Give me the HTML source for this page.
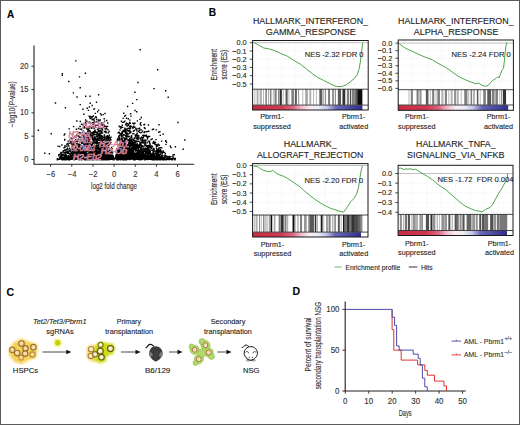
<!DOCTYPE html><html><head><meta charset="utf-8"><style>html,body{margin:0;padding:0;background:#fff;overflow:hidden}svg{display:block}text{font-family:"Liberation Sans",sans-serif}text.t{stroke:#2a2a2a;stroke-width:0.12px}</style></head><body>
<svg width="520" height="425" viewBox="0 0 520 425">
<rect width="520" height="425" fill="#fff"/>
<path fill="#000" d="M86.0 159.6 L90.0 157.0 L96.0 154.5 L103.0 152.5 L109.0 152.5 L112.8 155.5 L114.4 158.2 L115.6 155.5 L118.5 151.0 L125.0 150.5 L135.0 152.5 L145.0 155.0 L154.0 157.5 L160.0 159.6Z"/>
<path fill="#000" d="M95.2 156.7h1.4v1.4h-1.4zM91.6 151.3h1.4v1.4h-1.4zM65.9 158.4h1.4v1.4h-1.4zM88.6 153.5h1.4v1.4h-1.4zM99.8 130.1h1.4v1.4h-1.4zM153.3 153.3h1.4v1.4h-1.4zM126.7 132.6h1.4v1.4h-1.4zM91.2 137.3h1.4v1.4h-1.4zM109.0 151.8h1.4v1.4h-1.4zM159.0 157.9h1.4v1.4h-1.4zM92.2 145.0h1.4v1.4h-1.4zM130.4 149.4h1.4v1.4h-1.4zM80.8 159.0h1.4v1.4h-1.4zM106.4 144.9h1.4v1.4h-1.4zM104.1 137.8h1.4v1.4h-1.4zM107.5 132.0h1.4v1.4h-1.4zM141.6 148.5h1.4v1.4h-1.4zM102.4 159.1h1.4v1.4h-1.4zM84.9 152.7h1.4v1.4h-1.4zM117.3 156.9h1.4v1.4h-1.4zM133.1 142.4h1.4v1.4h-1.4zM91.0 143.9h1.4v1.4h-1.4zM80.2 136.2h1.4v1.4h-1.4zM135.4 145.8h1.4v1.4h-1.4zM122.2 144.7h1.4v1.4h-1.4zM134.9 143.9h1.4v1.4h-1.4zM122.3 156.2h1.4v1.4h-1.4zM159.9 147.0h1.4v1.4h-1.4zM87.3 139.9h1.4v1.4h-1.4zM136.5 132.6h1.4v1.4h-1.4zM78.1 155.4h1.4v1.4h-1.4zM68.9 157.3h1.4v1.4h-1.4zM89.7 152.1h1.4v1.4h-1.4zM125.6 147.6h1.4v1.4h-1.4zM71.5 156.3h1.4v1.4h-1.4zM124.6 152.7h1.4v1.4h-1.4zM124.7 152.6h1.4v1.4h-1.4zM98.2 131.0h1.4v1.4h-1.4zM141.0 154.9h1.4v1.4h-1.4zM84.9 145.8h1.4v1.4h-1.4zM89.2 142.5h1.4v1.4h-1.4zM166.3 158.3h1.4v1.4h-1.4zM118.9 155.8h1.4v1.4h-1.4zM86.4 145.4h1.4v1.4h-1.4zM80.6 157.1h1.4v1.4h-1.4zM101.3 144.3h1.4v1.4h-1.4zM72.6 154.8h1.4v1.4h-1.4zM82.9 134.2h1.4v1.4h-1.4zM97.0 151.8h1.4v1.4h-1.4zM86.3 136.6h1.4v1.4h-1.4zM162.5 150.3h1.4v1.4h-1.4zM149.7 157.8h1.4v1.4h-1.4zM92.4 126.2h1.4v1.4h-1.4zM79.8 156.3h1.4v1.4h-1.4zM66.0 155.7h1.4v1.4h-1.4zM122.1 137.4h1.4v1.4h-1.4zM93.7 142.4h1.4v1.4h-1.4zM138.6 155.6h1.4v1.4h-1.4zM104.0 150.1h1.4v1.4h-1.4zM117.8 158.7h1.4v1.4h-1.4zM129.3 138.4h1.4v1.4h-1.4zM96.9 139.0h1.4v1.4h-1.4zM110.6 154.6h1.4v1.4h-1.4zM108.9 156.0h1.4v1.4h-1.4zM166.4 155.7h1.4v1.4h-1.4zM80.8 158.4h1.4v1.4h-1.4zM90.3 144.0h1.4v1.4h-1.4zM72.8 157.1h1.4v1.4h-1.4zM91.0 141.4h1.4v1.4h-1.4zM147.7 124.3h1.4v1.4h-1.4zM104.5 156.8h1.4v1.4h-1.4zM128.1 156.4h1.4v1.4h-1.4zM148.1 130.6h1.4v1.4h-1.4zM125.7 148.4h1.4v1.4h-1.4zM94.6 138.6h1.4v1.4h-1.4zM82.4 142.4h1.4v1.4h-1.4zM91.9 148.8h1.4v1.4h-1.4zM149.7 145.9h1.4v1.4h-1.4zM120.7 132.6h1.4v1.4h-1.4zM82.6 155.7h1.4v1.4h-1.4zM68.4 158.3h1.4v1.4h-1.4zM123.6 157.2h1.4v1.4h-1.4zM130.6 154.6h1.4v1.4h-1.4zM118.7 156.4h1.4v1.4h-1.4zM148.7 146.1h1.4v1.4h-1.4zM82.8 151.1h1.4v1.4h-1.4zM85.4 150.8h1.4v1.4h-1.4zM153.2 157.2h1.4v1.4h-1.4zM123.3 155.4h1.4v1.4h-1.4zM148.8 158.1h1.4v1.4h-1.4zM69.1 140.6h1.4v1.4h-1.4zM89.9 155.8h1.4v1.4h-1.4zM121.5 158.9h1.4v1.4h-1.4zM77.2 143.2h1.4v1.4h-1.4zM103.6 151.4h1.4v1.4h-1.4zM96.4 139.6h1.4v1.4h-1.4zM105.7 143.3h1.4v1.4h-1.4zM120.1 158.5h1.4v1.4h-1.4zM130.1 158.2h1.4v1.4h-1.4zM82.1 140.0h1.4v1.4h-1.4zM121.7 130.8h1.4v1.4h-1.4zM128.9 149.8h1.4v1.4h-1.4zM84.4 157.1h1.4v1.4h-1.4zM118.4 158.4h1.4v1.4h-1.4zM126.1 134.1h1.4v1.4h-1.4zM144.5 142.7h1.4v1.4h-1.4zM86.0 147.4h1.4v1.4h-1.4zM141.6 157.7h1.4v1.4h-1.4zM101.7 127.3h1.4v1.4h-1.4zM63.1 149.9h1.4v1.4h-1.4zM129.1 153.4h1.4v1.4h-1.4zM141.4 154.0h1.4v1.4h-1.4zM67.5 157.7h1.4v1.4h-1.4zM165.4 159.0h1.4v1.4h-1.4zM135.9 156.4h1.4v1.4h-1.4zM99.4 138.3h1.4v1.4h-1.4zM88.0 158.5h1.4v1.4h-1.4zM133.0 123.1h1.4v1.4h-1.4zM75.5 157.4h1.4v1.4h-1.4zM163.7 157.0h1.4v1.4h-1.4zM81.8 150.8h1.4v1.4h-1.4zM65.0 151.2h1.4v1.4h-1.4zM157.4 157.5h1.4v1.4h-1.4zM127.7 148.2h1.4v1.4h-1.4zM128.3 146.9h1.4v1.4h-1.4zM156.5 149.5h1.4v1.4h-1.4zM100.6 155.6h1.4v1.4h-1.4zM87.7 136.9h1.4v1.4h-1.4zM145.4 148.3h1.4v1.4h-1.4zM71.8 157.1h1.4v1.4h-1.4zM132.0 158.1h1.4v1.4h-1.4zM97.6 158.6h1.4v1.4h-1.4zM87.9 138.1h1.4v1.4h-1.4zM96.1 157.6h1.4v1.4h-1.4zM91.3 152.0h1.4v1.4h-1.4zM65.8 155.6h1.4v1.4h-1.4zM143.7 127.0h1.4v1.4h-1.4zM89.5 151.6h1.4v1.4h-1.4zM148.0 157.9h1.4v1.4h-1.4zM102.4 158.0h1.4v1.4h-1.4zM144.8 155.2h1.4v1.4h-1.4zM87.5 133.1h1.4v1.4h-1.4zM138.6 155.9h1.4v1.4h-1.4zM134.7 134.2h1.4v1.4h-1.4zM155.0 150.4h1.4v1.4h-1.4zM89.8 142.8h1.4v1.4h-1.4zM96.9 156.0h1.4v1.4h-1.4zM158.5 157.8h1.4v1.4h-1.4zM127.1 157.4h1.4v1.4h-1.4zM122.5 143.4h1.4v1.4h-1.4zM64.5 149.5h1.4v1.4h-1.4zM94.0 156.0h1.4v1.4h-1.4zM86.6 150.3h1.4v1.4h-1.4zM87.7 131.1h1.4v1.4h-1.4zM95.3 158.9h1.4v1.4h-1.4zM84.6 144.2h1.4v1.4h-1.4zM90.8 155.6h1.4v1.4h-1.4zM89.7 136.5h1.4v1.4h-1.4zM97.6 130.7h1.4v1.4h-1.4zM89.4 152.2h1.4v1.4h-1.4zM105.4 131.5h1.4v1.4h-1.4zM105.4 156.1h1.4v1.4h-1.4zM137.7 155.1h1.4v1.4h-1.4zM140.4 137.0h1.4v1.4h-1.4zM171.6 159.1h1.4v1.4h-1.4zM89.9 117.9h1.4v1.4h-1.4zM121.3 137.5h1.4v1.4h-1.4zM117.2 138.2h1.4v1.4h-1.4zM93.6 156.2h1.4v1.4h-1.4zM158.7 144.6h1.4v1.4h-1.4zM89.7 156.0h1.4v1.4h-1.4zM129.0 146.8h1.4v1.4h-1.4zM92.6 138.9h1.4v1.4h-1.4zM90.0 133.9h1.4v1.4h-1.4zM71.7 156.8h1.4v1.4h-1.4zM120.6 155.1h1.4v1.4h-1.4zM143.3 134.4h1.4v1.4h-1.4zM140.2 157.3h1.4v1.4h-1.4zM156.4 154.0h1.4v1.4h-1.4zM153.0 157.5h1.4v1.4h-1.4zM139.7 146.5h1.4v1.4h-1.4zM118.0 157.8h1.4v1.4h-1.4zM120.7 146.3h1.4v1.4h-1.4zM127.1 140.4h1.4v1.4h-1.4zM134.6 156.0h1.4v1.4h-1.4zM104.9 140.4h1.4v1.4h-1.4zM158.5 149.6h1.4v1.4h-1.4zM69.4 150.5h1.4v1.4h-1.4zM84.3 158.7h1.4v1.4h-1.4zM162.0 159.0h1.4v1.4h-1.4zM83.8 158.1h1.4v1.4h-1.4zM103.0 149.1h1.4v1.4h-1.4zM86.4 143.7h1.4v1.4h-1.4zM85.5 142.2h1.4v1.4h-1.4zM156.0 151.2h1.4v1.4h-1.4zM164.5 156.3h1.4v1.4h-1.4zM151.9 155.4h1.4v1.4h-1.4zM125.1 139.1h1.4v1.4h-1.4zM132.9 151.2h1.4v1.4h-1.4zM132.6 153.1h1.4v1.4h-1.4zM88.4 159.1h1.4v1.4h-1.4zM81.9 138.4h1.4v1.4h-1.4zM79.3 125.9h1.4v1.4h-1.4zM141.7 150.3h1.4v1.4h-1.4zM82.7 148.7h1.4v1.4h-1.4zM82.3 146.6h1.4v1.4h-1.4zM116.5 155.9h1.4v1.4h-1.4zM139.0 143.8h1.4v1.4h-1.4zM138.7 131.5h1.4v1.4h-1.4zM82.9 156.4h1.4v1.4h-1.4zM84.2 154.7h1.4v1.4h-1.4zM94.3 155.8h1.4v1.4h-1.4zM160.9 155.0h1.4v1.4h-1.4zM101.5 158.5h1.4v1.4h-1.4zM97.9 151.2h1.4v1.4h-1.4zM91.6 153.8h1.4v1.4h-1.4zM135.0 148.7h1.4v1.4h-1.4zM145.5 135.6h1.4v1.4h-1.4zM165.1 140.0h1.4v1.4h-1.4zM84.2 140.9h1.4v1.4h-1.4zM100.7 154.5h1.4v1.4h-1.4zM96.4 132.8h1.4v1.4h-1.4zM101.1 151.1h1.4v1.4h-1.4zM130.2 115.4h1.4v1.4h-1.4zM101.2 159.0h1.4v1.4h-1.4zM119.2 142.4h1.4v1.4h-1.4zM111.5 147.9h1.4v1.4h-1.4zM98.6 147.6h1.4v1.4h-1.4zM68.0 155.2h1.4v1.4h-1.4zM107.4 158.4h1.4v1.4h-1.4zM99.5 119.3h1.4v1.4h-1.4zM69.9 155.8h1.4v1.4h-1.4zM84.1 144.1h1.4v1.4h-1.4zM59.1 156.8h1.4v1.4h-1.4zM96.3 156.9h1.4v1.4h-1.4zM105.7 127.4h1.4v1.4h-1.4zM93.9 158.9h1.4v1.4h-1.4zM160.2 157.0h1.4v1.4h-1.4zM125.2 138.9h1.4v1.4h-1.4zM131.5 147.0h1.4v1.4h-1.4zM130.3 157.6h1.4v1.4h-1.4zM112.6 157.6h1.4v1.4h-1.4zM123.5 153.4h1.4v1.4h-1.4zM122.2 145.5h1.4v1.4h-1.4zM124.2 153.4h1.4v1.4h-1.4zM145.0 157.7h1.4v1.4h-1.4zM83.6 157.0h1.4v1.4h-1.4zM153.7 159.0h1.4v1.4h-1.4zM77.3 149.0h1.4v1.4h-1.4zM85.5 158.0h1.4v1.4h-1.4zM143.4 131.9h1.4v1.4h-1.4zM153.5 150.3h1.4v1.4h-1.4zM156.2 148.5h1.4v1.4h-1.4zM94.2 131.5h1.4v1.4h-1.4zM140.5 152.4h1.4v1.4h-1.4zM85.4 155.1h1.4v1.4h-1.4zM92.4 153.1h1.4v1.4h-1.4zM76.7 158.5h1.4v1.4h-1.4zM96.7 159.1h1.4v1.4h-1.4zM88.3 139.9h1.4v1.4h-1.4zM85.4 155.6h1.4v1.4h-1.4zM87.6 144.5h1.4v1.4h-1.4zM92.5 132.5h1.4v1.4h-1.4zM101.6 122.8h1.4v1.4h-1.4zM97.9 156.1h1.4v1.4h-1.4zM95.1 141.7h1.4v1.4h-1.4zM99.4 154.4h1.4v1.4h-1.4zM168.8 157.5h1.4v1.4h-1.4zM127.7 156.0h1.4v1.4h-1.4zM85.0 140.1h1.4v1.4h-1.4zM134.8 156.1h1.4v1.4h-1.4zM60.9 158.9h1.4v1.4h-1.4zM87.6 143.5h1.4v1.4h-1.4zM105.2 130.7h1.4v1.4h-1.4zM147.8 148.3h1.4v1.4h-1.4zM88.8 148.2h1.4v1.4h-1.4zM94.7 156.4h1.4v1.4h-1.4zM126.2 156.1h1.4v1.4h-1.4zM124.7 142.7h1.4v1.4h-1.4zM79.3 154.4h1.4v1.4h-1.4zM97.3 155.4h1.4v1.4h-1.4zM120.6 145.2h1.4v1.4h-1.4zM144.6 150.8h1.4v1.4h-1.4zM101.6 156.4h1.4v1.4h-1.4zM72.2 153.1h1.4v1.4h-1.4zM142.0 154.3h1.4v1.4h-1.4zM75.7 128.6h1.4v1.4h-1.4zM152.9 154.4h1.4v1.4h-1.4zM82.6 153.4h1.4v1.4h-1.4zM130.9 152.9h1.4v1.4h-1.4zM133.3 155.1h1.4v1.4h-1.4zM147.8 157.1h1.4v1.4h-1.4zM136.9 146.4h1.4v1.4h-1.4zM88.9 149.0h1.4v1.4h-1.4zM125.2 143.5h1.4v1.4h-1.4zM135.0 150.4h1.4v1.4h-1.4zM99.2 138.4h1.4v1.4h-1.4zM154.8 155.5h1.4v1.4h-1.4zM139.4 142.3h1.4v1.4h-1.4zM83.3 153.4h1.4v1.4h-1.4zM122.7 150.4h1.4v1.4h-1.4zM62.5 150.6h1.4v1.4h-1.4zM102.8 156.9h1.4v1.4h-1.4zM92.9 146.5h1.4v1.4h-1.4zM85.7 122.8h1.4v1.4h-1.4zM142.8 145.4h1.4v1.4h-1.4zM129.6 139.1h1.4v1.4h-1.4zM128.2 143.8h1.4v1.4h-1.4zM140.4 147.9h1.4v1.4h-1.4zM154.2 158.2h1.4v1.4h-1.4zM134.1 139.7h1.4v1.4h-1.4zM79.1 151.1h1.4v1.4h-1.4zM130.7 148.8h1.4v1.4h-1.4zM127.4 158.2h1.4v1.4h-1.4zM134.5 146.8h1.4v1.4h-1.4zM158.3 147.6h1.4v1.4h-1.4zM163.1 157.4h1.4v1.4h-1.4zM132.6 149.4h1.4v1.4h-1.4zM61.3 158.3h1.4v1.4h-1.4zM86.7 139.0h1.4v1.4h-1.4zM83.8 135.9h1.4v1.4h-1.4zM147.2 145.1h1.4v1.4h-1.4zM144.7 151.4h1.4v1.4h-1.4zM102.6 146.2h1.4v1.4h-1.4zM94.7 136.4h1.4v1.4h-1.4zM74.3 140.2h1.4v1.4h-1.4zM98.2 127.6h1.4v1.4h-1.4zM139.1 145.4h1.4v1.4h-1.4zM106.4 148.5h1.4v1.4h-1.4zM135.3 154.1h1.4v1.4h-1.4zM85.9 142.7h1.4v1.4h-1.4zM90.4 134.6h1.4v1.4h-1.4zM124.3 157.9h1.4v1.4h-1.4zM108.6 143.6h1.4v1.4h-1.4zM65.8 156.5h1.4v1.4h-1.4zM97.9 134.8h1.4v1.4h-1.4zM94.9 147.2h1.4v1.4h-1.4zM79.7 149.3h1.4v1.4h-1.4zM93.4 150.5h1.4v1.4h-1.4zM83.7 158.5h1.4v1.4h-1.4zM146.6 156.4h1.4v1.4h-1.4zM89.2 156.3h1.4v1.4h-1.4zM104.1 158.2h1.4v1.4h-1.4zM68.9 159.0h1.4v1.4h-1.4zM154.4 151.4h1.4v1.4h-1.4zM72.6 151.5h1.4v1.4h-1.4zM133.9 126.6h1.4v1.4h-1.4zM130.6 150.3h1.4v1.4h-1.4zM161.4 158.2h1.4v1.4h-1.4zM99.1 158.5h1.4v1.4h-1.4zM84.0 150.9h1.4v1.4h-1.4zM115.6 151.4h1.4v1.4h-1.4zM90.6 137.1h1.4v1.4h-1.4zM128.7 157.0h1.4v1.4h-1.4zM168.6 158.9h1.4v1.4h-1.4zM112.0 158.1h1.4v1.4h-1.4zM64.0 156.0h1.4v1.4h-1.4zM73.2 143.5h1.4v1.4h-1.4zM99.1 153.1h1.4v1.4h-1.4zM129.8 152.8h1.4v1.4h-1.4zM121.2 141.2h1.4v1.4h-1.4zM79.3 155.3h1.4v1.4h-1.4zM106.1 157.3h1.4v1.4h-1.4zM123.8 149.5h1.4v1.4h-1.4zM141.7 158.9h1.4v1.4h-1.4zM78.7 148.5h1.4v1.4h-1.4zM62.5 151.9h1.4v1.4h-1.4zM113.0 159.0h1.4v1.4h-1.4zM82.3 124.3h1.4v1.4h-1.4zM88.9 152.3h1.4v1.4h-1.4zM67.9 157.5h1.4v1.4h-1.4zM70.2 149.9h1.4v1.4h-1.4zM98.9 154.9h1.4v1.4h-1.4zM128.9 121.8h1.4v1.4h-1.4zM158.1 152.1h1.4v1.4h-1.4zM110.0 151.9h1.4v1.4h-1.4zM98.7 134.0h1.4v1.4h-1.4zM72.9 142.2h1.4v1.4h-1.4zM129.6 152.7h1.4v1.4h-1.4zM144.1 131.1h1.4v1.4h-1.4zM58.5 158.7h1.4v1.4h-1.4zM87.1 144.2h1.4v1.4h-1.4zM100.7 150.2h1.4v1.4h-1.4zM128.4 155.0h1.4v1.4h-1.4zM96.5 157.6h1.4v1.4h-1.4zM140.1 154.9h1.4v1.4h-1.4zM105.5 141.5h1.4v1.4h-1.4zM75.3 155.7h1.4v1.4h-1.4zM87.7 129.5h1.4v1.4h-1.4zM110.3 136.5h1.4v1.4h-1.4zM94.4 155.9h1.4v1.4h-1.4zM66.3 158.5h1.4v1.4h-1.4zM107.2 155.6h1.4v1.4h-1.4zM126.9 128.2h1.4v1.4h-1.4zM130.3 143.9h1.4v1.4h-1.4zM107.6 146.3h1.4v1.4h-1.4zM135.3 145.4h1.4v1.4h-1.4zM129.1 154.4h1.4v1.4h-1.4zM110.7 158.0h1.4v1.4h-1.4zM93.7 123.4h1.4v1.4h-1.4zM84.5 155.4h1.4v1.4h-1.4zM139.6 138.2h1.4v1.4h-1.4zM141.8 154.3h1.4v1.4h-1.4zM76.3 151.3h1.4v1.4h-1.4zM127.6 154.6h1.4v1.4h-1.4zM122.1 135.4h1.4v1.4h-1.4zM149.3 151.6h1.4v1.4h-1.4zM90.4 152.6h1.4v1.4h-1.4zM75.2 139.7h1.4v1.4h-1.4zM65.6 158.7h1.4v1.4h-1.4zM157.5 155.5h1.4v1.4h-1.4zM80.0 154.6h1.4v1.4h-1.4zM80.5 147.7h1.4v1.4h-1.4zM158.4 159.0h1.4v1.4h-1.4zM94.6 157.3h1.4v1.4h-1.4zM73.7 154.8h1.4v1.4h-1.4zM101.8 153.2h1.4v1.4h-1.4zM143.8 157.3h1.4v1.4h-1.4zM78.0 148.1h1.4v1.4h-1.4zM110.6 156.2h1.4v1.4h-1.4zM166.0 158.9h1.4v1.4h-1.4zM140.6 157.2h1.4v1.4h-1.4zM133.4 141.3h1.4v1.4h-1.4zM157.8 148.4h1.4v1.4h-1.4zM104.4 150.2h1.4v1.4h-1.4zM95.6 139.7h1.4v1.4h-1.4zM150.8 154.2h1.4v1.4h-1.4zM103.7 156.6h1.4v1.4h-1.4zM71.2 146.7h1.4v1.4h-1.4zM133.3 142.3h1.4v1.4h-1.4zM135.7 145.0h1.4v1.4h-1.4zM94.1 134.2h1.4v1.4h-1.4zM68.3 159.1h1.4v1.4h-1.4zM143.6 150.5h1.4v1.4h-1.4zM76.1 120.3h1.4v1.4h-1.4zM103.5 155.4h1.4v1.4h-1.4zM105.9 156.2h1.4v1.4h-1.4zM85.1 158.8h1.4v1.4h-1.4zM84.9 119.3h1.4v1.4h-1.4zM128.8 145.4h1.4v1.4h-1.4zM96.3 147.1h1.4v1.4h-1.4zM148.9 135.7h1.4v1.4h-1.4zM98.8 133.7h1.4v1.4h-1.4zM91.6 136.8h1.4v1.4h-1.4zM149.6 158.1h1.4v1.4h-1.4zM133.6 146.2h1.4v1.4h-1.4zM70.6 155.8h1.4v1.4h-1.4zM158.7 157.4h1.4v1.4h-1.4zM96.2 152.4h1.4v1.4h-1.4zM108.4 136.2h1.4v1.4h-1.4zM122.1 158.0h1.4v1.4h-1.4zM88.0 128.6h1.4v1.4h-1.4zM96.5 151.4h1.4v1.4h-1.4zM152.3 142.3h1.4v1.4h-1.4zM154.6 158.9h1.4v1.4h-1.4zM98.5 137.0h1.4v1.4h-1.4zM133.1 139.5h1.4v1.4h-1.4zM132.9 155.8h1.4v1.4h-1.4zM156.7 156.8h1.4v1.4h-1.4zM122.8 157.7h1.4v1.4h-1.4zM84.0 142.2h1.4v1.4h-1.4zM98.6 157.1h1.4v1.4h-1.4zM148.6 151.1h1.4v1.4h-1.4zM83.6 133.2h1.4v1.4h-1.4zM75.3 156.2h1.4v1.4h-1.4zM155.6 156.3h1.4v1.4h-1.4zM56.7 159.1h1.4v1.4h-1.4zM96.4 141.6h1.4v1.4h-1.4zM117.0 157.6h1.4v1.4h-1.4zM162.5 133.6h1.4v1.4h-1.4zM59.0 157.2h1.4v1.4h-1.4zM83.0 135.6h1.4v1.4h-1.4zM134.7 140.5h1.4v1.4h-1.4zM90.1 151.1h1.4v1.4h-1.4zM151.4 154.7h1.4v1.4h-1.4zM95.9 141.6h1.4v1.4h-1.4zM126.9 124.7h1.4v1.4h-1.4zM131.7 126.7h1.4v1.4h-1.4zM132.8 149.3h1.4v1.4h-1.4zM93.6 151.5h1.4v1.4h-1.4zM85.4 155.0h1.4v1.4h-1.4zM85.7 133.6h1.4v1.4h-1.4zM120.1 139.1h1.4v1.4h-1.4zM84.7 140.6h1.4v1.4h-1.4zM92.7 152.4h1.4v1.4h-1.4zM128.5 150.4h1.4v1.4h-1.4zM101.7 158.5h1.4v1.4h-1.4zM130.6 150.6h1.4v1.4h-1.4zM141.0 141.6h1.4v1.4h-1.4zM87.5 146.6h1.4v1.4h-1.4zM132.0 157.1h1.4v1.4h-1.4zM92.1 137.6h1.4v1.4h-1.4zM67.6 151.2h1.4v1.4h-1.4zM119.1 155.6h1.4v1.4h-1.4zM161.0 158.4h1.4v1.4h-1.4zM91.2 151.9h1.4v1.4h-1.4zM160.8 156.8h1.4v1.4h-1.4zM133.6 144.1h1.4v1.4h-1.4zM141.0 157.8h1.4v1.4h-1.4zM163.7 158.0h1.4v1.4h-1.4zM150.2 154.5h1.4v1.4h-1.4zM119.7 148.6h1.4v1.4h-1.4zM144.8 158.3h1.4v1.4h-1.4zM167.8 158.3h1.4v1.4h-1.4zM88.9 121.3h1.4v1.4h-1.4zM127.0 156.9h1.4v1.4h-1.4zM89.3 145.9h1.4v1.4h-1.4zM130.4 140.7h1.4v1.4h-1.4zM123.2 136.9h1.4v1.4h-1.4zM134.4 109.8h1.4v1.4h-1.4zM131.3 153.2h1.4v1.4h-1.4zM73.5 152.2h1.4v1.4h-1.4zM144.4 153.2h1.4v1.4h-1.4zM127.8 127.7h1.4v1.4h-1.4zM69.4 157.1h1.4v1.4h-1.4zM84.7 153.5h1.4v1.4h-1.4zM128.0 144.8h1.4v1.4h-1.4zM101.3 158.5h1.4v1.4h-1.4zM88.2 133.2h1.4v1.4h-1.4zM128.9 158.0h1.4v1.4h-1.4zM118.2 147.7h1.4v1.4h-1.4zM87.6 157.2h1.4v1.4h-1.4zM122.8 155.3h1.4v1.4h-1.4zM101.8 156.4h1.4v1.4h-1.4zM84.8 157.1h1.4v1.4h-1.4zM71.8 152.7h1.4v1.4h-1.4zM156.6 150.9h1.4v1.4h-1.4zM83.1 152.0h1.4v1.4h-1.4zM104.5 155.1h1.4v1.4h-1.4zM101.4 140.9h1.4v1.4h-1.4zM102.8 147.1h1.4v1.4h-1.4zM94.0 136.9h1.4v1.4h-1.4zM96.2 158.5h1.4v1.4h-1.4zM80.8 128.9h1.4v1.4h-1.4zM138.3 158.6h1.4v1.4h-1.4zM169.1 158.7h1.4v1.4h-1.4zM128.7 149.1h1.4v1.4h-1.4zM120.8 149.0h1.4v1.4h-1.4zM76.1 141.8h1.4v1.4h-1.4zM97.5 133.5h1.4v1.4h-1.4zM119.1 146.6h1.4v1.4h-1.4zM128.5 157.4h1.4v1.4h-1.4zM130.2 141.2h1.4v1.4h-1.4zM91.1 156.6h1.4v1.4h-1.4zM139.1 157.3h1.4v1.4h-1.4zM96.1 149.2h1.4v1.4h-1.4zM78.3 158.9h1.4v1.4h-1.4zM135.7 157.8h1.4v1.4h-1.4zM137.3 150.0h1.4v1.4h-1.4zM92.2 148.0h1.4v1.4h-1.4zM141.4 152.8h1.4v1.4h-1.4zM63.3 147.1h1.4v1.4h-1.4zM155.1 153.1h1.4v1.4h-1.4zM135.5 128.7h1.4v1.4h-1.4zM74.6 152.0h1.4v1.4h-1.4zM90.6 144.9h1.4v1.4h-1.4zM101.2 146.8h1.4v1.4h-1.4zM82.7 158.2h1.4v1.4h-1.4zM123.1 159.1h1.4v1.4h-1.4zM116.7 147.7h1.4v1.4h-1.4zM118.9 150.8h1.4v1.4h-1.4zM128.2 133.2h1.4v1.4h-1.4zM84.0 145.3h1.4v1.4h-1.4zM79.4 153.1h1.4v1.4h-1.4zM81.4 157.2h1.4v1.4h-1.4zM65.7 148.7h1.4v1.4h-1.4zM128.6 155.1h1.4v1.4h-1.4zM120.8 158.6h1.4v1.4h-1.4zM133.6 142.0h1.4v1.4h-1.4zM77.7 145.1h1.4v1.4h-1.4zM76.7 154.6h1.4v1.4h-1.4zM136.4 153.3h1.4v1.4h-1.4zM71.9 148.4h1.4v1.4h-1.4zM109.0 152.7h1.4v1.4h-1.4zM83.3 152.1h1.4v1.4h-1.4zM106.7 140.2h1.4v1.4h-1.4zM93.7 145.2h1.4v1.4h-1.4zM149.0 150.7h1.4v1.4h-1.4zM117.1 151.2h1.4v1.4h-1.4zM151.2 149.4h1.4v1.4h-1.4zM142.0 139.5h1.4v1.4h-1.4zM104.5 139.2h1.4v1.4h-1.4zM172.3 154.2h1.4v1.4h-1.4zM129.6 150.6h1.4v1.4h-1.4zM142.1 152.1h1.4v1.4h-1.4zM67.6 144.3h1.4v1.4h-1.4zM73.8 148.0h1.4v1.4h-1.4zM67.1 152.7h1.4v1.4h-1.4zM97.6 158.6h1.4v1.4h-1.4zM106.4 150.5h1.4v1.4h-1.4zM120.3 147.2h1.4v1.4h-1.4zM83.6 138.7h1.4v1.4h-1.4zM108.3 151.4h1.4v1.4h-1.4zM95.2 150.3h1.4v1.4h-1.4zM72.7 157.0h1.4v1.4h-1.4zM89.7 149.2h1.4v1.4h-1.4zM112.0 157.4h1.4v1.4h-1.4zM131.4 143.3h1.4v1.4h-1.4zM83.2 155.8h1.4v1.4h-1.4zM103.1 141.7h1.4v1.4h-1.4zM60.6 157.2h1.4v1.4h-1.4zM121.4 153.7h1.4v1.4h-1.4zM93.9 155.0h1.4v1.4h-1.4zM130.2 158.0h1.4v1.4h-1.4zM165.9 141.7h1.4v1.4h-1.4zM93.2 152.1h1.4v1.4h-1.4zM161.2 157.7h1.4v1.4h-1.4zM83.2 152.5h1.4v1.4h-1.4zM86.4 128.3h1.4v1.4h-1.4zM88.3 147.2h1.4v1.4h-1.4zM69.0 156.8h1.4v1.4h-1.4zM105.2 148.4h1.4v1.4h-1.4zM119.1 142.9h1.4v1.4h-1.4zM89.8 142.9h1.4v1.4h-1.4zM104.2 148.3h1.4v1.4h-1.4zM76.9 147.9h1.4v1.4h-1.4zM133.6 137.6h1.4v1.4h-1.4zM85.8 147.7h1.4v1.4h-1.4zM89.4 148.4h1.4v1.4h-1.4zM93.4 142.4h1.4v1.4h-1.4zM61.0 156.6h1.4v1.4h-1.4zM66.9 158.1h1.4v1.4h-1.4zM93.1 152.2h1.4v1.4h-1.4zM152.5 156.2h1.4v1.4h-1.4zM66.8 157.1h1.4v1.4h-1.4zM123.5 145.6h1.4v1.4h-1.4zM110.6 156.0h1.4v1.4h-1.4zM96.1 145.1h1.4v1.4h-1.4zM130.5 152.9h1.4v1.4h-1.4zM141.0 141.5h1.4v1.4h-1.4zM124.8 138.7h1.4v1.4h-1.4zM64.7 158.8h1.4v1.4h-1.4zM133.5 153.8h1.4v1.4h-1.4zM119.3 155.9h1.4v1.4h-1.4zM119.6 141.4h1.4v1.4h-1.4zM128.8 140.9h1.4v1.4h-1.4zM135.7 147.9h1.4v1.4h-1.4zM136.4 137.7h1.4v1.4h-1.4zM151.7 154.2h1.4v1.4h-1.4zM84.6 147.7h1.4v1.4h-1.4zM88.2 151.5h1.4v1.4h-1.4zM100.6 114.3h1.4v1.4h-1.4zM158.6 157.3h1.4v1.4h-1.4zM146.3 158.3h1.4v1.4h-1.4zM99.4 128.2h1.4v1.4h-1.4zM145.0 155.2h1.4v1.4h-1.4zM104.9 149.0h1.4v1.4h-1.4zM143.5 141.8h1.4v1.4h-1.4zM106.9 158.4h1.4v1.4h-1.4zM71.5 144.2h1.4v1.4h-1.4zM144.3 148.2h1.4v1.4h-1.4zM124.3 138.6h1.4v1.4h-1.4zM91.1 145.6h1.4v1.4h-1.4zM155.7 158.6h1.4v1.4h-1.4zM107.2 158.5h1.4v1.4h-1.4zM117.5 132.1h1.4v1.4h-1.4zM110.2 157.8h1.4v1.4h-1.4zM145.0 155.2h1.4v1.4h-1.4zM129.2 132.1h1.4v1.4h-1.4zM77.9 157.9h1.4v1.4h-1.4zM144.6 150.1h1.4v1.4h-1.4zM90.3 135.2h1.4v1.4h-1.4zM138.5 155.2h1.4v1.4h-1.4zM87.8 153.1h1.4v1.4h-1.4zM103.2 157.2h1.4v1.4h-1.4zM143.0 148.2h1.4v1.4h-1.4zM104.2 156.5h1.4v1.4h-1.4zM112.2 158.8h1.4v1.4h-1.4zM107.7 155.4h1.4v1.4h-1.4zM109.5 151.6h1.4v1.4h-1.4zM98.7 153.3h1.4v1.4h-1.4zM99.1 148.4h1.4v1.4h-1.4zM118.9 135.0h1.4v1.4h-1.4zM168.2 158.6h1.4v1.4h-1.4zM132.2 151.1h1.4v1.4h-1.4zM81.6 147.2h1.4v1.4h-1.4zM94.1 129.7h1.4v1.4h-1.4zM106.8 156.4h1.4v1.4h-1.4zM83.7 149.1h1.4v1.4h-1.4zM129.6 154.8h1.4v1.4h-1.4zM101.4 151.4h1.4v1.4h-1.4zM111.6 157.7h1.4v1.4h-1.4zM123.9 154.4h1.4v1.4h-1.4zM120.9 135.7h1.4v1.4h-1.4zM82.0 157.1h1.4v1.4h-1.4zM129.7 154.7h1.4v1.4h-1.4zM122.5 153.3h1.4v1.4h-1.4zM116.9 157.5h1.4v1.4h-1.4zM80.9 155.0h1.4v1.4h-1.4zM103.2 151.8h1.4v1.4h-1.4zM74.8 149.4h1.4v1.4h-1.4zM163.7 158.8h1.4v1.4h-1.4zM140.8 155.8h1.4v1.4h-1.4zM140.0 147.2h1.4v1.4h-1.4zM76.1 155.1h1.4v1.4h-1.4zM108.6 152.1h1.4v1.4h-1.4zM89.2 156.1h1.4v1.4h-1.4zM157.1 156.8h1.4v1.4h-1.4zM101.2 155.0h1.4v1.4h-1.4zM61.9 155.0h1.4v1.4h-1.4zM128.5 154.8h1.4v1.4h-1.4zM127.2 135.4h1.4v1.4h-1.4zM152.6 150.7h1.4v1.4h-1.4zM83.5 144.5h1.4v1.4h-1.4zM140.7 157.0h1.4v1.4h-1.4zM78.7 144.7h1.4v1.4h-1.4zM85.5 158.8h1.4v1.4h-1.4zM89.3 155.3h1.4v1.4h-1.4zM136.0 156.9h1.4v1.4h-1.4zM126.8 130.1h1.4v1.4h-1.4zM140.3 154.4h1.4v1.4h-1.4zM155.8 158.4h1.4v1.4h-1.4zM88.5 115.6h1.4v1.4h-1.4zM124.8 148.2h1.4v1.4h-1.4zM104.5 157.0h1.4v1.4h-1.4zM122.5 157.1h1.4v1.4h-1.4zM135.4 152.8h1.4v1.4h-1.4zM110.4 157.4h1.4v1.4h-1.4zM148.0 144.7h1.4v1.4h-1.4zM90.2 134.0h1.4v1.4h-1.4zM174.7 146.1h1.4v1.4h-1.4zM159.0 157.1h1.4v1.4h-1.4zM124.0 157.7h1.4v1.4h-1.4zM123.9 140.1h1.4v1.4h-1.4zM80.0 149.8h1.4v1.4h-1.4zM122.9 144.0h1.4v1.4h-1.4zM83.9 157.9h1.4v1.4h-1.4zM84.8 157.3h1.4v1.4h-1.4zM69.8 142.1h1.4v1.4h-1.4zM98.0 144.5h1.4v1.4h-1.4zM70.6 143.2h1.4v1.4h-1.4zM135.6 137.7h1.4v1.4h-1.4zM93.6 150.4h1.4v1.4h-1.4zM120.4 132.9h1.4v1.4h-1.4zM119.2 142.5h1.4v1.4h-1.4zM131.3 151.8h1.4v1.4h-1.4zM66.2 158.6h1.4v1.4h-1.4zM79.6 155.7h1.4v1.4h-1.4zM138.4 147.2h1.4v1.4h-1.4zM96.7 158.3h1.4v1.4h-1.4zM88.6 130.2h1.4v1.4h-1.4zM83.8 156.6h1.4v1.4h-1.4zM109.2 139.5h1.4v1.4h-1.4zM132.8 139.0h1.4v1.4h-1.4zM89.5 155.7h1.4v1.4h-1.4zM105.3 154.4h1.4v1.4h-1.4zM101.5 152.7h1.4v1.4h-1.4zM139.3 152.6h1.4v1.4h-1.4zM138.2 149.6h1.4v1.4h-1.4zM158.9 147.2h1.4v1.4h-1.4zM139.7 154.7h1.4v1.4h-1.4zM159.6 134.7h1.4v1.4h-1.4zM95.2 153.8h1.4v1.4h-1.4zM159.0 150.4h1.4v1.4h-1.4zM149.7 150.2h1.4v1.4h-1.4zM149.8 152.7h1.4v1.4h-1.4zM104.9 149.0h1.4v1.4h-1.4zM92.3 157.4h1.4v1.4h-1.4zM153.6 154.8h1.4v1.4h-1.4zM105.9 157.9h1.4v1.4h-1.4zM100.2 147.7h1.4v1.4h-1.4zM134.7 155.5h1.4v1.4h-1.4zM129.4 152.7h1.4v1.4h-1.4zM96.6 154.2h1.4v1.4h-1.4zM135.7 146.4h1.4v1.4h-1.4zM130.8 146.7h1.4v1.4h-1.4zM168.6 155.8h1.4v1.4h-1.4zM111.3 148.4h1.4v1.4h-1.4zM70.6 152.7h1.4v1.4h-1.4zM128.4 147.3h1.4v1.4h-1.4zM138.5 137.2h1.4v1.4h-1.4zM108.4 159.0h1.4v1.4h-1.4zM146.3 155.1h1.4v1.4h-1.4zM107.7 138.6h1.4v1.4h-1.4zM135.0 148.3h1.4v1.4h-1.4zM140.1 155.6h1.4v1.4h-1.4zM83.8 152.8h1.4v1.4h-1.4zM102.8 158.1h1.4v1.4h-1.4zM102.6 147.5h1.4v1.4h-1.4zM103.9 156.4h1.4v1.4h-1.4zM93.1 154.5h1.4v1.4h-1.4zM88.3 153.0h1.4v1.4h-1.4zM147.0 146.0h1.4v1.4h-1.4zM79.8 132.4h1.4v1.4h-1.4zM154.0 142.1h1.4v1.4h-1.4zM103.3 156.3h1.4v1.4h-1.4zM68.6 142.7h1.4v1.4h-1.4zM71.5 140.4h1.4v1.4h-1.4zM100.6 146.4h1.4v1.4h-1.4zM75.4 147.8h1.4v1.4h-1.4zM99.9 156.3h1.4v1.4h-1.4zM152.8 155.5h1.4v1.4h-1.4zM155.5 152.7h1.4v1.4h-1.4zM91.5 155.5h1.4v1.4h-1.4zM104.9 152.4h1.4v1.4h-1.4zM136.3 158.7h1.4v1.4h-1.4zM117.8 158.4h1.4v1.4h-1.4zM95.7 116.8h1.4v1.4h-1.4zM132.4 146.2h1.4v1.4h-1.4zM73.7 155.6h1.4v1.4h-1.4zM66.1 151.8h1.4v1.4h-1.4zM116.2 148.3h1.4v1.4h-1.4zM126.4 151.3h1.4v1.4h-1.4zM120.6 134.9h1.4v1.4h-1.4zM96.0 118.8h1.4v1.4h-1.4zM84.1 155.1h1.4v1.4h-1.4zM122.7 129.8h1.4v1.4h-1.4zM123.7 142.4h1.4v1.4h-1.4zM161.3 153.4h1.4v1.4h-1.4zM68.5 128.2h1.4v1.4h-1.4zM95.3 147.1h1.4v1.4h-1.4zM97.7 127.9h1.4v1.4h-1.4zM86.7 154.4h1.4v1.4h-1.4zM98.3 158.5h1.4v1.4h-1.4zM137.1 156.9h1.4v1.4h-1.4zM141.0 149.2h1.4v1.4h-1.4zM165.0 140.6h1.4v1.4h-1.4zM83.0 146.3h1.4v1.4h-1.4zM139.6 158.5h1.4v1.4h-1.4zM108.4 154.5h1.4v1.4h-1.4zM80.4 145.1h1.4v1.4h-1.4zM96.3 140.1h1.4v1.4h-1.4zM101.1 154.6h1.4v1.4h-1.4zM130.5 158.0h1.4v1.4h-1.4zM86.1 120.6h1.4v1.4h-1.4zM125.4 137.2h1.4v1.4h-1.4zM101.2 158.3h1.4v1.4h-1.4zM83.2 113.6h1.4v1.4h-1.4zM86.0 157.3h1.4v1.4h-1.4zM125.9 130.3h1.4v1.4h-1.4zM96.6 136.0h1.4v1.4h-1.4zM120.0 154.5h1.4v1.4h-1.4zM105.1 159.0h1.4v1.4h-1.4zM108.5 130.8h1.4v1.4h-1.4zM97.3 138.4h1.4v1.4h-1.4zM70.3 137.5h1.4v1.4h-1.4zM112.5 155.8h1.4v1.4h-1.4zM104.4 154.0h1.4v1.4h-1.4zM123.2 141.5h1.4v1.4h-1.4zM65.9 151.3h1.4v1.4h-1.4zM108.6 134.5h1.4v1.4h-1.4zM110.8 158.6h1.4v1.4h-1.4zM101.1 124.0h1.4v1.4h-1.4zM72.0 150.7h1.4v1.4h-1.4zM122.3 149.6h1.4v1.4h-1.4zM158.5 155.0h1.4v1.4h-1.4zM99.8 152.6h1.4v1.4h-1.4zM127.5 151.7h1.4v1.4h-1.4zM125.4 124.2h1.4v1.4h-1.4zM96.4 155.6h1.4v1.4h-1.4zM117.1 152.3h1.4v1.4h-1.4zM157.5 157.4h1.4v1.4h-1.4zM147.9 155.9h1.4v1.4h-1.4zM133.2 141.9h1.4v1.4h-1.4zM94.0 137.4h1.4v1.4h-1.4zM147.2 158.2h1.4v1.4h-1.4zM134.6 155.2h1.4v1.4h-1.4zM124.7 149.1h1.4v1.4h-1.4zM65.5 158.1h1.4v1.4h-1.4zM110.8 157.6h1.4v1.4h-1.4zM104.1 151.6h1.4v1.4h-1.4zM156.1 152.7h1.4v1.4h-1.4zM120.1 150.0h1.4v1.4h-1.4zM147.4 153.0h1.4v1.4h-1.4zM93.4 121.9h1.4v1.4h-1.4zM99.3 157.3h1.4v1.4h-1.4zM63.5 154.5h1.4v1.4h-1.4zM68.6 158.9h1.4v1.4h-1.4zM124.3 154.2h1.4v1.4h-1.4zM136.1 150.1h1.4v1.4h-1.4zM120.5 152.7h1.4v1.4h-1.4zM120.0 146.0h1.4v1.4h-1.4zM69.5 154.1h1.4v1.4h-1.4zM123.1 121.5h1.4v1.4h-1.4zM61.8 157.0h1.4v1.4h-1.4zM79.1 157.1h1.4v1.4h-1.4zM110.5 151.3h1.4v1.4h-1.4zM81.4 151.9h1.4v1.4h-1.4zM140.7 146.6h1.4v1.4h-1.4zM130.3 157.8h1.4v1.4h-1.4zM146.3 136.4h1.4v1.4h-1.4zM169.6 145.4h1.4v1.4h-1.4zM82.8 150.2h1.4v1.4h-1.4zM103.4 142.1h1.4v1.4h-1.4zM78.1 154.7h1.4v1.4h-1.4zM152.9 157.3h1.4v1.4h-1.4zM75.0 158.5h1.4v1.4h-1.4zM112.9 158.8h1.4v1.4h-1.4zM103.5 136.6h1.4v1.4h-1.4zM96.9 147.5h1.4v1.4h-1.4zM87.8 153.6h1.4v1.4h-1.4zM97.2 150.6h1.4v1.4h-1.4zM100.0 132.6h1.4v1.4h-1.4zM110.9 156.4h1.4v1.4h-1.4zM62.0 154.2h1.4v1.4h-1.4zM71.5 157.6h1.4v1.4h-1.4zM158.0 151.2h1.4v1.4h-1.4zM80.6 148.6h1.4v1.4h-1.4zM108.7 137.1h1.4v1.4h-1.4zM133.0 149.3h1.4v1.4h-1.4zM152.2 152.3h1.4v1.4h-1.4zM125.9 148.0h1.4v1.4h-1.4zM83.8 156.9h1.4v1.4h-1.4zM129.6 153.2h1.4v1.4h-1.4zM82.9 137.8h1.4v1.4h-1.4zM74.9 154.5h1.4v1.4h-1.4zM80.9 158.4h1.4v1.4h-1.4zM150.5 155.6h1.4v1.4h-1.4zM139.9 148.7h1.4v1.4h-1.4zM84.1 154.6h1.4v1.4h-1.4zM98.0 154.5h1.4v1.4h-1.4zM157.1 154.9h1.4v1.4h-1.4zM95.6 121.1h1.4v1.4h-1.4zM148.0 157.5h1.4v1.4h-1.4zM101.8 135.4h1.4v1.4h-1.4zM156.1 158.8h1.4v1.4h-1.4zM115.5 156.9h1.4v1.4h-1.4zM134.3 148.8h1.4v1.4h-1.4zM72.5 152.0h1.4v1.4h-1.4zM97.1 148.2h1.4v1.4h-1.4zM123.3 148.8h1.4v1.4h-1.4zM111.9 158.1h1.4v1.4h-1.4zM62.7 157.5h1.4v1.4h-1.4zM99.4 156.7h1.4v1.4h-1.4zM74.8 150.1h1.4v1.4h-1.4zM90.5 126.8h1.4v1.4h-1.4zM153.7 155.0h1.4v1.4h-1.4zM146.3 152.2h1.4v1.4h-1.4zM160.8 156.9h1.4v1.4h-1.4zM140.0 156.3h1.4v1.4h-1.4zM88.2 158.5h1.4v1.4h-1.4zM75.1 151.3h1.4v1.4h-1.4zM121.3 158.1h1.4v1.4h-1.4zM139.0 129.7h1.4v1.4h-1.4zM99.5 148.6h1.4v1.4h-1.4zM118.1 137.3h1.4v1.4h-1.4zM161.6 151.7h1.4v1.4h-1.4zM72.8 149.0h1.4v1.4h-1.4zM94.9 142.4h1.4v1.4h-1.4zM91.5 149.0h1.4v1.4h-1.4zM139.6 154.8h1.4v1.4h-1.4zM91.9 148.8h1.4v1.4h-1.4zM91.7 153.2h1.4v1.4h-1.4zM87.2 137.6h1.4v1.4h-1.4zM104.5 144.9h1.4v1.4h-1.4zM102.7 138.5h1.4v1.4h-1.4zM83.4 134.3h1.4v1.4h-1.4zM120.8 152.6h1.4v1.4h-1.4zM73.5 155.2h1.4v1.4h-1.4zM160.1 159.0h1.4v1.4h-1.4zM68.0 151.8h1.4v1.4h-1.4zM109.2 155.6h1.4v1.4h-1.4zM144.9 140.5h1.4v1.4h-1.4zM72.5 152.7h1.4v1.4h-1.4zM159.0 158.8h1.4v1.4h-1.4zM85.0 141.6h1.4v1.4h-1.4zM104.3 158.3h1.4v1.4h-1.4zM136.1 153.5h1.4v1.4h-1.4zM97.9 119.2h1.4v1.4h-1.4zM154.1 143.4h1.4v1.4h-1.4zM118.4 125.4h1.4v1.4h-1.4zM101.8 137.9h1.4v1.4h-1.4zM118.3 139.4h1.4v1.4h-1.4zM115.3 157.4h1.4v1.4h-1.4zM101.8 128.3h1.4v1.4h-1.4zM131.1 138.7h1.4v1.4h-1.4zM155.9 155.5h1.4v1.4h-1.4zM135.7 152.6h1.4v1.4h-1.4zM124.8 158.8h1.4v1.4h-1.4zM142.6 157.8h1.4v1.4h-1.4zM132.8 153.7h1.4v1.4h-1.4zM88.8 156.1h1.4v1.4h-1.4zM89.6 155.6h1.4v1.4h-1.4zM125.8 159.0h1.4v1.4h-1.4zM84.6 141.1h1.4v1.4h-1.4zM103.4 150.7h1.4v1.4h-1.4zM127.6 157.3h1.4v1.4h-1.4zM72.3 158.4h1.4v1.4h-1.4zM131.6 155.3h1.4v1.4h-1.4zM123.4 134.3h1.4v1.4h-1.4zM80.6 138.3h1.4v1.4h-1.4zM62.9 158.7h1.4v1.4h-1.4zM144.7 151.8h1.4v1.4h-1.4zM83.7 143.4h1.4v1.4h-1.4zM95.0 141.3h1.4v1.4h-1.4zM73.3 143.4h1.4v1.4h-1.4zM158.8 150.8h1.4v1.4h-1.4zM78.5 146.5h1.4v1.4h-1.4zM119.2 154.6h1.4v1.4h-1.4zM88.2 122.0h1.4v1.4h-1.4zM125.4 141.6h1.4v1.4h-1.4zM137.5 151.5h1.4v1.4h-1.4zM118.1 147.5h1.4v1.4h-1.4zM152.7 148.5h1.4v1.4h-1.4zM74.0 136.5h1.4v1.4h-1.4zM101.9 148.3h1.4v1.4h-1.4zM119.6 158.3h1.4v1.4h-1.4zM74.7 152.5h1.4v1.4h-1.4zM84.3 152.6h1.4v1.4h-1.4zM144.8 154.3h1.4v1.4h-1.4zM81.1 157.2h1.4v1.4h-1.4zM124.0 139.7h1.4v1.4h-1.4zM163.3 157.2h1.4v1.4h-1.4zM65.5 154.1h1.4v1.4h-1.4zM91.2 141.9h1.4v1.4h-1.4zM143.4 145.4h1.4v1.4h-1.4zM143.8 156.0h1.4v1.4h-1.4zM118.7 155.8h1.4v1.4h-1.4zM127.6 155.0h1.4v1.4h-1.4zM138.0 134.9h1.4v1.4h-1.4zM92.5 134.3h1.4v1.4h-1.4zM101.8 144.5h1.4v1.4h-1.4zM91.5 155.1h1.4v1.4h-1.4zM92.6 157.3h1.4v1.4h-1.4zM157.2 156.4h1.4v1.4h-1.4zM100.7 155.4h1.4v1.4h-1.4zM103.8 154.8h1.4v1.4h-1.4zM119.6 159.1h1.4v1.4h-1.4zM72.5 157.7h1.4v1.4h-1.4zM104.6 143.2h1.4v1.4h-1.4zM130.0 143.6h1.4v1.4h-1.4zM101.6 155.6h1.4v1.4h-1.4zM67.9 158.9h1.4v1.4h-1.4zM92.8 137.7h1.4v1.4h-1.4zM92.7 156.1h1.4v1.4h-1.4zM100.9 142.6h1.4v1.4h-1.4zM160.0 157.6h1.4v1.4h-1.4zM97.3 157.5h1.4v1.4h-1.4zM159.7 153.5h1.4v1.4h-1.4zM121.7 151.2h1.4v1.4h-1.4zM135.3 149.7h1.4v1.4h-1.4zM79.6 154.2h1.4v1.4h-1.4zM98.2 155.0h1.4v1.4h-1.4zM100.9 135.8h1.4v1.4h-1.4zM120.2 153.9h1.4v1.4h-1.4zM144.2 156.1h1.4v1.4h-1.4zM124.7 146.9h1.4v1.4h-1.4zM93.3 156.8h1.4v1.4h-1.4zM84.7 152.6h1.4v1.4h-1.4zM109.0 147.9h1.4v1.4h-1.4zM174.6 157.8h1.4v1.4h-1.4zM100.3 147.5h1.4v1.4h-1.4zM143.3 124.0h1.4v1.4h-1.4zM76.0 151.2h1.4v1.4h-1.4zM99.8 155.2h1.4v1.4h-1.4zM122.2 146.1h1.4v1.4h-1.4zM89.8 154.9h1.4v1.4h-1.4zM141.1 139.4h1.4v1.4h-1.4zM142.1 155.3h1.4v1.4h-1.4zM107.2 141.4h1.4v1.4h-1.4zM64.1 154.5h1.4v1.4h-1.4zM145.9 157.1h1.4v1.4h-1.4zM127.7 158.3h1.4v1.4h-1.4zM158.6 154.0h1.4v1.4h-1.4zM64.6 155.6h1.4v1.4h-1.4zM91.6 150.1h1.4v1.4h-1.4zM146.3 157.4h1.4v1.4h-1.4zM104.2 128.2h1.4v1.4h-1.4zM138.0 136.6h1.4v1.4h-1.4zM128.9 138.1h1.4v1.4h-1.4zM80.5 154.7h1.4v1.4h-1.4zM106.7 145.6h1.4v1.4h-1.4zM121.5 149.3h1.4v1.4h-1.4zM100.8 153.0h1.4v1.4h-1.4zM132.7 130.6h1.4v1.4h-1.4zM144.3 149.5h1.4v1.4h-1.4zM99.0 158.4h1.4v1.4h-1.4zM122.7 158.5h1.4v1.4h-1.4zM124.1 153.1h1.4v1.4h-1.4zM70.4 148.4h1.4v1.4h-1.4zM105.9 136.2h1.4v1.4h-1.4zM89.6 150.8h1.4v1.4h-1.4zM80.7 154.6h1.4v1.4h-1.4zM115.4 153.9h1.4v1.4h-1.4zM154.2 155.8h1.4v1.4h-1.4zM87.3 157.8h1.4v1.4h-1.4zM124.7 154.8h1.4v1.4h-1.4zM98.9 146.6h1.4v1.4h-1.4zM143.9 155.4h1.4v1.4h-1.4zM105.7 147.7h1.4v1.4h-1.4zM93.6 158.7h1.4v1.4h-1.4zM128.7 154.8h1.4v1.4h-1.4zM89.3 153.1h1.4v1.4h-1.4zM103.5 118.0h1.4v1.4h-1.4zM60.4 155.0h1.4v1.4h-1.4zM134.9 158.3h1.4v1.4h-1.4zM82.2 158.4h1.4v1.4h-1.4zM130.2 151.9h1.4v1.4h-1.4zM95.6 141.7h1.4v1.4h-1.4zM140.5 149.8h1.4v1.4h-1.4zM93.6 136.3h1.4v1.4h-1.4zM101.8 139.8h1.4v1.4h-1.4zM141.2 155.5h1.4v1.4h-1.4zM121.3 131.7h1.4v1.4h-1.4zM97.1 152.8h1.4v1.4h-1.4zM85.1 127.2h1.4v1.4h-1.4zM122.0 139.8h1.4v1.4h-1.4zM88.6 151.5h1.4v1.4h-1.4zM59.7 153.0h1.4v1.4h-1.4zM135.1 147.3h1.4v1.4h-1.4zM152.9 140.9h1.4v1.4h-1.4zM105.2 158.8h1.4v1.4h-1.4zM144.0 157.0h1.4v1.4h-1.4zM107.5 155.1h1.4v1.4h-1.4zM142.6 151.9h1.4v1.4h-1.4zM88.2 121.8h1.4v1.4h-1.4zM145.9 149.3h1.4v1.4h-1.4zM87.8 146.8h1.4v1.4h-1.4zM84.7 158.5h1.4v1.4h-1.4zM81.8 152.1h1.4v1.4h-1.4zM79.3 157.3h1.4v1.4h-1.4zM102.7 152.7h1.4v1.4h-1.4zM152.7 155.4h1.4v1.4h-1.4zM64.7 157.7h1.4v1.4h-1.4zM84.4 133.1h1.4v1.4h-1.4zM78.5 149.2h1.4v1.4h-1.4zM91.9 156.6h1.4v1.4h-1.4zM120.0 147.4h1.4v1.4h-1.4zM128.8 144.8h1.4v1.4h-1.4zM91.6 158.2h1.4v1.4h-1.4zM144.9 157.4h1.4v1.4h-1.4zM162.2 155.0h1.4v1.4h-1.4zM97.1 152.5h1.4v1.4h-1.4zM72.8 152.4h1.4v1.4h-1.4zM78.2 146.7h1.4v1.4h-1.4zM129.0 153.1h1.4v1.4h-1.4zM120.7 120.6h1.4v1.4h-1.4zM126.2 135.2h1.4v1.4h-1.4zM134.5 146.9h1.4v1.4h-1.4zM148.4 147.1h1.4v1.4h-1.4zM97.7 134.4h1.4v1.4h-1.4zM159.8 149.1h1.4v1.4h-1.4zM88.8 150.1h1.4v1.4h-1.4zM151.6 146.2h1.4v1.4h-1.4zM110.4 147.7h1.4v1.4h-1.4zM75.9 153.2h1.4v1.4h-1.4zM76.3 152.7h1.4v1.4h-1.4zM99.2 150.9h1.4v1.4h-1.4zM147.9 157.9h1.4v1.4h-1.4zM105.8 153.0h1.4v1.4h-1.4zM168.0 158.8h1.4v1.4h-1.4zM87.6 157.1h1.4v1.4h-1.4zM105.8 156.8h1.4v1.4h-1.4zM137.6 138.3h1.4v1.4h-1.4zM60.9 157.2h1.4v1.4h-1.4zM91.9 156.4h1.4v1.4h-1.4zM158.9 158.0h1.4v1.4h-1.4zM89.1 130.1h1.4v1.4h-1.4zM101.0 127.8h1.4v1.4h-1.4zM123.1 144.8h1.4v1.4h-1.4zM121.2 153.0h1.4v1.4h-1.4zM121.1 146.9h1.4v1.4h-1.4zM99.3 132.8h1.4v1.4h-1.4zM134.0 154.6h1.4v1.4h-1.4zM128.9 156.6h1.4v1.4h-1.4zM96.0 147.2h1.4v1.4h-1.4zM173.8 157.7h1.4v1.4h-1.4zM107.8 136.2h1.4v1.4h-1.4zM149.1 142.6h1.4v1.4h-1.4zM92.3 156.4h1.4v1.4h-1.4zM69.7 155.9h1.4v1.4h-1.4zM79.2 136.5h1.4v1.4h-1.4zM92.4 154.6h1.4v1.4h-1.4zM132.0 154.7h1.4v1.4h-1.4zM156.1 153.9h1.4v1.4h-1.4zM142.3 150.5h1.4v1.4h-1.4zM145.6 134.5h1.4v1.4h-1.4zM125.7 143.4h1.4v1.4h-1.4zM97.7 147.4h1.4v1.4h-1.4zM121.7 157.8h1.4v1.4h-1.4zM60.2 152.0h1.4v1.4h-1.4zM120.7 132.9h1.4v1.4h-1.4zM68.3 158.3h1.4v1.4h-1.4zM126.6 146.9h1.4v1.4h-1.4zM99.2 158.4h1.4v1.4h-1.4zM111.4 154.6h1.4v1.4h-1.4zM100.0 136.7h1.4v1.4h-1.4zM134.2 158.5h1.4v1.4h-1.4zM121.7 145.3h1.4v1.4h-1.4zM111.0 151.3h1.4v1.4h-1.4zM75.7 158.7h1.4v1.4h-1.4zM101.5 155.4h1.4v1.4h-1.4zM80.2 157.6h1.4v1.4h-1.4zM120.3 133.5h1.4v1.4h-1.4zM137.3 128.1h1.4v1.4h-1.4zM71.8 153.1h1.4v1.4h-1.4zM158.5 158.8h1.4v1.4h-1.4zM99.2 151.4h1.4v1.4h-1.4zM91.0 152.3h1.4v1.4h-1.4zM77.4 151.6h1.4v1.4h-1.4zM84.1 155.4h1.4v1.4h-1.4zM125.4 135.8h1.4v1.4h-1.4zM103.7 147.9h1.4v1.4h-1.4zM67.6 159.1h1.4v1.4h-1.4zM133.3 148.2h1.4v1.4h-1.4zM63.2 158.4h1.4v1.4h-1.4zM61.1 154.9h1.4v1.4h-1.4zM138.8 153.2h1.4v1.4h-1.4zM77.0 150.5h1.4v1.4h-1.4zM76.9 133.1h1.4v1.4h-1.4zM97.2 158.3h1.4v1.4h-1.4zM147.8 144.9h1.4v1.4h-1.4zM80.3 155.9h1.4v1.4h-1.4zM92.8 154.8h1.4v1.4h-1.4zM116.3 156.9h1.4v1.4h-1.4zM131.6 140.5h1.4v1.4h-1.4zM136.2 155.6h1.4v1.4h-1.4zM105.5 156.9h1.4v1.4h-1.4zM150.4 158.6h1.4v1.4h-1.4zM119.4 126.3h1.4v1.4h-1.4zM76.7 152.8h1.4v1.4h-1.4zM160.4 156.4h1.4v1.4h-1.4zM80.9 155.6h1.4v1.4h-1.4zM83.7 157.9h1.4v1.4h-1.4zM136.6 153.5h1.4v1.4h-1.4zM61.4 158.3h1.4v1.4h-1.4zM160.0 158.1h1.4v1.4h-1.4zM106.0 127.7h1.4v1.4h-1.4zM158.1 147.7h1.4v1.4h-1.4zM144.0 153.7h1.4v1.4h-1.4zM74.9 157.8h1.4v1.4h-1.4zM105.8 151.5h1.4v1.4h-1.4zM101.8 158.7h1.4v1.4h-1.4zM75.6 156.0h1.4v1.4h-1.4zM121.3 134.1h1.4v1.4h-1.4zM138.1 153.1h1.4v1.4h-1.4zM68.1 155.6h1.4v1.4h-1.4zM85.3 155.4h1.4v1.4h-1.4zM122.7 144.1h1.4v1.4h-1.4zM88.1 154.0h1.4v1.4h-1.4zM174.4 158.0h1.4v1.4h-1.4zM71.2 158.6h1.4v1.4h-1.4zM103.7 124.4h1.4v1.4h-1.4zM94.3 158.0h1.4v1.4h-1.4zM85.0 121.4h1.4v1.4h-1.4zM139.1 145.0h1.4v1.4h-1.4zM75.6 150.8h1.4v1.4h-1.4zM74.9 138.9h1.4v1.4h-1.4zM78.4 151.7h1.4v1.4h-1.4zM84.0 156.0h1.4v1.4h-1.4zM60.0 155.8h1.4v1.4h-1.4zM127.7 157.6h1.4v1.4h-1.4zM69.8 157.3h1.4v1.4h-1.4zM157.2 145.3h1.4v1.4h-1.4zM102.6 149.9h1.4v1.4h-1.4zM96.2 139.0h1.4v1.4h-1.4zM108.8 154.7h1.4v1.4h-1.4zM105.3 159.1h1.4v1.4h-1.4zM96.4 156.9h1.4v1.4h-1.4zM130.1 131.0h1.4v1.4h-1.4zM80.3 140.0h1.4v1.4h-1.4zM88.6 134.6h1.4v1.4h-1.4zM107.7 154.2h1.4v1.4h-1.4zM77.5 152.0h1.4v1.4h-1.4zM133.5 147.2h1.4v1.4h-1.4zM101.1 151.3h1.4v1.4h-1.4zM72.1 150.6h1.4v1.4h-1.4zM139.7 149.5h1.4v1.4h-1.4zM102.3 153.4h1.4v1.4h-1.4zM97.3 151.6h1.4v1.4h-1.4zM117.2 139.2h1.4v1.4h-1.4zM150.6 158.9h1.4v1.4h-1.4zM86.3 152.6h1.4v1.4h-1.4zM83.5 157.1h1.4v1.4h-1.4zM85.1 155.5h1.4v1.4h-1.4zM137.2 147.4h1.4v1.4h-1.4zM155.7 145.7h1.4v1.4h-1.4zM120.0 154.0h1.4v1.4h-1.4zM123.8 131.0h1.4v1.4h-1.4zM151.2 156.0h1.4v1.4h-1.4zM82.8 158.7h1.4v1.4h-1.4zM64.1 133.3h1.4v1.4h-1.4zM104.3 112.8h1.4v1.4h-1.4zM84.5 144.4h1.4v1.4h-1.4zM134.2 122.6h1.4v1.4h-1.4zM124.2 127.5h1.4v1.4h-1.4zM118.3 154.4h1.4v1.4h-1.4zM151.2 158.4h1.4v1.4h-1.4zM108.2 158.1h1.4v1.4h-1.4zM134.3 143.0h1.4v1.4h-1.4zM80.2 157.3h1.4v1.4h-1.4zM95.3 158.2h1.4v1.4h-1.4zM129.0 158.7h1.4v1.4h-1.4zM101.3 140.0h1.4v1.4h-1.4zM61.9 154.0h1.4v1.4h-1.4zM101.7 151.0h1.4v1.4h-1.4zM109.3 158.6h1.4v1.4h-1.4zM79.6 120.8h1.4v1.4h-1.4zM127.9 142.3h1.4v1.4h-1.4zM123.1 149.7h1.4v1.4h-1.4zM78.3 155.0h1.4v1.4h-1.4zM105.9 151.1h1.4v1.4h-1.4zM67.1 157.7h1.4v1.4h-1.4zM124.9 114.7h1.4v1.4h-1.4zM71.5 140.7h1.4v1.4h-1.4zM139.4 151.6h1.4v1.4h-1.4zM136.0 140.7h1.4v1.4h-1.4zM67.7 151.9h1.4v1.4h-1.4zM70.0 141.0h1.4v1.4h-1.4zM98.5 139.5h1.4v1.4h-1.4zM130.1 145.1h1.4v1.4h-1.4zM95.6 133.8h1.4v1.4h-1.4zM77.5 157.7h1.4v1.4h-1.4zM98.7 149.0h1.4v1.4h-1.4zM91.9 142.5h1.4v1.4h-1.4zM91.2 117.2h1.4v1.4h-1.4zM61.9 159.0h1.4v1.4h-1.4zM125.1 124.0h1.4v1.4h-1.4zM118.0 155.7h1.4v1.4h-1.4zM125.2 131.3h1.4v1.4h-1.4zM156.8 150.3h1.4v1.4h-1.4zM126.3 153.7h1.4v1.4h-1.4zM74.6 151.5h1.4v1.4h-1.4zM88.7 156.3h1.4v1.4h-1.4zM128.2 135.6h1.4v1.4h-1.4zM69.7 153.8h1.4v1.4h-1.4zM90.5 147.9h1.4v1.4h-1.4zM106.5 152.8h1.4v1.4h-1.4zM78.1 144.5h1.4v1.4h-1.4zM77.5 154.6h1.4v1.4h-1.4zM87.0 131.0h1.4v1.4h-1.4zM105.6 157.9h1.4v1.4h-1.4zM139.9 158.8h1.4v1.4h-1.4zM68.7 156.8h1.4v1.4h-1.4zM118.0 151.3h1.4v1.4h-1.4zM79.9 150.6h1.4v1.4h-1.4zM161.8 158.7h1.4v1.4h-1.4zM73.4 153.0h1.4v1.4h-1.4zM86.2 140.0h1.4v1.4h-1.4zM72.1 154.2h1.4v1.4h-1.4zM111.6 156.8h1.4v1.4h-1.4zM149.4 144.9h1.4v1.4h-1.4zM94.9 138.0h1.4v1.4h-1.4zM159.2 155.9h1.4v1.4h-1.4zM119.6 149.2h1.4v1.4h-1.4zM87.1 138.4h1.4v1.4h-1.4zM64.3 156.9h1.4v1.4h-1.4zM144.3 143.3h1.4v1.4h-1.4zM76.3 149.6h1.4v1.4h-1.4zM92.3 147.9h1.4v1.4h-1.4zM101.2 131.1h1.4v1.4h-1.4zM119.5 157.8h1.4v1.4h-1.4zM78.0 153.4h1.4v1.4h-1.4zM125.6 157.7h1.4v1.4h-1.4zM63.4 134.4h1.4v1.4h-1.4zM64.3 145.1h1.4v1.4h-1.4zM95.4 152.3h1.4v1.4h-1.4zM132.0 142.6h1.4v1.4h-1.4zM108.1 144.6h1.4v1.4h-1.4zM137.4 144.9h1.4v1.4h-1.4zM90.6 155.2h1.4v1.4h-1.4zM144.9 153.1h1.4v1.4h-1.4zM135.5 155.7h1.4v1.4h-1.4zM164.6 152.9h1.4v1.4h-1.4zM85.0 153.8h1.4v1.4h-1.4zM133.9 156.6h1.4v1.4h-1.4zM124.5 144.8h1.4v1.4h-1.4zM91.7 155.8h1.4v1.4h-1.4zM128.1 152.6h1.4v1.4h-1.4zM130.8 143.0h1.4v1.4h-1.4zM153.7 155.3h1.4v1.4h-1.4zM93.0 119.2h1.4v1.4h-1.4zM123.0 154.1h1.4v1.4h-1.4zM131.6 143.5h1.4v1.4h-1.4zM126.3 152.8h1.4v1.4h-1.4zM101.9 153.7h1.4v1.4h-1.4zM102.6 157.0h1.4v1.4h-1.4zM143.0 153.8h1.4v1.4h-1.4zM130.2 154.4h1.4v1.4h-1.4zM97.7 120.5h1.4v1.4h-1.4zM94.7 149.6h1.4v1.4h-1.4zM91.7 150.0h1.4v1.4h-1.4zM101.5 143.1h1.4v1.4h-1.4zM72.1 146.1h1.4v1.4h-1.4zM107.8 150.9h1.4v1.4h-1.4zM72.8 154.0h1.4v1.4h-1.4zM70.1 154.9h1.4v1.4h-1.4zM88.3 143.7h1.4v1.4h-1.4zM163.1 159.1h1.4v1.4h-1.4zM146.5 154.7h1.4v1.4h-1.4zM72.8 157.2h1.4v1.4h-1.4zM101.8 153.1h1.4v1.4h-1.4zM84.9 151.2h1.4v1.4h-1.4zM71.3 152.5h1.4v1.4h-1.4zM89.4 156.1h1.4v1.4h-1.4zM102.5 113.9h1.4v1.4h-1.4zM103.8 150.2h1.4v1.4h-1.4zM106.0 119.8h1.4v1.4h-1.4zM107.1 158.8h1.4v1.4h-1.4zM126.9 154.2h1.4v1.4h-1.4zM79.1 156.3h1.4v1.4h-1.4zM124.6 157.1h1.4v1.4h-1.4zM128.4 130.9h1.4v1.4h-1.4zM68.3 158.3h1.4v1.4h-1.4zM101.0 140.1h1.4v1.4h-1.4zM129.1 129.9h1.4v1.4h-1.4zM118.0 157.7h1.4v1.4h-1.4zM96.2 139.2h1.4v1.4h-1.4zM135.0 144.0h1.4v1.4h-1.4zM128.9 151.0h1.4v1.4h-1.4zM139.1 141.3h1.4v1.4h-1.4zM60.5 156.5h1.4v1.4h-1.4zM67.5 157.4h1.4v1.4h-1.4zM87.1 143.8h1.4v1.4h-1.4zM83.2 139.1h1.4v1.4h-1.4zM124.0 139.3h1.4v1.4h-1.4zM120.0 141.6h1.4v1.4h-1.4zM85.9 145.5h1.4v1.4h-1.4zM170.3 146.8h1.4v1.4h-1.4zM157.0 152.2h1.4v1.4h-1.4zM97.9 109.4h1.4v1.4h-1.4zM159.4 157.1h1.4v1.4h-1.4zM101.4 149.9h1.4v1.4h-1.4zM103.2 152.1h1.4v1.4h-1.4zM109.4 151.2h1.4v1.4h-1.4zM148.8 140.5h1.4v1.4h-1.4zM119.5 150.2h1.4v1.4h-1.4zM119.1 155.5h1.4v1.4h-1.4zM103.2 154.6h1.4v1.4h-1.4zM87.8 157.9h1.4v1.4h-1.4zM100.1 134.5h1.4v1.4h-1.4zM110.6 151.1h1.4v1.4h-1.4zM108.3 156.2h1.4v1.4h-1.4zM104.6 156.9h1.4v1.4h-1.4zM109.3 153.4h1.4v1.4h-1.4zM146.7 157.0h1.4v1.4h-1.4zM132.2 150.1h1.4v1.4h-1.4zM125.5 150.9h1.4v1.4h-1.4zM153.1 156.1h1.4v1.4h-1.4zM84.8 158.4h1.4v1.4h-1.4zM106.0 159.1h1.4v1.4h-1.4zM85.9 158.7h1.4v1.4h-1.4zM138.3 158.8h1.4v1.4h-1.4zM75.9 157.4h1.4v1.4h-1.4zM108.8 140.1h1.4v1.4h-1.4zM127.4 158.2h1.4v1.4h-1.4zM88.9 157.8h1.4v1.4h-1.4zM99.6 149.2h1.4v1.4h-1.4zM88.7 141.6h1.4v1.4h-1.4zM123.1 155.6h1.4v1.4h-1.4zM105.2 154.1h1.4v1.4h-1.4zM80.4 153.3h1.4v1.4h-1.4zM66.2 158.6h1.4v1.4h-1.4zM89.0 158.8h1.4v1.4h-1.4zM116.4 157.0h1.4v1.4h-1.4zM130.0 132.2h1.4v1.4h-1.4zM152.7 142.5h1.4v1.4h-1.4zM85.8 147.9h1.4v1.4h-1.4zM102.9 156.6h1.4v1.4h-1.4zM94.4 156.9h1.4v1.4h-1.4zM142.0 134.7h1.4v1.4h-1.4zM108.9 140.0h1.4v1.4h-1.4zM136.9 152.1h1.4v1.4h-1.4zM142.0 150.8h1.4v1.4h-1.4zM72.9 153.6h1.4v1.4h-1.4zM144.2 159.0h1.4v1.4h-1.4zM101.9 129.4h1.4v1.4h-1.4zM131.8 147.6h1.4v1.4h-1.4zM81.5 158.9h1.4v1.4h-1.4zM122.3 146.4h1.4v1.4h-1.4zM108.3 151.1h1.4v1.4h-1.4zM136.7 120.2h1.4v1.4h-1.4zM87.4 150.6h1.4v1.4h-1.4zM118.4 156.9h1.4v1.4h-1.4zM155.9 156.0h1.4v1.4h-1.4zM121.6 124.6h1.4v1.4h-1.4zM92.2 150.7h1.4v1.4h-1.4zM102.3 152.9h1.4v1.4h-1.4zM119.6 151.2h1.4v1.4h-1.4zM77.4 157.4h1.4v1.4h-1.4zM125.3 157.9h1.4v1.4h-1.4zM78.8 136.2h1.4v1.4h-1.4zM108.3 157.2h1.4v1.4h-1.4zM66.7 147.4h1.4v1.4h-1.4zM166.8 157.9h1.4v1.4h-1.4zM157.1 157.7h1.4v1.4h-1.4zM103.8 131.0h1.4v1.4h-1.4zM123.1 152.4h1.4v1.4h-1.4zM148.5 149.4h1.4v1.4h-1.4zM88.9 157.9h1.4v1.4h-1.4zM87.0 129.2h1.4v1.4h-1.4zM70.6 158.3h1.4v1.4h-1.4zM58.2 154.0h1.4v1.4h-1.4zM83.2 153.8h1.4v1.4h-1.4zM71.5 138.3h1.4v1.4h-1.4zM91.8 132.0h1.4v1.4h-1.4zM144.7 157.0h1.4v1.4h-1.4zM131.7 154.8h1.4v1.4h-1.4zM71.3 156.3h1.4v1.4h-1.4zM74.0 157.3h1.4v1.4h-1.4zM88.7 106.3h1.4v1.4h-1.4zM116.8 157.7h1.4v1.4h-1.4zM155.9 158.4h1.4v1.4h-1.4zM84.0 143.9h1.4v1.4h-1.4zM136.0 152.5h1.4v1.4h-1.4zM79.2 158.0h1.4v1.4h-1.4zM163.5 157.6h1.4v1.4h-1.4zM103.7 147.7h1.4v1.4h-1.4zM94.2 147.5h1.4v1.4h-1.4zM83.8 152.2h1.4v1.4h-1.4zM69.2 149.3h1.4v1.4h-1.4zM139.0 158.1h1.4v1.4h-1.4zM133.5 126.4h1.4v1.4h-1.4zM138.3 146.1h1.4v1.4h-1.4zM132.2 133.1h1.4v1.4h-1.4zM91.6 157.4h1.4v1.4h-1.4zM123.9 150.3h1.4v1.4h-1.4zM133.2 126.3h1.4v1.4h-1.4zM126.8 144.0h1.4v1.4h-1.4zM116.0 158.9h1.4v1.4h-1.4zM81.1 154.9h1.4v1.4h-1.4zM128.3 147.3h1.4v1.4h-1.4zM130.6 156.4h1.4v1.4h-1.4zM160.8 150.5h1.4v1.4h-1.4zM131.9 156.7h1.4v1.4h-1.4zM121.7 156.9h1.4v1.4h-1.4zM142.6 137.0h1.4v1.4h-1.4zM117.8 155.5h1.4v1.4h-1.4zM96.2 157.9h1.4v1.4h-1.4zM80.9 123.6h1.4v1.4h-1.4zM143.3 150.1h1.4v1.4h-1.4zM137.4 156.9h1.4v1.4h-1.4zM152.4 152.8h1.4v1.4h-1.4zM90.5 158.6h1.4v1.4h-1.4zM137.7 158.4h1.4v1.4h-1.4zM78.0 157.6h1.4v1.4h-1.4zM87.4 127.2h1.4v1.4h-1.4zM127.8 154.8h1.4v1.4h-1.4zM141.0 131.7h1.4v1.4h-1.4zM74.2 153.7h1.4v1.4h-1.4zM69.7 155.9h1.4v1.4h-1.4zM86.2 159.1h1.4v1.4h-1.4zM75.6 142.5h1.4v1.4h-1.4zM144.3 158.5h1.4v1.4h-1.4zM131.0 139.6h1.4v1.4h-1.4zM125.8 155.8h1.4v1.4h-1.4zM134.7 155.7h1.4v1.4h-1.4zM91.5 146.7h1.4v1.4h-1.4zM125.5 146.0h1.4v1.4h-1.4zM107.9 158.0h1.4v1.4h-1.4zM84.4 158.7h1.4v1.4h-1.4zM70.3 149.4h1.4v1.4h-1.4zM78.1 154.7h1.4v1.4h-1.4zM88.2 153.6h1.4v1.4h-1.4zM77.1 158.4h1.4v1.4h-1.4zM96.8 145.1h1.4v1.4h-1.4zM71.3 146.5h1.4v1.4h-1.4zM70.1 151.2h1.4v1.4h-1.4zM142.5 147.5h1.4v1.4h-1.4zM150.1 158.6h1.4v1.4h-1.4zM81.2 154.8h1.4v1.4h-1.4zM86.7 153.4h1.4v1.4h-1.4zM95.1 116.0h1.4v1.4h-1.4zM118.9 139.0h1.4v1.4h-1.4zM104.2 125.9h1.4v1.4h-1.4zM122.1 156.5h1.4v1.4h-1.4zM62.4 150.4h1.4v1.4h-1.4zM88.4 158.2h1.4v1.4h-1.4zM120.9 145.9h1.4v1.4h-1.4zM81.2 151.0h1.4v1.4h-1.4zM156.5 157.2h1.4v1.4h-1.4zM78.5 155.0h1.4v1.4h-1.4zM133.2 154.0h1.4v1.4h-1.4zM97.0 158.4h1.4v1.4h-1.4zM151.7 128.8h1.4v1.4h-1.4zM104.6 157.2h1.4v1.4h-1.4zM144.6 148.3h1.4v1.4h-1.4zM139.5 152.3h1.4v1.4h-1.4zM153.5 157.0h1.4v1.4h-1.4zM94.2 157.3h1.4v1.4h-1.4zM148.9 152.9h1.4v1.4h-1.4zM134.7 140.8h1.4v1.4h-1.4zM84.4 151.4h1.4v1.4h-1.4zM107.2 158.1h1.4v1.4h-1.4zM92.6 131.1h1.4v1.4h-1.4zM122.3 140.8h1.4v1.4h-1.4zM148.3 150.9h1.4v1.4h-1.4zM98.7 144.8h1.4v1.4h-1.4zM106.5 135.1h1.4v1.4h-1.4zM146.6 158.7h1.4v1.4h-1.4zM161.6 157.6h1.4v1.4h-1.4zM93.0 149.8h1.4v1.4h-1.4zM121.4 145.0h1.4v1.4h-1.4zM125.7 150.3h1.4v1.4h-1.4zM120.8 157.6h1.4v1.4h-1.4zM129.4 157.7h1.4v1.4h-1.4zM126.1 144.9h1.4v1.4h-1.4zM94.9 124.8h1.4v1.4h-1.4zM99.2 153.9h1.4v1.4h-1.4zM128.4 154.1h1.4v1.4h-1.4zM85.8 136.8h1.4v1.4h-1.4zM123.5 146.1h1.4v1.4h-1.4zM136.9 134.8h1.4v1.4h-1.4zM101.8 142.4h1.4v1.4h-1.4zM97.5 154.0h1.4v1.4h-1.4zM127.8 124.6h1.4v1.4h-1.4zM136.7 156.2h1.4v1.4h-1.4zM78.1 150.1h1.4v1.4h-1.4zM106.3 149.3h1.4v1.4h-1.4zM103.8 158.9h1.4v1.4h-1.4zM92.4 142.5h1.4v1.4h-1.4zM123.0 134.0h1.4v1.4h-1.4zM146.8 147.0h1.4v1.4h-1.4zM126.5 135.8h1.4v1.4h-1.4zM100.6 135.1h1.4v1.4h-1.4zM137.3 158.6h1.4v1.4h-1.4zM131.2 157.2h1.4v1.4h-1.4zM125.4 153.8h1.4v1.4h-1.4zM102.7 155.7h1.4v1.4h-1.4zM72.0 153.6h1.4v1.4h-1.4zM147.5 140.4h1.4v1.4h-1.4zM141.7 138.4h1.4v1.4h-1.4zM123.2 144.9h1.4v1.4h-1.4zM83.5 126.7h1.4v1.4h-1.4zM148.7 154.9h1.4v1.4h-1.4zM66.1 143.5h1.4v1.4h-1.4zM71.5 152.6h1.4v1.4h-1.4zM120.2 127.7h1.4v1.4h-1.4zM130.6 155.8h1.4v1.4h-1.4zM121.3 152.1h1.4v1.4h-1.4zM83.6 156.0h1.4v1.4h-1.4zM147.0 135.8h1.4v1.4h-1.4zM106.1 144.5h1.4v1.4h-1.4zM121.3 157.3h1.4v1.4h-1.4zM117.4 137.5h1.4v1.4h-1.4zM120.4 157.8h1.4v1.4h-1.4zM91.6 159.1h1.4v1.4h-1.4zM99.4 143.8h1.4v1.4h-1.4zM173.6 157.9h1.4v1.4h-1.4zM159.2 130.9h1.4v1.4h-1.4zM75.1 157.7h1.4v1.4h-1.4zM138.6 153.9h1.4v1.4h-1.4zM134.5 140.2h1.4v1.4h-1.4zM139.6 155.6h1.4v1.4h-1.4zM92.5 158.2h1.4v1.4h-1.4zM118.6 154.3h1.4v1.4h-1.4zM106.1 142.8h1.4v1.4h-1.4zM89.8 150.4h1.4v1.4h-1.4zM162.1 156.8h1.4v1.4h-1.4zM97.3 147.0h1.4v1.4h-1.4zM131.6 148.0h1.4v1.4h-1.4zM86.9 132.9h1.4v1.4h-1.4zM104.4 149.9h1.4v1.4h-1.4zM101.7 158.8h1.4v1.4h-1.4zM90.4 117.2h1.4v1.4h-1.4zM129.0 158.4h1.4v1.4h-1.4zM62.9 156.6h1.4v1.4h-1.4zM134.5 147.4h1.4v1.4h-1.4zM155.2 144.0h1.4v1.4h-1.4zM173.7 158.7h1.4v1.4h-1.4zM77.2 157.7h1.4v1.4h-1.4zM95.3 131.7h1.4v1.4h-1.4zM129.3 142.3h1.4v1.4h-1.4zM106.4 145.9h1.4v1.4h-1.4zM131.2 157.7h1.4v1.4h-1.4zM86.8 135.0h1.4v1.4h-1.4zM105.8 153.8h1.4v1.4h-1.4zM137.6 151.9h1.4v1.4h-1.4zM146.7 149.4h1.4v1.4h-1.4zM89.0 141.1h1.4v1.4h-1.4zM146.6 148.2h1.4v1.4h-1.4zM66.3 151.0h1.4v1.4h-1.4zM109.0 155.8h1.4v1.4h-1.4zM88.9 158.3h1.4v1.4h-1.4zM153.5 142.9h1.4v1.4h-1.4zM99.7 145.0h1.4v1.4h-1.4zM156.3 151.9h1.4v1.4h-1.4zM138.3 156.9h1.4v1.4h-1.4zM120.8 152.6h1.4v1.4h-1.4zM132.1 156.4h1.4v1.4h-1.4zM94.4 129.4h1.4v1.4h-1.4zM97.9 157.0h1.4v1.4h-1.4zM83.6 151.1h1.4v1.4h-1.4zM81.2 153.6h1.4v1.4h-1.4zM106.5 150.0h1.4v1.4h-1.4zM106.6 150.6h1.4v1.4h-1.4zM102.8 152.9h1.4v1.4h-1.4zM73.9 152.2h1.4v1.4h-1.4zM155.3 138.9h1.4v1.4h-1.4zM132.6 146.9h1.4v1.4h-1.4zM151.6 138.2h1.4v1.4h-1.4zM105.4 157.7h1.4v1.4h-1.4zM139.6 154.3h1.4v1.4h-1.4zM93.1 139.3h1.4v1.4h-1.4zM84.4 149.5h1.4v1.4h-1.4zM139.0 147.2h1.4v1.4h-1.4zM105.7 142.7h1.4v1.4h-1.4zM144.2 153.4h1.4v1.4h-1.4zM120.7 151.9h1.4v1.4h-1.4zM93.9 145.3h1.4v1.4h-1.4zM69.4 157.1h1.4v1.4h-1.4zM139.4 159.1h1.4v1.4h-1.4zM145.1 134.9h1.4v1.4h-1.4zM100.9 138.1h1.4v1.4h-1.4zM88.7 158.3h1.4v1.4h-1.4zM137.1 144.1h1.4v1.4h-1.4zM78.5 136.2h1.4v1.4h-1.4zM78.4 146.9h1.4v1.4h-1.4zM61.1 156.9h1.4v1.4h-1.4zM131.8 146.0h1.4v1.4h-1.4zM123.7 150.4h1.4v1.4h-1.4zM154.4 158.8h1.4v1.4h-1.4zM65.4 155.6h1.4v1.4h-1.4zM126.2 153.1h1.4v1.4h-1.4zM120.6 154.9h1.4v1.4h-1.4zM96.6 146.8h1.4v1.4h-1.4zM124.3 159.0h1.4v1.4h-1.4zM136.0 156.7h1.4v1.4h-1.4zM92.1 122.0h1.4v1.4h-1.4zM152.2 154.1h1.4v1.4h-1.4zM126.9 157.1h1.4v1.4h-1.4zM125.9 156.8h1.4v1.4h-1.4zM122.9 141.7h1.4v1.4h-1.4zM100.6 150.9h1.4v1.4h-1.4zM124.7 141.0h1.4v1.4h-1.4zM121.8 153.9h1.4v1.4h-1.4zM147.9 154.2h1.4v1.4h-1.4zM79.6 139.8h1.4v1.4h-1.4zM116.5 157.4h1.4v1.4h-1.4zM119.3 133.3h1.4v1.4h-1.4zM131.4 147.0h1.4v1.4h-1.4zM145.5 156.0h1.4v1.4h-1.4zM61.1 155.4h1.4v1.4h-1.4zM135.8 155.0h1.4v1.4h-1.4zM145.7 156.0h1.4v1.4h-1.4zM80.7 138.5h1.4v1.4h-1.4zM65.6 158.0h1.4v1.4h-1.4zM131.4 141.9h1.4v1.4h-1.4zM120.1 156.2h1.4v1.4h-1.4zM92.6 148.6h1.4v1.4h-1.4zM76.2 151.3h1.4v1.4h-1.4zM125.0 130.8h1.4v1.4h-1.4zM141.6 140.8h1.4v1.4h-1.4zM93.7 154.3h1.4v1.4h-1.4zM82.5 154.1h1.4v1.4h-1.4zM135.5 156.9h1.4v1.4h-1.4zM100.4 130.5h1.4v1.4h-1.4zM158.9 156.3h1.4v1.4h-1.4zM104.2 135.7h1.4v1.4h-1.4zM100.8 124.2h1.4v1.4h-1.4zM166.8 156.2h1.4v1.4h-1.4zM80.3 152.0h1.4v1.4h-1.4zM93.2 146.3h1.4v1.4h-1.4zM93.1 108.4h1.4v1.4h-1.4zM122.5 156.4h1.4v1.4h-1.4zM127.9 150.7h1.4v1.4h-1.4zM88.4 149.4h1.4v1.4h-1.4zM143.6 158.0h1.4v1.4h-1.4zM140.3 124.6h1.4v1.4h-1.4zM137.2 149.8h1.4v1.4h-1.4zM128.5 153.2h1.4v1.4h-1.4zM173.5 154.1h1.4v1.4h-1.4zM126.5 156.7h1.4v1.4h-1.4zM136.3 141.0h1.4v1.4h-1.4zM108.7 158.0h1.4v1.4h-1.4zM143.1 135.5h1.4v1.4h-1.4zM137.7 148.7h1.4v1.4h-1.4zM83.1 132.1h1.4v1.4h-1.4zM106.9 137.4h1.4v1.4h-1.4zM118.9 158.5h1.4v1.4h-1.4zM130.1 154.5h1.4v1.4h-1.4zM133.8 158.2h1.4v1.4h-1.4zM98.0 125.7h1.4v1.4h-1.4zM82.3 152.9h1.4v1.4h-1.4zM107.3 143.0h1.4v1.4h-1.4zM137.1 151.7h1.4v1.4h-1.4zM85.5 152.7h1.4v1.4h-1.4zM148.2 150.1h1.4v1.4h-1.4zM78.5 153.2h1.4v1.4h-1.4zM90.1 152.7h1.4v1.4h-1.4zM88.1 139.8h1.4v1.4h-1.4zM93.8 155.6h1.4v1.4h-1.4zM129.8 127.8h1.4v1.4h-1.4zM75.9 147.5h1.4v1.4h-1.4zM81.4 155.4h1.4v1.4h-1.4zM142.1 157.4h1.4v1.4h-1.4zM100.5 139.6h1.4v1.4h-1.4zM124.1 134.4h1.4v1.4h-1.4zM154.7 152.9h1.4v1.4h-1.4zM145.4 154.8h1.4v1.4h-1.4zM85.5 147.0h1.4v1.4h-1.4zM153.9 159.1h1.4v1.4h-1.4zM69.9 158.4h1.4v1.4h-1.4zM129.9 149.2h1.4v1.4h-1.4zM107.0 156.7h1.4v1.4h-1.4zM97.9 130.1h1.4v1.4h-1.4zM85.4 143.1h1.4v1.4h-1.4zM67.4 152.6h1.4v1.4h-1.4zM101.8 154.5h1.4v1.4h-1.4zM91.5 115.9h1.4v1.4h-1.4zM79.5 125.7h1.4v1.4h-1.4zM100.2 152.3h1.4v1.4h-1.4zM138.8 143.7h1.4v1.4h-1.4zM142.2 157.4h1.4v1.4h-1.4zM77.8 157.4h1.4v1.4h-1.4zM102.3 159.1h1.4v1.4h-1.4zM111.9 152.0h1.4v1.4h-1.4zM119.9 153.5h1.4v1.4h-1.4zM152.8 159.1h1.4v1.4h-1.4zM103.0 150.2h1.4v1.4h-1.4zM94.7 158.1h1.4v1.4h-1.4zM119.3 155.0h1.4v1.4h-1.4zM158.8 158.9h1.4v1.4h-1.4zM89.2 147.9h1.4v1.4h-1.4zM85.9 145.8h1.4v1.4h-1.4zM139.7 157.8h1.4v1.4h-1.4zM77.4 143.8h1.4v1.4h-1.4zM72.5 158.3h1.4v1.4h-1.4zM131.4 154.3h1.4v1.4h-1.4zM133.9 137.3h1.4v1.4h-1.4zM83.7 154.5h1.4v1.4h-1.4zM143.0 157.9h1.4v1.4h-1.4zM74.0 151.4h1.4v1.4h-1.4zM89.8 151.1h1.4v1.4h-1.4zM106.7 143.9h1.4v1.4h-1.4zM159.2 158.7h1.4v1.4h-1.4zM102.2 143.8h1.4v1.4h-1.4zM79.7 154.8h1.4v1.4h-1.4zM129.7 152.8h1.4v1.4h-1.4zM131.7 157.4h1.4v1.4h-1.4zM93.3 127.9h1.4v1.4h-1.4zM152.3 150.0h1.4v1.4h-1.4zM150.1 153.9h1.4v1.4h-1.4zM93.7 145.6h1.4v1.4h-1.4zM103.7 147.3h1.4v1.4h-1.4zM79.8 158.1h1.4v1.4h-1.4zM86.2 147.6h1.4v1.4h-1.4zM88.9 150.8h1.4v1.4h-1.4zM78.9 159.0h1.4v1.4h-1.4zM150.5 145.4h1.4v1.4h-1.4zM118.5 154.5h1.4v1.4h-1.4zM164.7 155.0h1.4v1.4h-1.4zM67.3 158.2h1.4v1.4h-1.4zM87.0 158.2h1.4v1.4h-1.4zM101.5 128.8h1.4v1.4h-1.4zM80.2 150.8h1.4v1.4h-1.4zM89.8 126.4h1.4v1.4h-1.4zM99.4 130.1h1.4v1.4h-1.4zM129.7 145.1h1.4v1.4h-1.4zM153.1 150.3h1.4v1.4h-1.4zM140.7 154.7h1.4v1.4h-1.4zM93.1 146.2h1.4v1.4h-1.4zM99.3 150.4h1.4v1.4h-1.4zM79.5 147.0h1.4v1.4h-1.4zM165.5 158.8h1.4v1.4h-1.4zM90.9 132.3h1.4v1.4h-1.4zM171.8 158.2h1.4v1.4h-1.4zM157.5 153.6h1.4v1.4h-1.4zM134.8 156.7h1.4v1.4h-1.4zM74.8 154.6h1.4v1.4h-1.4zM71.8 145.9h1.4v1.4h-1.4zM102.7 157.9h1.4v1.4h-1.4zM94.0 138.7h1.4v1.4h-1.4zM99.3 148.1h1.4v1.4h-1.4zM155.0 158.9h1.4v1.4h-1.4zM145.8 130.9h1.4v1.4h-1.4zM120.8 148.2h1.4v1.4h-1.4zM109.0 157.1h1.4v1.4h-1.4zM121.2 126.6h1.4v1.4h-1.4zM153.6 156.6h1.4v1.4h-1.4zM157.5 143.6h1.4v1.4h-1.4zM78.4 155.0h1.4v1.4h-1.4zM105.7 144.5h1.4v1.4h-1.4zM128.9 158.7h1.4v1.4h-1.4zM101.0 153.5h1.4v1.4h-1.4zM119.4 156.6h1.4v1.4h-1.4zM100.5 157.7h1.4v1.4h-1.4zM68.0 156.5h1.4v1.4h-1.4zM124.9 132.9h1.4v1.4h-1.4zM103.8 157.2h1.4v1.4h-1.4zM85.3 143.3h1.4v1.4h-1.4zM162.5 159.0h1.4v1.4h-1.4zM97.8 152.4h1.4v1.4h-1.4zM151.1 156.5h1.4v1.4h-1.4zM171.7 159.0h1.4v1.4h-1.4zM58.9 157.4h1.4v1.4h-1.4zM144.6 159.0h1.4v1.4h-1.4zM80.1 149.9h1.4v1.4h-1.4zM93.7 127.7h1.4v1.4h-1.4zM87.5 133.6h1.4v1.4h-1.4zM140.6 137.1h1.4v1.4h-1.4zM145.6 158.5h1.4v1.4h-1.4zM135.3 136.2h1.4v1.4h-1.4zM100.2 136.2h1.4v1.4h-1.4zM127.6 148.5h1.4v1.4h-1.4zM66.9 156.2h1.4v1.4h-1.4zM140.3 142.3h1.4v1.4h-1.4zM100.7 146.6h1.4v1.4h-1.4zM154.1 157.8h1.4v1.4h-1.4zM131.6 150.1h1.4v1.4h-1.4zM122.1 148.7h1.4v1.4h-1.4zM96.7 155.0h1.4v1.4h-1.4zM102.3 150.6h1.4v1.4h-1.4zM108.3 141.0h1.4v1.4h-1.4zM88.4 155.0h1.4v1.4h-1.4zM156.2 144.3h1.4v1.4h-1.4zM94.5 139.2h1.4v1.4h-1.4zM95.6 138.8h1.4v1.4h-1.4zM138.9 144.5h1.4v1.4h-1.4zM92.2 124.2h1.4v1.4h-1.4zM92.1 132.7h1.4v1.4h-1.4zM90.9 148.9h1.4v1.4h-1.4zM153.7 157.7h1.4v1.4h-1.4zM82.4 148.6h1.4v1.4h-1.4zM101.9 147.8h1.4v1.4h-1.4zM87.7 158.8h1.4v1.4h-1.4zM157.5 153.6h1.4v1.4h-1.4zM149.7 151.7h1.4v1.4h-1.4zM92.5 145.8h1.4v1.4h-1.4zM77.0 139.3h1.4v1.4h-1.4zM145.4 144.5h1.4v1.4h-1.4zM149.0 155.4h1.4v1.4h-1.4zM123.0 158.7h1.4v1.4h-1.4zM141.5 137.6h1.4v1.4h-1.4zM126.7 145.6h1.4v1.4h-1.4zM121.0 158.4h1.4v1.4h-1.4zM109.5 152.3h1.4v1.4h-1.4zM124.1 120.6h1.4v1.4h-1.4zM132.4 141.2h1.4v1.4h-1.4zM85.3 124.0h1.4v1.4h-1.4zM95.0 131.0h1.4v1.4h-1.4zM152.9 147.8h1.4v1.4h-1.4zM135.1 136.1h1.4v1.4h-1.4zM147.2 158.8h1.4v1.4h-1.4zM126.7 157.8h1.4v1.4h-1.4zM86.8 150.7h1.4v1.4h-1.4zM131.7 148.7h1.4v1.4h-1.4zM119.9 155.7h1.4v1.4h-1.4zM99.6 156.7h1.4v1.4h-1.4zM99.7 112.9h1.4v1.4h-1.4zM57.3 145.4h1.4v1.4h-1.4zM84.0 135.2h1.4v1.4h-1.4zM120.9 157.3h1.4v1.4h-1.4zM92.1 149.4h1.4v1.4h-1.4zM148.8 156.7h1.4v1.4h-1.4zM107.8 146.9h1.4v1.4h-1.4zM149.2 155.6h1.4v1.4h-1.4zM71.4 143.9h1.4v1.4h-1.4zM68.3 145.4h1.4v1.4h-1.4zM104.6 151.3h1.4v1.4h-1.4zM87.0 154.5h1.4v1.4h-1.4zM133.1 132.9h1.4v1.4h-1.4zM88.6 136.0h1.4v1.4h-1.4zM97.5 139.4h1.4v1.4h-1.4zM111.0 155.4h1.4v1.4h-1.4zM130.9 125.7h1.4v1.4h-1.4zM110.6 157.9h1.4v1.4h-1.4zM71.8 147.4h1.4v1.4h-1.4zM119.7 152.7h1.4v1.4h-1.4zM103.6 153.9h1.4v1.4h-1.4zM128.0 123.7h1.4v1.4h-1.4zM79.5 158.6h1.4v1.4h-1.4zM71.6 146.1h1.4v1.4h-1.4zM142.6 141.2h1.4v1.4h-1.4zM104.4 158.6h1.4v1.4h-1.4zM67.9 151.7h1.4v1.4h-1.4zM121.4 137.3h1.4v1.4h-1.4zM68.1 156.6h1.4v1.4h-1.4zM143.7 139.6h1.4v1.4h-1.4zM97.8 137.8h1.4v1.4h-1.4zM82.3 141.5h1.4v1.4h-1.4zM164.5 155.9h1.4v1.4h-1.4zM68.4 150.2h1.4v1.4h-1.4zM76.1 158.5h1.4v1.4h-1.4zM90.7 157.9h1.4v1.4h-1.4zM123.5 158.8h1.4v1.4h-1.4zM96.3 134.6h1.4v1.4h-1.4zM74.8 156.6h1.4v1.4h-1.4zM141.6 152.8h1.4v1.4h-1.4zM72.9 152.6h1.4v1.4h-1.4zM133.7 146.5h1.4v1.4h-1.4zM124.2 143.3h1.4v1.4h-1.4zM80.4 147.4h1.4v1.4h-1.4zM106.1 151.2h1.4v1.4h-1.4zM70.9 154.3h1.4v1.4h-1.4zM126.9 122.9h1.4v1.4h-1.4zM72.9 125.9h1.4v1.4h-1.4zM95.7 158.5h1.4v1.4h-1.4zM100.6 143.7h1.4v1.4h-1.4zM70.5 157.4h1.4v1.4h-1.4zM69.5 153.0h1.4v1.4h-1.4zM129.7 143.7h1.4v1.4h-1.4zM106.7 157.2h1.4v1.4h-1.4zM104.9 147.7h1.4v1.4h-1.4zM154.7 157.2h1.4v1.4h-1.4zM140.2 156.0h1.4v1.4h-1.4zM93.9 151.3h1.4v1.4h-1.4zM129.3 140.1h1.4v1.4h-1.4zM100.6 154.5h1.4v1.4h-1.4zM110.9 152.4h1.4v1.4h-1.4zM156.3 159.0h1.4v1.4h-1.4zM108.2 156.3h1.4v1.4h-1.4zM95.9 150.4h1.4v1.4h-1.4zM133.5 122.8h1.4v1.4h-1.4zM82.6 130.3h1.4v1.4h-1.4zM121.1 152.2h1.4v1.4h-1.4zM128.9 158.9h1.4v1.4h-1.4zM107.5 158.4h1.4v1.4h-1.4zM105.9 149.1h1.4v1.4h-1.4zM68.2 157.7h1.4v1.4h-1.4zM72.9 141.2h1.4v1.4h-1.4zM91.7 148.1h1.4v1.4h-1.4zM86.8 141.1h1.4v1.4h-1.4zM94.0 150.9h1.4v1.4h-1.4zM77.9 154.1h1.4v1.4h-1.4zM99.2 139.9h1.4v1.4h-1.4zM151.2 153.6h1.4v1.4h-1.4zM147.2 156.8h1.4v1.4h-1.4zM84.0 138.3h1.4v1.4h-1.4zM107.2 129.0h1.4v1.4h-1.4zM83.4 144.0h1.4v1.4h-1.4zM133.6 155.9h1.4v1.4h-1.4zM98.5 144.2h1.4v1.4h-1.4zM134.5 157.3h1.4v1.4h-1.4zM80.6 147.2h1.4v1.4h-1.4zM74.3 158.6h1.4v1.4h-1.4zM97.8 146.1h1.4v1.4h-1.4zM88.1 146.1h1.4v1.4h-1.4zM121.9 126.7h1.4v1.4h-1.4zM165.6 158.2h1.4v1.4h-1.4zM155.0 158.9h1.4v1.4h-1.4zM146.8 154.9h1.4v1.4h-1.4zM81.5 153.3h1.4v1.4h-1.4zM60.3 158.6h1.4v1.4h-1.4zM125.4 156.1h1.4v1.4h-1.4zM59.6 156.2h1.4v1.4h-1.4zM123.0 149.3h1.4v1.4h-1.4zM129.3 155.5h1.4v1.4h-1.4zM146.2 131.2h1.4v1.4h-1.4zM117.9 153.9h1.4v1.4h-1.4zM101.8 132.4h1.4v1.4h-1.4zM174.2 159.0h1.4v1.4h-1.4zM68.1 158.9h1.4v1.4h-1.4zM128.9 157.8h1.4v1.4h-1.4zM145.3 144.9h1.4v1.4h-1.4zM131.9 102.7h1.4v1.4h-1.4zM132.6 138.8h1.4v1.4h-1.4zM121.7 151.4h1.4v1.4h-1.4zM135.8 157.2h1.4v1.4h-1.4zM61.0 152.4h1.4v1.4h-1.4zM140.0 157.4h1.4v1.4h-1.4zM127.3 138.9h1.4v1.4h-1.4zM109.8 156.6h1.4v1.4h-1.4zM137.3 157.4h1.4v1.4h-1.4zM99.0 133.2h1.4v1.4h-1.4zM131.3 154.7h1.4v1.4h-1.4zM73.8 156.2h1.4v1.4h-1.4zM109.2 155.1h1.4v1.4h-1.4zM61.1 158.1h1.4v1.4h-1.4zM138.4 150.2h1.4v1.4h-1.4zM142.0 130.4h1.4v1.4h-1.4zM73.1 158.7h1.4v1.4h-1.4zM102.3 147.6h1.4v1.4h-1.4zM136.1 155.0h1.4v1.4h-1.4zM79.3 146.5h1.4v1.4h-1.4zM135.6 146.6h1.4v1.4h-1.4zM68.4 158.3h1.4v1.4h-1.4zM142.4 153.6h1.4v1.4h-1.4zM129.5 126.5h1.4v1.4h-1.4zM61.7 156.9h1.4v1.4h-1.4zM122.0 159.1h1.4v1.4h-1.4zM118.9 137.1h1.4v1.4h-1.4zM123.7 154.5h1.4v1.4h-1.4zM94.7 147.3h1.4v1.4h-1.4zM73.6 159.1h1.4v1.4h-1.4zM129.7 125.2h1.4v1.4h-1.4zM134.4 159.0h1.4v1.4h-1.4zM68.4 158.5h1.4v1.4h-1.4zM65.5 158.9h1.4v1.4h-1.4zM161.6 158.7h1.4v1.4h-1.4zM128.0 151.8h1.4v1.4h-1.4zM76.4 152.5h1.4v1.4h-1.4zM131.5 148.2h1.4v1.4h-1.4zM136.8 153.3h1.4v1.4h-1.4zM134.6 135.1h1.4v1.4h-1.4zM121.4 158.3h1.4v1.4h-1.4zM90.1 153.7h1.4v1.4h-1.4zM126.9 105.8h1.4v1.4h-1.4zM158.1 131.5h1.4v1.4h-1.4zM78.9 150.9h1.4v1.4h-1.4zM129.8 157.1h1.4v1.4h-1.4zM73.3 153.2h1.4v1.4h-1.4zM106.1 158.2h1.4v1.4h-1.4zM66.2 145.6h1.4v1.4h-1.4zM77.6 154.2h1.4v1.4h-1.4zM80.5 149.3h1.4v1.4h-1.4zM86.1 158.9h1.4v1.4h-1.4zM70.0 156.3h1.4v1.4h-1.4zM78.3 145.8h1.4v1.4h-1.4zM144.4 154.7h1.4v1.4h-1.4zM90.8 149.9h1.4v1.4h-1.4zM129.4 155.7h1.4v1.4h-1.4zM136.6 155.2h1.4v1.4h-1.4zM112.1 154.7h1.4v1.4h-1.4zM73.1 149.1h1.4v1.4h-1.4zM88.6 144.8h1.4v1.4h-1.4zM64.5 158.4h1.4v1.4h-1.4zM90.7 156.9h1.4v1.4h-1.4zM105.6 148.7h1.4v1.4h-1.4zM104.6 142.2h1.4v1.4h-1.4zM152.8 128.6h1.4v1.4h-1.4zM102.0 155.8h1.4v1.4h-1.4zM77.5 155.2h1.4v1.4h-1.4zM135.5 152.3h1.4v1.4h-1.4zM106.9 143.8h1.4v1.4h-1.4zM147.7 157.1h1.4v1.4h-1.4zM108.6 154.2h1.4v1.4h-1.4zM145.2 139.3h1.4v1.4h-1.4zM106.1 147.9h1.4v1.4h-1.4zM134.5 148.8h1.4v1.4h-1.4zM120.1 150.7h1.4v1.4h-1.4zM125.0 152.8h1.4v1.4h-1.4zM82.3 108.5h1.4v1.4h-1.4zM136.1 130.1h1.4v1.4h-1.4zM123.7 152.8h1.4v1.4h-1.4zM150.9 157.5h1.4v1.4h-1.4zM94.9 147.9h1.4v1.4h-1.4zM116.8 149.7h1.4v1.4h-1.4zM155.8 147.2h1.4v1.4h-1.4zM83.9 153.1h1.4v1.4h-1.4zM76.4 155.1h1.4v1.4h-1.4zM117.1 156.9h1.4v1.4h-1.4zM86.5 156.7h1.4v1.4h-1.4zM84.0 156.4h1.4v1.4h-1.4zM143.7 150.2h1.4v1.4h-1.4zM129.0 154.4h1.4v1.4h-1.4zM139.1 129.6h1.4v1.4h-1.4zM140.1 139.4h1.4v1.4h-1.4zM159.8 157.7h1.4v1.4h-1.4zM108.8 149.3h1.4v1.4h-1.4zM163.9 151.7h1.4v1.4h-1.4zM143.9 148.8h1.4v1.4h-1.4zM124.8 141.5h1.4v1.4h-1.4zM74.7 155.9h1.4v1.4h-1.4zM100.3 144.7h1.4v1.4h-1.4zM68.2 155.1h1.4v1.4h-1.4zM117.7 151.8h1.4v1.4h-1.4zM160.9 140.4h1.4v1.4h-1.4zM131.7 145.1h1.4v1.4h-1.4zM129.4 158.7h1.4v1.4h-1.4zM97.4 120.5h1.4v1.4h-1.4zM87.4 156.6h1.4v1.4h-1.4zM79.4 153.2h1.4v1.4h-1.4zM85.2 157.7h1.4v1.4h-1.4zM98.4 152.0h1.4v1.4h-1.4zM118.9 155.9h1.4v1.4h-1.4zM103.5 154.7h1.4v1.4h-1.4zM155.3 157.9h1.4v1.4h-1.4zM163.3 159.0h1.4v1.4h-1.4zM155.2 143.9h1.4v1.4h-1.4zM94.1 151.4h1.4v1.4h-1.4zM130.9 135.6h1.4v1.4h-1.4zM117.3 158.1h1.4v1.4h-1.4zM159.2 155.8h1.4v1.4h-1.4zM110.9 146.8h1.4v1.4h-1.4zM96.8 128.7h1.4v1.4h-1.4zM140.8 149.3h1.4v1.4h-1.4zM140.3 143.7h1.4v1.4h-1.4zM132.5 145.2h1.4v1.4h-1.4zM151.4 154.8h1.4v1.4h-1.4zM96.5 138.1h1.4v1.4h-1.4zM88.9 127.7h1.4v1.4h-1.4zM95.5 150.2h1.4v1.4h-1.4zM94.0 131.1h1.4v1.4h-1.4zM96.5 155.3h1.4v1.4h-1.4zM119.9 126.1h1.4v1.4h-1.4zM110.2 139.1h1.4v1.4h-1.4zM104.1 150.0h1.4v1.4h-1.4zM122.0 131.1h1.4v1.4h-1.4zM97.0 158.7h1.4v1.4h-1.4zM127.9 144.2h1.4v1.4h-1.4zM99.7 154.5h1.4v1.4h-1.4zM121.0 156.9h1.4v1.4h-1.4zM119.4 139.8h1.4v1.4h-1.4zM81.0 142.5h1.4v1.4h-1.4zM84.0 158.4h1.4v1.4h-1.4zM97.6 158.2h1.4v1.4h-1.4zM102.1 136.5h1.4v1.4h-1.4zM82.9 146.8h1.4v1.4h-1.4zM143.0 142.2h1.4v1.4h-1.4zM75.9 143.1h1.4v1.4h-1.4zM131.9 147.5h1.4v1.4h-1.4zM107.1 142.0h1.4v1.4h-1.4zM148.3 157.7h1.4v1.4h-1.4zM66.4 150.7h1.4v1.4h-1.4zM145.7 147.9h1.4v1.4h-1.4zM140.7 129.2h1.4v1.4h-1.4zM102.7 138.9h1.4v1.4h-1.4zM70.3 157.8h1.4v1.4h-1.4zM82.9 134.0h1.4v1.4h-1.4zM100.7 122.3h1.4v1.4h-1.4zM140.4 154.7h1.4v1.4h-1.4zM122.4 117.7h1.4v1.4h-1.4zM127.0 154.8h1.4v1.4h-1.4zM101.2 143.4h1.4v1.4h-1.4zM128.1 155.7h1.4v1.4h-1.4zM68.5 153.0h1.4v1.4h-1.4zM64.1 138.8h1.4v1.4h-1.4zM136.7 157.6h1.4v1.4h-1.4zM110.5 156.9h1.4v1.4h-1.4zM148.0 149.3h1.4v1.4h-1.4zM67.8 151.3h1.4v1.4h-1.4zM103.3 146.1h1.4v1.4h-1.4zM105.1 151.1h1.4v1.4h-1.4zM82.3 154.8h1.4v1.4h-1.4zM123.9 115.6h1.4v1.4h-1.4zM134.9 154.1h1.4v1.4h-1.4zM137.8 130.5h1.4v1.4h-1.4zM86.5 107.5h1.4v1.4h-1.4zM150.4 157.6h1.4v1.4h-1.4zM145.0 154.3h1.4v1.4h-1.4zM157.5 155.1h1.4v1.4h-1.4zM95.7 136.1h1.4v1.4h-1.4zM118.7 155.6h1.4v1.4h-1.4zM133.0 145.5h1.4v1.4h-1.4zM67.4 157.6h1.4v1.4h-1.4zM136.2 158.3h1.4v1.4h-1.4zM92.4 155.2h1.4v1.4h-1.4zM137.8 156.6h1.4v1.4h-1.4zM119.0 135.1h1.4v1.4h-1.4zM94.3 145.6h1.4v1.4h-1.4zM128.3 155.6h1.4v1.4h-1.4zM129.6 155.6h1.4v1.4h-1.4zM97.8 133.3h1.4v1.4h-1.4zM162.2 157.5h1.4v1.4h-1.4zM103.5 151.5h1.4v1.4h-1.4zM113.3 159.0h1.4v1.4h-1.4zM159.1 155.0h1.4v1.4h-1.4zM123.7 129.2h1.4v1.4h-1.4zM94.2 141.6h1.4v1.4h-1.4zM146.8 156.3h1.4v1.4h-1.4zM102.0 148.9h1.4v1.4h-1.4zM79.9 144.2h1.4v1.4h-1.4zM99.5 134.7h1.4v1.4h-1.4zM104.7 148.9h1.4v1.4h-1.4zM164.6 156.5h1.4v1.4h-1.4zM137.7 145.0h1.4v1.4h-1.4zM132.3 127.5h1.4v1.4h-1.4zM103.1 156.6h1.4v1.4h-1.4zM118.0 155.8h1.4v1.4h-1.4zM132.6 157.9h1.4v1.4h-1.4zM100.3 150.6h1.4v1.4h-1.4zM82.3 145.9h1.4v1.4h-1.4zM140.4 151.5h1.4v1.4h-1.4zM109.5 150.1h1.4v1.4h-1.4zM87.8 138.6h1.4v1.4h-1.4zM98.2 135.9h1.4v1.4h-1.4zM100.1 156.6h1.4v1.4h-1.4zM98.1 158.4h1.4v1.4h-1.4zM78.3 131.8h1.4v1.4h-1.4zM88.4 144.1h1.4v1.4h-1.4zM156.6 159.0h1.4v1.4h-1.4zM85.5 141.5h1.4v1.4h-1.4zM106.0 151.3h1.4v1.4h-1.4zM126.8 155.1h1.4v1.4h-1.4zM78.0 135.3h1.4v1.4h-1.4zM102.3 150.2h1.4v1.4h-1.4zM118.8 156.7h1.4v1.4h-1.4zM121.7 139.7h1.4v1.4h-1.4zM85.0 154.1h1.4v1.4h-1.4zM87.3 144.4h1.4v1.4h-1.4zM123.9 138.1h1.4v1.4h-1.4zM161.2 157.8h1.4v1.4h-1.4zM144.5 141.1h1.4v1.4h-1.4zM109.2 149.7h1.4v1.4h-1.4zM128.1 136.1h1.4v1.4h-1.4zM155.7 154.8h1.4v1.4h-1.4zM157.6 150.6h1.4v1.4h-1.4zM160.3 158.6h1.4v1.4h-1.4zM119.0 154.1h1.4v1.4h-1.4zM79.8 158.6h1.4v1.4h-1.4zM121.8 139.3h1.4v1.4h-1.4zM105.3 157.5h1.4v1.4h-1.4zM89.9 149.2h1.4v1.4h-1.4zM109.6 155.4h1.4v1.4h-1.4zM97.4 158.9h1.4v1.4h-1.4zM108.8 157.0h1.4v1.4h-1.4zM106.9 158.9h1.4v1.4h-1.4zM99.6 141.6h1.4v1.4h-1.4zM104.7 130.6h1.4v1.4h-1.4zM130.5 147.9h1.4v1.4h-1.4zM87.5 145.6h1.4v1.4h-1.4zM98.5 152.2h1.4v1.4h-1.4zM86.6 158.8h1.4v1.4h-1.4zM90.6 147.9h1.4v1.4h-1.4zM103.6 157.0h1.4v1.4h-1.4zM118.4 154.5h1.4v1.4h-1.4zM121.8 143.1h1.4v1.4h-1.4zM115.4 155.5h1.4v1.4h-1.4zM105.1 148.0h1.4v1.4h-1.4zM84.5 122.4h1.4v1.4h-1.4zM128.9 125.8h1.4v1.4h-1.4zM66.2 155.0h1.4v1.4h-1.4zM125.0 135.0h1.4v1.4h-1.4zM103.5 158.0h1.4v1.4h-1.4zM102.5 154.6h1.4v1.4h-1.4zM134.4 155.2h1.4v1.4h-1.4zM103.1 156.2h1.4v1.4h-1.4zM99.4 136.5h1.4v1.4h-1.4zM106.6 148.3h1.4v1.4h-1.4zM124.0 156.0h1.4v1.4h-1.4zM123.1 149.3h1.4v1.4h-1.4zM128.9 128.3h1.4v1.4h-1.4zM70.7 151.9h1.4v1.4h-1.4zM88.1 141.0h1.4v1.4h-1.4zM106.4 151.8h1.4v1.4h-1.4zM100.4 148.0h1.4v1.4h-1.4zM85.1 152.9h1.4v1.4h-1.4zM137.6 154.6h1.4v1.4h-1.4zM97.0 157.9h1.4v1.4h-1.4zM59.0 145.8h1.4v1.4h-1.4zM166.0 158.1h1.4v1.4h-1.4zM104.1 136.6h1.4v1.4h-1.4zM93.3 147.8h1.4v1.4h-1.4zM128.6 155.9h1.4v1.4h-1.4zM124.2 155.9h1.4v1.4h-1.4zM102.4 157.4h1.4v1.4h-1.4zM76.1 135.1h1.4v1.4h-1.4zM172.3 157.1h1.4v1.4h-1.4zM83.1 142.3h1.4v1.4h-1.4zM172.3 155.7h1.4v1.4h-1.4zM129.9 158.4h1.4v1.4h-1.4zM81.8 134.8h1.4v1.4h-1.4zM99.0 120.1h1.4v1.4h-1.4zM143.1 139.7h1.4v1.4h-1.4zM105.3 144.4h1.4v1.4h-1.4zM123.1 152.0h1.4v1.4h-1.4zM140.9 156.8h1.4v1.4h-1.4zM147.1 157.9h1.4v1.4h-1.4zM150.2 153.1h1.4v1.4h-1.4zM127.5 150.1h1.4v1.4h-1.4zM122.3 156.9h1.4v1.4h-1.4zM111.1 152.8h1.4v1.4h-1.4zM78.8 158.0h1.4v1.4h-1.4zM74.3 149.9h1.4v1.4h-1.4zM93.2 153.2h1.4v1.4h-1.4zM136.6 151.8h1.4v1.4h-1.4zM90.3 158.8h1.4v1.4h-1.4zM106.3 137.4h1.4v1.4h-1.4zM82.2 158.2h1.4v1.4h-1.4zM76.8 145.6h1.4v1.4h-1.4zM78.7 150.5h1.4v1.4h-1.4zM104.7 155.6h1.4v1.4h-1.4zM138.5 153.6h1.4v1.4h-1.4zM77.2 140.7h1.4v1.4h-1.4zM139.0 127.8h1.4v1.4h-1.4zM163.0 158.2h1.4v1.4h-1.4zM105.5 125.8h1.4v1.4h-1.4zM124.1 147.9h1.4v1.4h-1.4zM83.0 149.8h1.4v1.4h-1.4zM82.5 151.5h1.4v1.4h-1.4zM97.9 150.9h1.4v1.4h-1.4zM89.6 132.9h1.4v1.4h-1.4zM157.6 157.0h1.4v1.4h-1.4zM94.8 155.2h1.4v1.4h-1.4zM139.3 157.7h1.4v1.4h-1.4zM84.5 158.4h1.4v1.4h-1.4zM77.1 148.4h1.4v1.4h-1.4zM123.8 150.0h1.4v1.4h-1.4zM92.6 118.5h1.4v1.4h-1.4zM165.3 158.4h1.4v1.4h-1.4zM118.7 145.0h1.4v1.4h-1.4zM88.6 150.5h1.4v1.4h-1.4zM87.7 109.7h1.4v1.4h-1.4zM145.1 147.6h1.4v1.4h-1.4zM127.5 139.4h1.4v1.4h-1.4zM73.8 156.1h1.4v1.4h-1.4zM124.2 153.4h1.4v1.4h-1.4zM95.8 141.1h1.4v1.4h-1.4zM88.3 132.3h1.4v1.4h-1.4zM102.6 142.2h1.4v1.4h-1.4zM94.3 153.0h1.4v1.4h-1.4zM137.2 154.1h1.4v1.4h-1.4zM124.8 132.2h1.4v1.4h-1.4zM127.8 156.5h1.4v1.4h-1.4zM84.1 156.8h1.4v1.4h-1.4zM72.1 157.4h1.4v1.4h-1.4zM91.4 136.3h1.4v1.4h-1.4zM95.5 155.7h1.4v1.4h-1.4zM164.4 158.9h1.4v1.4h-1.4zM83.1 136.4h1.4v1.4h-1.4zM78.8 143.5h1.4v1.4h-1.4zM111.7 157.7h1.4v1.4h-1.4zM157.4 156.3h1.4v1.4h-1.4zM78.5 147.8h1.4v1.4h-1.4zM98.7 133.0h1.4v1.4h-1.4zM79.9 152.5h1.4v1.4h-1.4zM75.6 157.8h1.4v1.4h-1.4zM148.1 156.3h1.4v1.4h-1.4zM78.6 153.6h1.4v1.4h-1.4zM88.9 134.6h1.4v1.4h-1.4zM83.1 125.5h1.4v1.4h-1.4zM56.6 158.3h1.4v1.4h-1.4zM103.1 158.3h1.4v1.4h-1.4zM133.1 150.5h1.4v1.4h-1.4zM78.0 157.3h1.4v1.4h-1.4zM105.7 158.6h1.4v1.4h-1.4zM68.8 157.8h1.4v1.4h-1.4zM103.1 156.9h1.4v1.4h-1.4zM64.2 158.6h1.4v1.4h-1.4zM144.1 155.4h1.4v1.4h-1.4zM106.8 135.3h1.4v1.4h-1.4zM142.2 153.8h1.4v1.4h-1.4zM120.5 145.9h1.4v1.4h-1.4zM144.2 151.0h1.4v1.4h-1.4zM93.4 140.6h1.4v1.4h-1.4zM96.2 147.0h1.4v1.4h-1.4zM108.4 152.2h1.4v1.4h-1.4zM143.2 149.0h1.4v1.4h-1.4zM147.0 153.8h1.4v1.4h-1.4zM132.9 145.0h1.4v1.4h-1.4zM118.0 152.2h1.4v1.4h-1.4zM139.7 146.7h1.4v1.4h-1.4zM108.1 157.7h1.4v1.4h-1.4zM100.5 136.8h1.4v1.4h-1.4zM91.4 134.5h1.4v1.4h-1.4zM129.9 139.1h1.4v1.4h-1.4zM163.5 158.7h1.4v1.4h-1.4zM136.1 133.7h1.4v1.4h-1.4zM132.6 158.3h1.4v1.4h-1.4zM142.8 136.9h1.4v1.4h-1.4zM119.7 156.9h1.4v1.4h-1.4zM136.1 137.4h1.4v1.4h-1.4zM96.7 131.7h1.4v1.4h-1.4zM92.3 138.7h1.4v1.4h-1.4zM122.0 154.1h1.4v1.4h-1.4zM134.8 147.4h1.4v1.4h-1.4zM109.7 157.7h1.4v1.4h-1.4zM98.5 149.7h1.4v1.4h-1.4zM86.5 153.6h1.4v1.4h-1.4zM94.8 156.2h1.4v1.4h-1.4zM164.0 157.5h1.4v1.4h-1.4zM67.5 156.7h1.4v1.4h-1.4zM135.7 134.6h1.4v1.4h-1.4zM84.9 154.4h1.4v1.4h-1.4zM79.6 158.3h1.4v1.4h-1.4zM88.1 149.2h1.4v1.4h-1.4zM144.2 154.6h1.4v1.4h-1.4zM129.8 143.4h1.4v1.4h-1.4zM137.7 149.1h1.4v1.4h-1.4zM88.1 144.2h1.4v1.4h-1.4zM83.6 126.1h1.4v1.4h-1.4zM118.4 131.5h1.4v1.4h-1.4zM161.0 147.2h1.4v1.4h-1.4zM73.7 150.0h1.4v1.4h-1.4zM121.1 144.8h1.4v1.4h-1.4zM130.2 144.7h1.4v1.4h-1.4zM109.3 142.5h1.4v1.4h-1.4zM126.6 128.3h1.4v1.4h-1.4zM109.7 155.8h1.4v1.4h-1.4zM157.1 157.2h1.4v1.4h-1.4zM123.0 112.5h1.4v1.4h-1.4zM82.1 156.9h1.4v1.4h-1.4zM157.6 158.2h1.4v1.4h-1.4zM166.0 155.8h1.4v1.4h-1.4zM87.3 155.8h1.4v1.4h-1.4zM163.6 157.4h1.4v1.4h-1.4zM156.0 156.6h1.4v1.4h-1.4zM83.9 152.5h1.4v1.4h-1.4zM116.9 159.1h1.4v1.4h-1.4zM131.7 140.4h1.4v1.4h-1.4zM118.4 151.1h1.4v1.4h-1.4zM127.6 158.2h1.4v1.4h-1.4zM141.1 136.3h1.4v1.4h-1.4zM160.1 150.8h1.4v1.4h-1.4zM85.3 153.9h1.4v1.4h-1.4zM128.3 130.3h1.4v1.4h-1.4zM124.5 128.5h1.4v1.4h-1.4zM127.2 147.6h1.4v1.4h-1.4zM103.9 150.6h1.4v1.4h-1.4zM106.4 140.0h1.4v1.4h-1.4zM132.1 155.8h1.4v1.4h-1.4zM83.0 158.4h1.4v1.4h-1.4zM91.5 119.0h1.4v1.4h-1.4zM147.6 150.3h1.4v1.4h-1.4zM129.0 155.5h1.4v1.4h-1.4zM107.7 158.5h1.4v1.4h-1.4zM152.0 159.0h1.4v1.4h-1.4zM126.1 145.9h1.4v1.4h-1.4zM119.0 157.0h1.4v1.4h-1.4zM89.7 153.9h1.4v1.4h-1.4zM85.3 132.2h1.4v1.4h-1.4zM103.9 145.2h1.4v1.4h-1.4zM96.2 158.3h1.4v1.4h-1.4zM84.3 153.8h1.4v1.4h-1.4zM151.7 149.5h1.4v1.4h-1.4zM88.2 137.9h1.4v1.4h-1.4zM73.2 142.9h1.4v1.4h-1.4zM121.6 150.2h1.4v1.4h-1.4zM92.3 157.4h1.4v1.4h-1.4zM78.3 156.7h1.4v1.4h-1.4zM135.9 158.0h1.4v1.4h-1.4zM135.8 148.1h1.4v1.4h-1.4zM131.6 156.3h1.4v1.4h-1.4zM95.7 158.6h1.4v1.4h-1.4zM98.6 135.6h1.4v1.4h-1.4zM60.6 151.8h1.4v1.4h-1.4zM72.5 155.3h1.4v1.4h-1.4zM135.3 127.7h1.4v1.4h-1.4zM77.8 127.8h1.4v1.4h-1.4zM77.4 154.9h1.4v1.4h-1.4zM123.8 154.2h1.4v1.4h-1.4zM147.5 146.4h1.4v1.4h-1.4zM146.8 152.2h1.4v1.4h-1.4zM77.6 151.0h1.4v1.4h-1.4zM142.8 157.0h1.4v1.4h-1.4zM144.1 154.8h1.4v1.4h-1.4zM123.1 121.7h1.4v1.4h-1.4zM144.2 134.9h1.4v1.4h-1.4zM150.9 147.5h1.4v1.4h-1.4zM103.3 139.3h1.4v1.4h-1.4zM124.8 157.2h1.4v1.4h-1.4zM98.6 149.1h1.4v1.4h-1.4zM96.9 111.0h1.4v1.4h-1.4zM135.3 153.2h1.4v1.4h-1.4zM94.5 150.7h1.4v1.4h-1.4zM131.9 148.4h1.4v1.4h-1.4zM166.5 157.9h1.4v1.4h-1.4zM91.0 149.0h1.4v1.4h-1.4zM100.2 157.3h1.4v1.4h-1.4zM108.4 158.3h1.4v1.4h-1.4zM97.3 152.3h1.4v1.4h-1.4zM97.2 151.6h1.4v1.4h-1.4zM129.9 113.1h1.4v1.4h-1.4zM104.4 148.1h1.4v1.4h-1.4zM148.4 152.0h1.4v1.4h-1.4zM102.2 156.8h1.4v1.4h-1.4zM120.5 153.5h1.4v1.4h-1.4zM119.2 148.7h1.4v1.4h-1.4zM147.2 154.3h1.4v1.4h-1.4zM147.2 147.2h1.4v1.4h-1.4zM144.7 142.3h1.4v1.4h-1.4zM91.6 151.3h1.4v1.4h-1.4zM88.0 142.5h1.4v1.4h-1.4zM100.8 152.4h1.4v1.4h-1.4zM91.9 150.9h1.4v1.4h-1.4zM170.8 158.9h1.4v1.4h-1.4zM147.4 156.2h1.4v1.4h-1.4zM107.8 137.2h1.4v1.4h-1.4zM131.4 149.8h1.4v1.4h-1.4zM70.4 158.5h1.4v1.4h-1.4zM77.2 149.6h1.4v1.4h-1.4zM66.9 156.3h1.4v1.4h-1.4zM105.7 145.7h1.4v1.4h-1.4zM90.2 155.2h1.4v1.4h-1.4zM80.7 141.7h1.4v1.4h-1.4zM72.2 152.5h1.4v1.4h-1.4zM122.2 147.6h1.4v1.4h-1.4zM106.2 139.3h1.4v1.4h-1.4zM74.7 144.7h1.4v1.4h-1.4zM60.5 156.0h1.4v1.4h-1.4zM105.2 153.8h1.4v1.4h-1.4zM108.7 155.9h1.4v1.4h-1.4zM111.9 158.3h1.4v1.4h-1.4zM89.7 157.7h1.4v1.4h-1.4zM153.9 155.0h1.4v1.4h-1.4zM79.9 136.7h1.4v1.4h-1.4zM96.3 154.9h1.4v1.4h-1.4zM145.2 151.9h1.4v1.4h-1.4zM110.7 156.3h1.4v1.4h-1.4zM138.8 151.1h1.4v1.4h-1.4zM121.3 155.0h1.4v1.4h-1.4zM79.6 146.4h1.4v1.4h-1.4zM79.9 155.0h1.4v1.4h-1.4zM99.5 159.0h1.4v1.4h-1.4zM73.4 153.4h1.4v1.4h-1.4zM80.9 154.4h1.4v1.4h-1.4zM65.2 159.0h1.4v1.4h-1.4zM151.6 155.6h1.4v1.4h-1.4zM96.0 147.7h1.4v1.4h-1.4zM96.8 153.9h1.4v1.4h-1.4zM170.5 158.1h1.4v1.4h-1.4zM128.0 155.6h1.4v1.4h-1.4zM142.6 150.7h1.4v1.4h-1.4zM118.0 149.7h1.4v1.4h-1.4zM105.9 154.7h1.4v1.4h-1.4zM86.5 142.0h1.4v1.4h-1.4zM109.2 150.2h1.4v1.4h-1.4zM97.9 154.3h1.4v1.4h-1.4zM107.0 152.3h1.4v1.4h-1.4zM94.3 153.6h1.4v1.4h-1.4zM126.2 138.0h1.4v1.4h-1.4zM83.0 153.1h1.4v1.4h-1.4zM102.9 153.9h1.4v1.4h-1.4zM91.8 135.8h1.4v1.4h-1.4zM95.3 152.4h1.4v1.4h-1.4zM99.7 154.0h1.4v1.4h-1.4zM128.9 130.2h1.4v1.4h-1.4zM97.9 146.6h1.4v1.4h-1.4zM130.6 150.8h1.4v1.4h-1.4zM119.0 154.2h1.4v1.4h-1.4zM164.1 155.3h1.4v1.4h-1.4zM137.5 157.6h1.4v1.4h-1.4zM135.9 157.6h1.4v1.4h-1.4zM83.7 134.4h1.4v1.4h-1.4zM85.4 148.1h1.4v1.4h-1.4zM83.6 127.1h1.4v1.4h-1.4zM116.6 158.6h1.4v1.4h-1.4zM64.0 151.8h1.4v1.4h-1.4zM94.1 126.2h1.4v1.4h-1.4zM106.4 136.0h1.4v1.4h-1.4zM98.9 142.8h1.4v1.4h-1.4zM146.4 142.1h1.4v1.4h-1.4zM81.5 158.2h1.4v1.4h-1.4zM131.8 141.4h1.4v1.4h-1.4zM141.1 157.1h1.4v1.4h-1.4zM132.6 152.1h1.4v1.4h-1.4zM154.4 155.9h1.4v1.4h-1.4zM135.0 153.3h1.4v1.4h-1.4zM105.7 148.2h1.4v1.4h-1.4zM118.1 135.5h1.4v1.4h-1.4zM100.6 132.4h1.4v1.4h-1.4zM94.7 145.7h1.4v1.4h-1.4zM146.0 152.9h1.4v1.4h-1.4zM120.8 144.8h1.4v1.4h-1.4zM92.8 155.8h1.4v1.4h-1.4zM66.6 156.0h1.4v1.4h-1.4zM110.2 157.9h1.4v1.4h-1.4zM148.2 135.8h1.4v1.4h-1.4zM88.2 140.5h1.4v1.4h-1.4zM65.6 152.2h1.4v1.4h-1.4zM169.3 158.4h1.4v1.4h-1.4zM79.4 150.2h1.4v1.4h-1.4zM103.9 143.0h1.4v1.4h-1.4zM104.1 152.9h1.4v1.4h-1.4zM169.2 157.2h1.4v1.4h-1.4zM82.8 143.1h1.4v1.4h-1.4zM76.8 145.0h1.4v1.4h-1.4zM118.5 157.3h1.4v1.4h-1.4zM126.4 125.3h1.4v1.4h-1.4zM161.3 155.8h1.4v1.4h-1.4zM132.5 154.3h1.4v1.4h-1.4zM137.3 138.4h1.4v1.4h-1.4zM67.6 140.5h1.4v1.4h-1.4zM156.2 156.7h1.4v1.4h-1.4zM118.0 153.7h1.4v1.4h-1.4zM100.4 148.8h1.4v1.4h-1.4zM85.1 149.6h1.4v1.4h-1.4zM155.4 157.3h1.4v1.4h-1.4zM125.4 123.0h1.4v1.4h-1.4zM102.9 154.4h1.4v1.4h-1.4zM89.2 140.5h1.4v1.4h-1.4zM121.1 145.7h1.4v1.4h-1.4zM99.4 156.2h1.4v1.4h-1.4zM88.1 145.2h1.4v1.4h-1.4zM65.9 155.6h1.4v1.4h-1.4zM104.8 152.8h1.4v1.4h-1.4zM91.3 153.1h1.4v1.4h-1.4zM122.1 155.4h1.4v1.4h-1.4zM77.1 155.5h1.4v1.4h-1.4zM116.8 140.2h1.4v1.4h-1.4zM84.6 148.2h1.4v1.4h-1.4zM92.1 155.4h1.4v1.4h-1.4zM133.1 125.6h1.4v1.4h-1.4zM140.5 158.5h1.4v1.4h-1.4zM147.1 136.9h1.4v1.4h-1.4zM68.6 158.9h1.4v1.4h-1.4zM109.5 137.8h1.4v1.4h-1.4zM64.5 157.5h1.4v1.4h-1.4zM136.9 136.1h1.4v1.4h-1.4zM123.7 155.4h1.4v1.4h-1.4zM97.5 151.4h1.4v1.4h-1.4zM101.3 135.4h1.4v1.4h-1.4zM100.9 152.8h1.4v1.4h-1.4zM92.3 153.2h1.4v1.4h-1.4zM74.7 146.7h1.4v1.4h-1.4zM105.2 137.4h1.4v1.4h-1.4zM146.8 138.2h1.4v1.4h-1.4zM71.4 144.2h1.4v1.4h-1.4zM146.7 150.6h1.4v1.4h-1.4zM75.1 139.3h1.4v1.4h-1.4zM128.7 155.8h1.4v1.4h-1.4zM138.2 153.2h1.4v1.4h-1.4zM94.0 156.8h1.4v1.4h-1.4zM63.2 156.9h1.4v1.4h-1.4zM104.4 159.0h1.4v1.4h-1.4zM116.2 158.2h1.4v1.4h-1.4zM125.8 128.6h1.4v1.4h-1.4zM159.7 149.5h1.4v1.4h-1.4zM96.0 142.7h1.4v1.4h-1.4zM129.6 122.5h1.4v1.4h-1.4zM91.0 152.9h1.4v1.4h-1.4zM152.8 156.0h1.4v1.4h-1.4zM120.4 148.3h1.4v1.4h-1.4zM94.2 154.6h1.4v1.4h-1.4zM102.5 156.4h1.4v1.4h-1.4zM133.1 158.8h1.4v1.4h-1.4zM82.6 158.0h1.4v1.4h-1.4zM153.1 148.3h1.4v1.4h-1.4zM72.9 131.5h1.4v1.4h-1.4zM71.6 141.4h1.4v1.4h-1.4zM129.4 151.3h1.4v1.4h-1.4zM96.7 153.2h1.4v1.4h-1.4zM103.3 139.7h1.4v1.4h-1.4zM108.8 150.8h1.4v1.4h-1.4zM128.0 139.7h1.4v1.4h-1.4zM142.5 155.3h1.4v1.4h-1.4zM94.1 146.3h1.4v1.4h-1.4zM148.5 153.1h1.4v1.4h-1.4zM107.4 156.7h1.4v1.4h-1.4zM96.7 141.1h1.4v1.4h-1.4zM80.9 154.7h1.4v1.4h-1.4zM122.5 153.4h1.4v1.4h-1.4zM129.2 119.4h1.4v1.4h-1.4zM108.9 157.4h1.4v1.4h-1.4zM90.2 146.8h1.4v1.4h-1.4zM89.0 117.2h1.4v1.4h-1.4zM79.1 132.2h1.4v1.4h-1.4zM125.4 159.0h1.4v1.4h-1.4zM88.9 156.5h1.4v1.4h-1.4zM82.4 131.8h1.4v1.4h-1.4zM133.8 129.7h1.4v1.4h-1.4zM132.6 151.9h1.4v1.4h-1.4zM165.2 155.6h1.4v1.4h-1.4zM133.6 129.9h1.4v1.4h-1.4zM71.5 142.1h1.4v1.4h-1.4zM99.9 154.7h1.4v1.4h-1.4zM85.5 151.0h1.4v1.4h-1.4zM107.6 136.5h1.4v1.4h-1.4zM104.4 150.1h1.4v1.4h-1.4zM103.5 156.4h1.4v1.4h-1.4zM119.4 154.6h1.4v1.4h-1.4zM84.7 154.3h1.4v1.4h-1.4zM87.8 157.5h1.4v1.4h-1.4zM166.8 156.9h1.4v1.4h-1.4zM127.6 157.3h1.4v1.4h-1.4zM105.3 141.2h1.4v1.4h-1.4zM80.6 155.0h1.4v1.4h-1.4zM59.2 153.9h1.4v1.4h-1.4zM155.7 149.9h1.4v1.4h-1.4zM98.2 151.8h1.4v1.4h-1.4zM158.7 151.3h1.4v1.4h-1.4zM151.2 145.2h1.4v1.4h-1.4zM128.7 136.2h1.4v1.4h-1.4zM118.3 155.9h1.4v1.4h-1.4zM104.1 151.7h1.4v1.4h-1.4zM83.2 157.6h1.4v1.4h-1.4zM153.3 156.1h1.4v1.4h-1.4zM119.0 157.0h1.4v1.4h-1.4zM91.3 158.3h1.4v1.4h-1.4zM64.4 153.0h1.4v1.4h-1.4zM117.8 151.2h1.4v1.4h-1.4zM79.3 150.2h1.4v1.4h-1.4zM142.3 142.3h1.4v1.4h-1.4zM86.3 156.8h1.4v1.4h-1.4zM108.0 136.1h1.4v1.4h-1.4zM163.2 158.3h1.4v1.4h-1.4zM162.6 159.0h1.4v1.4h-1.4zM128.9 157.0h1.4v1.4h-1.4zM79.6 144.4h1.4v1.4h-1.4zM119.0 144.1h1.4v1.4h-1.4zM71.8 145.6h1.4v1.4h-1.4zM91.8 143.7h1.4v1.4h-1.4zM91.1 151.6h1.4v1.4h-1.4zM90.5 148.9h1.4v1.4h-1.4zM127.9 154.5h1.4v1.4h-1.4zM130.9 134.9h1.4v1.4h-1.4zM92.6 125.9h1.4v1.4h-1.4zM116.4 159.1h1.4v1.4h-1.4zM142.9 157.3h1.4v1.4h-1.4zM106.8 143.5h1.4v1.4h-1.4zM96.9 152.0h1.4v1.4h-1.4zM75.9 156.6h1.4v1.4h-1.4zM119.3 129.2h1.4v1.4h-1.4zM102.6 153.2h1.4v1.4h-1.4zM91.1 127.6h1.4v1.4h-1.4zM98.0 156.5h1.4v1.4h-1.4zM117.1 150.8h1.4v1.4h-1.4zM122.7 156.3h1.4v1.4h-1.4zM99.8 132.3h1.4v1.4h-1.4zM71.1 154.3h1.4v1.4h-1.4zM98.3 155.9h1.4v1.4h-1.4zM127.1 155.7h1.4v1.4h-1.4zM137.8 140.5h1.4v1.4h-1.4zM107.9 146.6h1.4v1.4h-1.4zM87.7 148.8h1.4v1.4h-1.4zM72.8 157.6h1.4v1.4h-1.4zM64.5 154.6h1.4v1.4h-1.4zM118.8 143.4h1.4v1.4h-1.4zM124.9 135.1h1.4v1.4h-1.4zM85.6 157.1h1.4v1.4h-1.4zM119.4 157.0h1.4v1.4h-1.4zM124.7 145.6h1.4v1.4h-1.4zM139.5 150.1h1.4v1.4h-1.4zM97.3 153.9h1.4v1.4h-1.4zM83.2 137.7h1.4v1.4h-1.4zM73.2 137.3h1.4v1.4h-1.4zM151.0 157.7h1.4v1.4h-1.4zM115.7 154.1h1.4v1.4h-1.4zM99.0 155.5h1.4v1.4h-1.4zM108.4 139.6h1.4v1.4h-1.4zM73.2 144.2h1.4v1.4h-1.4zM108.0 142.2h1.4v1.4h-1.4zM121.7 156.5h1.4v1.4h-1.4zM61.5 158.3h1.4v1.4h-1.4zM117.6 159.0h1.4v1.4h-1.4zM129.5 153.0h1.4v1.4h-1.4zM151.7 158.0h1.4v1.4h-1.4zM95.7 158.1h1.4v1.4h-1.4zM93.7 141.3h1.4v1.4h-1.4zM128.5 150.4h1.4v1.4h-1.4zM120.9 152.0h1.4v1.4h-1.4zM135.8 152.5h1.4v1.4h-1.4zM133.2 155.1h1.4v1.4h-1.4zM116.5 139.2h1.4v1.4h-1.4zM102.2 156.1h1.4v1.4h-1.4zM136.4 143.1h1.4v1.4h-1.4zM77.8 145.9h1.4v1.4h-1.4zM128.0 150.2h1.4v1.4h-1.4zM89.9 115.7h1.4v1.4h-1.4zM144.1 144.0h1.4v1.4h-1.4zM140.3 152.0h1.4v1.4h-1.4zM129.9 141.9h1.4v1.4h-1.4zM128.8 147.2h1.4v1.4h-1.4zM132.7 143.9h1.4v1.4h-1.4zM92.7 133.6h1.4v1.4h-1.4zM85.3 153.4h1.4v1.4h-1.4zM128.4 155.1h1.4v1.4h-1.4zM117.0 156.3h1.4v1.4h-1.4zM68.8 147.5h1.4v1.4h-1.4zM157.4 151.1h1.4v1.4h-1.4zM127.6 118.1h1.4v1.4h-1.4zM124.4 145.8h1.4v1.4h-1.4zM99.8 149.8h1.4v1.4h-1.4zM133.4 155.3h1.4v1.4h-1.4zM156.3 158.3h1.4v1.4h-1.4zM130.3 157.1h1.4v1.4h-1.4zM140.1 121.9h1.4v1.4h-1.4zM73.0 154.6h1.4v1.4h-1.4zM79.8 157.5h1.4v1.4h-1.4zM93.1 155.5h1.4v1.4h-1.4zM64.0 139.4h1.4v1.4h-1.4zM91.7 148.2h1.4v1.4h-1.4zM83.2 158.5h1.4v1.4h-1.4zM87.7 147.6h1.4v1.4h-1.4zM121.4 139.6h1.4v1.4h-1.4zM110.0 157.2h1.4v1.4h-1.4zM78.3 145.8h1.4v1.4h-1.4zM124.9 157.4h1.4v1.4h-1.4zM133.3 159.0h1.4v1.4h-1.4zM93.9 117.4h1.4v1.4h-1.4zM89.6 142.9h1.4v1.4h-1.4zM60.7 155.3h1.4v1.4h-1.4zM72.0 144.4h1.4v1.4h-1.4zM98.0 147.0h1.4v1.4h-1.4zM139.2 143.8h1.4v1.4h-1.4zM103.0 157.2h1.4v1.4h-1.4zM97.6 137.6h1.4v1.4h-1.4zM148.7 158.7h1.4v1.4h-1.4zM85.1 139.2h1.4v1.4h-1.4zM160.7 150.6h1.4v1.4h-1.4zM64.9 155.7h1.4v1.4h-1.4zM124.1 153.4h1.4v1.4h-1.4zM57.5 158.5h1.4v1.4h-1.4zM98.6 158.4h1.4v1.4h-1.4zM138.1 156.9h1.4v1.4h-1.4zM106.1 158.3h1.4v1.4h-1.4zM82.8 158.5h1.4v1.4h-1.4zM61.0 156.1h1.4v1.4h-1.4zM102.9 139.2h1.4v1.4h-1.4zM152.9 157.4h1.4v1.4h-1.4zM120.0 152.3h1.4v1.4h-1.4zM141.2 145.4h1.4v1.4h-1.4zM149.5 154.6h1.4v1.4h-1.4zM60.9 155.2h1.4v1.4h-1.4zM162.7 158.4h1.4v1.4h-1.4zM78.9 158.0h1.4v1.4h-1.4zM163.2 158.4h1.4v1.4h-1.4zM126.7 156.7h1.4v1.4h-1.4zM134.8 156.5h1.4v1.4h-1.4zM147.6 148.6h1.4v1.4h-1.4zM134.5 156.4h1.4v1.4h-1.4zM128.5 147.6h1.4v1.4h-1.4zM154.6 150.4h1.4v1.4h-1.4zM131.6 150.3h1.4v1.4h-1.4zM128.7 141.0h1.4v1.4h-1.4zM93.0 158.2h1.4v1.4h-1.4zM126.8 155.3h1.4v1.4h-1.4zM135.8 146.2h1.4v1.4h-1.4zM95.8 101.5h1.4v1.4h-1.4zM64.0 149.3h1.4v1.4h-1.4zM141.5 153.4h1.4v1.4h-1.4zM145.6 145.7h1.4v1.4h-1.4zM74.6 150.0h1.4v1.4h-1.4zM130.0 140.2h1.4v1.4h-1.4zM117.6 149.8h1.4v1.4h-1.4zM96.2 143.0h1.4v1.4h-1.4zM95.4 139.7h1.4v1.4h-1.4zM120.9 137.8h1.4v1.4h-1.4zM93.4 158.6h1.4v1.4h-1.4zM87.3 137.0h1.4v1.4h-1.4zM116.7 153.0h1.4v1.4h-1.4zM166.6 156.8h1.4v1.4h-1.4zM88.2 150.9h1.4v1.4h-1.4zM82.4 146.4h1.4v1.4h-1.4zM133.5 153.8h1.4v1.4h-1.4zM80.7 151.1h1.4v1.4h-1.4zM120.5 152.9h1.4v1.4h-1.4zM161.6 152.7h1.4v1.4h-1.4zM135.2 128.1h1.4v1.4h-1.4zM106.9 125.7h1.4v1.4h-1.4zM97.9 151.6h1.4v1.4h-1.4zM95.7 158.4h1.4v1.4h-1.4zM116.4 157.1h1.4v1.4h-1.4zM66.6 156.7h1.4v1.4h-1.4zM122.5 142.7h1.4v1.4h-1.4zM104.2 158.6h1.4v1.4h-1.4zM156.1 158.0h1.4v1.4h-1.4zM134.5 146.9h1.4v1.4h-1.4zM70.0 155.4h1.4v1.4h-1.4zM92.7 115.3h1.4v1.4h-1.4zM132.3 157.4h1.4v1.4h-1.4zM170.2 155.9h1.4v1.4h-1.4zM140.7 148.5h1.4v1.4h-1.4zM97.8 123.6h1.4v1.4h-1.4zM84.5 145.1h1.4v1.4h-1.4zM92.3 155.3h1.4v1.4h-1.4zM101.5 159.0h1.4v1.4h-1.4zM153.1 140.7h1.4v1.4h-1.4zM99.4 137.6h1.4v1.4h-1.4zM132.5 148.8h1.4v1.4h-1.4zM121.4 154.7h1.4v1.4h-1.4zM171.9 158.4h1.4v1.4h-1.4zM117.8 153.3h1.4v1.4h-1.4zM131.2 137.2h1.4v1.4h-1.4zM72.1 148.2h1.4v1.4h-1.4zM122.1 154.2h1.4v1.4h-1.4zM123.0 152.9h1.4v1.4h-1.4zM80.7 158.7h1.4v1.4h-1.4zM67.0 142.7h1.4v1.4h-1.4zM103.4 148.8h1.4v1.4h-1.4zM92.2 151.9h1.4v1.4h-1.4zM103.5 156.1h1.4v1.4h-1.4zM107.8 157.0h1.4v1.4h-1.4zM86.2 128.0h1.4v1.4h-1.4zM90.9 158.0h1.4v1.4h-1.4zM146.6 151.8h1.4v1.4h-1.4zM96.0 146.2h1.4v1.4h-1.4zM95.1 147.2h1.4v1.4h-1.4zM74.3 156.2h1.4v1.4h-1.4zM140.2 143.1h1.4v1.4h-1.4zM84.1 159.0h1.4v1.4h-1.4zM116.5 159.0h1.4v1.4h-1.4zM132.6 148.0h1.4v1.4h-1.4zM118.2 156.9h1.4v1.4h-1.4zM101.8 156.9h1.4v1.4h-1.4zM79.2 141.6h1.4v1.4h-1.4zM84.1 136.5h1.4v1.4h-1.4zM130.5 144.1h1.4v1.4h-1.4zM125.3 146.9h1.4v1.4h-1.4zM79.2 147.5h1.4v1.4h-1.4zM142.1 145.8h1.4v1.4h-1.4zM91.9 151.4h1.4v1.4h-1.4zM128.4 149.5h1.4v1.4h-1.4zM171.9 157.8h1.4v1.4h-1.4zM87.7 155.7h1.4v1.4h-1.4zM93.9 133.3h1.4v1.4h-1.4zM152.7 150.4h1.4v1.4h-1.4zM86.3 146.9h1.4v1.4h-1.4zM93.7 119.4h1.4v1.4h-1.4zM83.4 141.5h1.4v1.4h-1.4zM82.2 156.4h1.4v1.4h-1.4zM109.0 156.7h1.4v1.4h-1.4zM89.2 137.5h1.4v1.4h-1.4zM106.0 137.9h1.4v1.4h-1.4zM104.4 146.4h1.4v1.4h-1.4zM172.0 157.7h1.4v1.4h-1.4zM121.4 153.3h1.4v1.4h-1.4zM102.7 125.1h1.4v1.4h-1.4zM74.8 150.5h1.4v1.4h-1.4zM119.6 143.8h1.4v1.4h-1.4zM128.9 156.5h1.4v1.4h-1.4zM97.2 142.3h1.4v1.4h-1.4zM124.1 157.0h1.4v1.4h-1.4zM117.1 156.4h1.4v1.4h-1.4zM87.9 148.0h1.4v1.4h-1.4zM88.1 144.9h1.4v1.4h-1.4zM119.3 157.4h1.4v1.4h-1.4zM82.5 127.1h1.4v1.4h-1.4zM108.9 156.7h1.4v1.4h-1.4zM128.9 148.6h1.4v1.4h-1.4zM96.9 146.9h1.4v1.4h-1.4zM92.1 153.3h1.4v1.4h-1.4zM88.6 149.2h1.4v1.4h-1.4zM58.1 155.2h1.4v1.4h-1.4zM134.5 155.0h1.4v1.4h-1.4zM132.2 122.6h1.4v1.4h-1.4zM136.5 149.5h1.4v1.4h-1.4zM95.2 147.9h1.4v1.4h-1.4zM130.3 148.4h1.4v1.4h-1.4zM73.3 154.3h1.4v1.4h-1.4zM117.8 149.6h1.4v1.4h-1.4zM89.3 149.4h1.4v1.4h-1.4zM111.7 158.2h1.4v1.4h-1.4zM70.4 156.6h1.4v1.4h-1.4zM90.4 122.6h1.4v1.4h-1.4zM154.3 153.1h1.4v1.4h-1.4zM81.6 132.2h1.4v1.4h-1.4zM91.8 142.3h1.4v1.4h-1.4zM153.4 153.9h1.4v1.4h-1.4zM125.9 137.3h1.4v1.4h-1.4zM84.7 148.5h1.4v1.4h-1.4zM117.4 154.2h1.4v1.4h-1.4zM158.5 155.7h1.4v1.4h-1.4zM127.5 127.4h1.4v1.4h-1.4zM86.1 157.9h1.4v1.4h-1.4zM89.7 148.7h1.4v1.4h-1.4zM109.8 152.2h1.4v1.4h-1.4zM125.7 158.5h1.4v1.4h-1.4zM144.4 147.6h1.4v1.4h-1.4zM123.9 153.0h1.4v1.4h-1.4zM90.6 149.6h1.4v1.4h-1.4zM95.3 147.3h1.4v1.4h-1.4zM89.5 137.0h1.4v1.4h-1.4zM141.1 136.6h1.4v1.4h-1.4zM165.6 155.4h1.4v1.4h-1.4zM92.1 146.7h1.4v1.4h-1.4zM137.9 157.4h1.4v1.4h-1.4zM126.8 149.3h1.4v1.4h-1.4zM127.4 149.1h1.4v1.4h-1.4zM96.9 124.5h1.4v1.4h-1.4zM56.8 158.1h1.4v1.4h-1.4zM101.0 157.2h1.4v1.4h-1.4zM99.6 148.8h1.4v1.4h-1.4zM151.9 153.9h1.4v1.4h-1.4zM64.3 146.6h1.4v1.4h-1.4zM158.5 155.0h1.4v1.4h-1.4zM70.6 149.8h1.4v1.4h-1.4zM126.0 122.5h1.4v1.4h-1.4zM150.2 155.8h1.4v1.4h-1.4zM86.7 137.2h1.4v1.4h-1.4zM80.8 138.7h1.4v1.4h-1.4zM102.9 126.0h1.4v1.4h-1.4zM132.3 157.1h1.4v1.4h-1.4zM129.2 157.4h1.4v1.4h-1.4zM87.4 126.6h1.4v1.4h-1.4zM60.9 154.0h1.4v1.4h-1.4zM97.8 145.3h1.4v1.4h-1.4zM88.3 156.1h1.4v1.4h-1.4zM97.5 157.4h1.4v1.4h-1.4zM82.1 153.3h1.4v1.4h-1.4zM148.1 157.1h1.4v1.4h-1.4zM77.4 153.6h1.4v1.4h-1.4zM89.0 147.1h1.4v1.4h-1.4zM112.7 158.6h1.4v1.4h-1.4zM75.3 158.6h1.4v1.4h-1.4zM66.1 155.2h1.4v1.4h-1.4zM86.0 152.8h1.4v1.4h-1.4zM126.4 158.5h1.4v1.4h-1.4zM139.3 118.7h1.4v1.4h-1.4zM96.6 158.2h1.4v1.4h-1.4zM141.1 156.7h1.4v1.4h-1.4zM162.7 157.3h1.4v1.4h-1.4zM86.5 147.6h1.4v1.4h-1.4zM93.8 145.0h1.4v1.4h-1.4zM88.7 154.9h1.4v1.4h-1.4zM102.2 157.3h1.4v1.4h-1.4zM133.2 143.2h1.4v1.4h-1.4zM122.4 130.6h1.4v1.4h-1.4zM123.9 149.5h1.4v1.4h-1.4zM100.7 141.2h1.4v1.4h-1.4zM154.8 141.8h1.4v1.4h-1.4zM147.3 157.2h1.4v1.4h-1.4zM92.6 140.3h1.4v1.4h-1.4zM85.4 153.2h1.4v1.4h-1.4zM132.9 154.0h1.4v1.4h-1.4zM136.7 145.5h1.4v1.4h-1.4zM90.9 158.0h1.4v1.4h-1.4zM167.4 158.5h1.4v1.4h-1.4zM140.5 157.6h1.4v1.4h-1.4zM78.9 152.9h1.4v1.4h-1.4zM76.0 141.1h1.4v1.4h-1.4zM96.8 148.3h1.4v1.4h-1.4zM140.5 152.0h1.4v1.4h-1.4zM117.7 149.7h1.4v1.4h-1.4zM123.9 139.7h1.4v1.4h-1.4zM122.6 146.2h1.4v1.4h-1.4zM106.4 143.9h1.4v1.4h-1.4zM139.4 153.8h1.4v1.4h-1.4zM136.8 156.4h1.4v1.4h-1.4zM154.0 158.0h1.4v1.4h-1.4zM96.4 152.0h1.4v1.4h-1.4zM119.4 148.0h1.4v1.4h-1.4zM66.9 152.3h1.4v1.4h-1.4zM134.8 141.9h1.4v1.4h-1.4zM79.5 128.4h1.4v1.4h-1.4zM150.4 138.8h1.4v1.4h-1.4zM160.2 151.9h1.4v1.4h-1.4zM148.7 141.6h1.4v1.4h-1.4zM105.7 153.2h1.4v1.4h-1.4zM70.7 148.6h1.4v1.4h-1.4zM92.0 146.4h1.4v1.4h-1.4zM79.7 154.4h1.4v1.4h-1.4zM96.5 152.8h1.4v1.4h-1.4zM95.4 158.0h1.4v1.4h-1.4zM91.9 142.3h1.4v1.4h-1.4zM146.7 144.9h1.4v1.4h-1.4zM105.1 143.2h1.4v1.4h-1.4zM146.0 152.9h1.4v1.4h-1.4zM140.7 158.2h1.4v1.4h-1.4zM78.1 145.0h1.4v1.4h-1.4zM126.6 157.2h1.4v1.4h-1.4zM107.9 138.8h1.4v1.4h-1.4zM140.4 144.5h1.4v1.4h-1.4zM71.9 158.2h1.4v1.4h-1.4zM92.7 148.9h1.4v1.4h-1.4zM103.1 149.7h1.4v1.4h-1.4zM147.6 130.5h1.4v1.4h-1.4zM121.9 155.3h1.4v1.4h-1.4zM97.4 121.1h1.4v1.4h-1.4zM91.5 104.8h1.4v1.4h-1.4zM139.5 150.9h1.4v1.4h-1.4zM139.1 158.7h1.4v1.4h-1.4zM102.1 156.3h1.4v1.4h-1.4zM117.1 155.7h1.4v1.4h-1.4zM98.2 148.6h1.4v1.4h-1.4zM153.4 148.4h1.4v1.4h-1.4zM107.1 122.3h1.4v1.4h-1.4zM149.4 143.5h1.4v1.4h-1.4zM135.9 153.7h1.4v1.4h-1.4zM61.2 144.3h1.4v1.4h-1.4zM83.0 158.7h1.4v1.4h-1.4zM129.2 149.4h1.4v1.4h-1.4zM116.3 154.1h1.4v1.4h-1.4zM129.8 154.4h1.4v1.4h-1.4zM80.1 152.4h1.4v1.4h-1.4zM120.1 151.8h1.4v1.4h-1.4zM80.8 128.4h1.4v1.4h-1.4zM147.1 154.0h1.4v1.4h-1.4zM100.8 124.6h1.4v1.4h-1.4zM157.6 158.7h1.4v1.4h-1.4zM83.0 146.7h1.4v1.4h-1.4zM81.0 134.9h1.4v1.4h-1.4zM127.5 144.7h1.4v1.4h-1.4zM157.8 158.0h1.4v1.4h-1.4zM65.0 159.0h1.4v1.4h-1.4zM131.4 158.0h1.4v1.4h-1.4zM98.6 149.0h1.4v1.4h-1.4zM108.9 151.6h1.4v1.4h-1.4zM123.7 158.3h1.4v1.4h-1.4zM167.4 157.3h1.4v1.4h-1.4zM103.9 150.9h1.4v1.4h-1.4zM122.4 140.1h1.4v1.4h-1.4zM74.5 150.7h1.4v1.4h-1.4zM134.1 145.4h1.4v1.4h-1.4zM123.0 153.1h1.4v1.4h-1.4zM137.1 154.4h1.4v1.4h-1.4zM85.6 148.6h1.4v1.4h-1.4zM98.5 154.5h1.4v1.4h-1.4zM126.5 151.6h1.4v1.4h-1.4zM132.9 158.9h1.4v1.4h-1.4zM131.2 156.0h1.4v1.4h-1.4zM62.5 153.8h1.4v1.4h-1.4zM153.5 148.6h1.4v1.4h-1.4zM145.2 157.9h1.4v1.4h-1.4zM124.7 142.0h1.4v1.4h-1.4zM121.7 132.5h1.4v1.4h-1.4zM117.2 148.6h1.4v1.4h-1.4zM110.1 141.8h1.4v1.4h-1.4zM71.6 137.5h1.4v1.4h-1.4zM115.8 155.5h1.4v1.4h-1.4zM100.1 158.3h1.4v1.4h-1.4zM141.3 152.3h1.4v1.4h-1.4zM98.2 157.8h1.4v1.4h-1.4zM131.4 145.0h1.4v1.4h-1.4zM118.8 139.7h1.4v1.4h-1.4zM74.5 140.0h1.4v1.4h-1.4zM134.4 141.7h1.4v1.4h-1.4zM86.3 143.4h1.4v1.4h-1.4zM92.3 153.8h1.4v1.4h-1.4zM89.1 138.3h1.4v1.4h-1.4zM95.8 143.3h1.4v1.4h-1.4zM88.4 155.4h1.4v1.4h-1.4zM159.2 157.7h1.4v1.4h-1.4zM80.6 158.6h1.4v1.4h-1.4zM104.6 142.9h1.4v1.4h-1.4zM82.0 157.2h1.4v1.4h-1.4zM127.6 148.9h1.4v1.4h-1.4zM97.0 143.1h1.4v1.4h-1.4zM85.2 149.4h1.4v1.4h-1.4zM102.3 153.7h1.4v1.4h-1.4zM119.2 149.6h1.4v1.4h-1.4zM84.5 149.2h1.4v1.4h-1.4zM74.9 146.4h1.4v1.4h-1.4zM109.7 152.1h1.4v1.4h-1.4zM70.8 155.5h1.4v1.4h-1.4zM138.8 127.6h1.4v1.4h-1.4zM90.5 156.3h1.4v1.4h-1.4zM128.0 149.0h1.4v1.4h-1.4zM105.5 153.7h1.4v1.4h-1.4zM129.3 145.6h1.4v1.4h-1.4zM134.0 156.4h1.4v1.4h-1.4zM164.2 154.5h1.4v1.4h-1.4zM131.3 157.2h1.4v1.4h-1.4zM90.2 117.6h1.4v1.4h-1.4zM117.5 144.2h1.4v1.4h-1.4zM93.4 123.5h1.4v1.4h-1.4zM133.3 155.8h1.4v1.4h-1.4zM85.7 149.8h1.4v1.4h-1.4zM135.1 144.2h1.4v1.4h-1.4zM93.9 144.5h1.4v1.4h-1.4zM84.1 150.2h1.4v1.4h-1.4zM121.7 121.7h1.4v1.4h-1.4zM134.8 158.1h1.4v1.4h-1.4zM85.1 149.8h1.4v1.4h-1.4zM151.8 149.5h1.4v1.4h-1.4zM115.9 158.0h1.4v1.4h-1.4zM89.7 131.3h1.4v1.4h-1.4zM67.6 152.1h1.4v1.4h-1.4zM120.2 147.8h1.4v1.4h-1.4zM137.2 153.5h1.4v1.4h-1.4zM91.7 138.8h1.4v1.4h-1.4zM106.9 149.0h1.4v1.4h-1.4zM101.1 157.7h1.4v1.4h-1.4zM155.6 153.6h1.4v1.4h-1.4zM75.0 145.9h1.4v1.4h-1.4zM69.9 158.4h1.4v1.4h-1.4zM94.4 150.6h1.4v1.4h-1.4zM166.8 158.3h1.4v1.4h-1.4zM68.5 156.8h1.4v1.4h-1.4zM97.2 148.4h1.4v1.4h-1.4zM94.6 146.4h1.4v1.4h-1.4zM82.0 152.6h1.4v1.4h-1.4zM137.8 147.0h1.4v1.4h-1.4zM70.6 150.0h1.4v1.4h-1.4zM118.8 144.7h1.4v1.4h-1.4zM105.3 132.0h1.4v1.4h-1.4zM111.7 158.2h1.4v1.4h-1.4zM119.2 138.6h1.4v1.4h-1.4zM134.0 146.5h1.4v1.4h-1.4zM65.2 158.3h1.4v1.4h-1.4zM130.9 136.6h1.4v1.4h-1.4zM130.5 157.9h1.4v1.4h-1.4zM88.6 126.1h1.4v1.4h-1.4zM147.2 152.0h1.4v1.4h-1.4zM124.5 154.9h1.4v1.4h-1.4zM142.7 153.0h1.4v1.4h-1.4zM128.8 151.0h1.4v1.4h-1.4zM97.9 151.8h1.4v1.4h-1.4zM93.4 158.1h1.4v1.4h-1.4zM123.1 130.0h1.4v1.4h-1.4zM145.1 156.3h1.4v1.4h-1.4zM107.7 157.7h1.4v1.4h-1.4zM112.8 156.7h1.4v1.4h-1.4zM96.7 138.3h1.4v1.4h-1.4zM141.2 156.1h1.4v1.4h-1.4zM98.5 142.1h1.4v1.4h-1.4zM64.2 157.7h1.4v1.4h-1.4zM79.3 153.6h1.4v1.4h-1.4zM165.2 156.2h1.4v1.4h-1.4zM100.0 158.6h1.4v1.4h-1.4zM127.7 156.4h1.4v1.4h-1.4zM108.6 140.1h1.4v1.4h-1.4zM63.5 159.0h1.4v1.4h-1.4zM84.7 158.2h1.4v1.4h-1.4zM125.6 132.7h1.4v1.4h-1.4zM101.7 156.9h1.4v1.4h-1.4zM160.5 155.9h1.4v1.4h-1.4zM124.6 156.1h1.4v1.4h-1.4zM111.4 156.4h1.4v1.4h-1.4zM137.4 158.5h1.4v1.4h-1.4zM106.1 147.3h1.4v1.4h-1.4zM120.2 146.9h1.4v1.4h-1.4zM131.1 148.5h1.4v1.4h-1.4zM129.3 152.7h1.4v1.4h-1.4zM134.9 152.9h1.4v1.4h-1.4zM131.0 157.1h1.4v1.4h-1.4zM119.9 146.9h1.4v1.4h-1.4zM85.1 124.4h1.4v1.4h-1.4zM125.6 153.9h1.4v1.4h-1.4zM125.3 154.6h1.4v1.4h-1.4zM128.0 154.2h1.4v1.4h-1.4zM100.2 153.6h1.4v1.4h-1.4zM113.4 157.7h1.4v1.4h-1.4zM95.7 124.7h1.4v1.4h-1.4zM116.5 158.0h1.4v1.4h-1.4zM95.8 143.2h1.4v1.4h-1.4zM147.8 153.8h1.4v1.4h-1.4zM74.1 154.5h1.4v1.4h-1.4zM120.6 143.9h1.4v1.4h-1.4zM174.3 158.9h1.4v1.4h-1.4zM106.3 142.4h1.4v1.4h-1.4zM118.5 132.0h1.4v1.4h-1.4zM133.7 145.9h1.4v1.4h-1.4zM83.2 149.5h1.4v1.4h-1.4zM105.2 128.3h1.4v1.4h-1.4zM96.0 155.9h1.4v1.4h-1.4zM90.7 156.8h1.4v1.4h-1.4zM64.3 152.2h1.4v1.4h-1.4zM77.1 139.5h1.4v1.4h-1.4zM65.9 149.2h1.4v1.4h-1.4zM103.6 134.3h1.4v1.4h-1.4zM134.1 126.7h1.4v1.4h-1.4zM67.5 158.0h1.4v1.4h-1.4zM155.6 153.8h1.4v1.4h-1.4zM130.3 136.5h1.4v1.4h-1.4zM98.9 155.0h1.4v1.4h-1.4zM97.3 130.4h1.4v1.4h-1.4zM95.2 155.8h1.4v1.4h-1.4zM141.3 145.1h1.4v1.4h-1.4zM136.3 139.2h1.4v1.4h-1.4zM100.4 155.9h1.4v1.4h-1.4zM105.9 155.5h1.4v1.4h-1.4zM133.3 155.7h1.4v1.4h-1.4zM140.5 150.4h1.4v1.4h-1.4zM153.6 155.4h1.4v1.4h-1.4zM85.1 148.4h1.4v1.4h-1.4zM145.3 158.1h1.4v1.4h-1.4zM131.6 156.3h1.4v1.4h-1.4zM135.9 144.2h1.4v1.4h-1.4zM87.6 154.1h1.4v1.4h-1.4zM155.6 129.2h1.4v1.4h-1.4zM105.3 152.5h1.4v1.4h-1.4zM71.6 142.4h1.4v1.4h-1.4zM145.7 151.1h1.4v1.4h-1.4zM84.3 153.7h1.4v1.4h-1.4zM126.8 158.4h1.4v1.4h-1.4zM64.8 158.9h1.4v1.4h-1.4zM83.9 154.3h1.4v1.4h-1.4zM139.1 147.1h1.4v1.4h-1.4zM143.9 123.8h1.4v1.4h-1.4zM121.1 143.2h1.4v1.4h-1.4zM99.7 145.5h1.4v1.4h-1.4zM93.5 156.4h1.4v1.4h-1.4zM157.4 156.5h1.4v1.4h-1.4zM82.1 156.9h1.4v1.4h-1.4zM157.0 149.3h1.4v1.4h-1.4zM75.8 144.9h1.4v1.4h-1.4zM94.8 138.4h1.4v1.4h-1.4zM103.3 158.6h1.4v1.4h-1.4zM90.9 153.9h1.4v1.4h-1.4zM96.4 145.0h1.4v1.4h-1.4zM92.6 149.2h1.4v1.4h-1.4zM99.8 154.4h1.4v1.4h-1.4zM84.8 146.5h1.4v1.4h-1.4zM174.1 158.5h1.4v1.4h-1.4zM98.3 151.8h1.4v1.4h-1.4zM78.1 138.4h1.4v1.4h-1.4zM117.8 155.7h1.4v1.4h-1.4zM67.2 148.8h1.4v1.4h-1.4zM74.8 158.0h1.4v1.4h-1.4zM141.6 158.8h1.4v1.4h-1.4zM121.8 154.9h1.4v1.4h-1.4zM147.1 153.9h1.4v1.4h-1.4zM83.4 144.0h1.4v1.4h-1.4zM125.8 117.5h1.4v1.4h-1.4zM92.5 159.0h1.4v1.4h-1.4zM149.6 148.4h1.4v1.4h-1.4zM125.8 147.2h1.4v1.4h-1.4zM132.0 158.0h1.4v1.4h-1.4zM122.2 142.0h1.4v1.4h-1.4zM147.3 155.0h1.4v1.4h-1.4zM137.8 152.2h1.4v1.4h-1.4zM162.5 151.6h1.4v1.4h-1.4zM111.2 155.4h1.4v1.4h-1.4zM105.5 152.7h1.4v1.4h-1.4zM89.3 146.8h1.4v1.4h-1.4zM129.3 153.0h1.4v1.4h-1.4zM165.2 143.7h1.4v1.4h-1.4zM100.8 148.1h1.4v1.4h-1.4zM104.2 158.9h1.4v1.4h-1.4zM136.6 155.0h1.4v1.4h-1.4zM118.9 158.7h1.4v1.4h-1.4zM116.3 152.9h1.4v1.4h-1.4zM127.5 129.9h1.4v1.4h-1.4zM123.8 149.4h1.4v1.4h-1.4zM84.3 148.9h1.4v1.4h-1.4zM96.1 151.8h1.4v1.4h-1.4zM83.6 158.4h1.4v1.4h-1.4zM131.2 157.6h1.4v1.4h-1.4zM81.6 150.5h1.4v1.4h-1.4zM98.4 130.6h1.4v1.4h-1.4zM154.7 156.9h1.4v1.4h-1.4zM106.1 138.1h1.4v1.4h-1.4zM72.2 151.5h1.4v1.4h-1.4zM118.7 150.7h1.4v1.4h-1.4zM124.4 158.2h1.4v1.4h-1.4zM133.2 126.0h1.4v1.4h-1.4zM85.5 150.1h1.4v1.4h-1.4zM133.6 145.9h1.4v1.4h-1.4zM138.6 147.2h1.4v1.4h-1.4zM111.6 150.4h1.4v1.4h-1.4zM85.6 146.6h1.4v1.4h-1.4zM88.8 152.3h1.4v1.4h-1.4zM100.1 158.6h1.4v1.4h-1.4zM79.2 150.9h1.4v1.4h-1.4zM85.5 135.9h1.4v1.4h-1.4zM130.4 137.0h1.4v1.4h-1.4zM106.8 150.7h1.4v1.4h-1.4zM103.6 153.2h1.4v1.4h-1.4zM148.3 157.7h1.4v1.4h-1.4zM74.2 157.3h1.4v1.4h-1.4zM78.6 150.4h1.4v1.4h-1.4zM150.0 146.5h1.4v1.4h-1.4zM83.4 141.9h1.4v1.4h-1.4zM168.2 156.1h1.4v1.4h-1.4zM133.2 142.5h1.4v1.4h-1.4zM71.5 134.2h1.4v1.4h-1.4zM142.1 156.3h1.4v1.4h-1.4zM74.7 140.4h1.4v1.4h-1.4zM125.3 145.7h1.4v1.4h-1.4zM157.2 149.6h1.4v1.4h-1.4zM103.0 155.6h1.4v1.4h-1.4zM102.4 124.3h1.4v1.4h-1.4zM76.1 157.1h1.4v1.4h-1.4zM127.1 133.3h1.4v1.4h-1.4zM120.5 148.4h1.4v1.4h-1.4zM126.3 146.6h1.4v1.4h-1.4zM149.6 150.7h1.4v1.4h-1.4zM104.6 152.5h1.4v1.4h-1.4zM87.5 153.9h1.4v1.4h-1.4zM97.2 154.7h1.4v1.4h-1.4zM91.2 146.5h1.4v1.4h-1.4zM140.1 132.2h1.4v1.4h-1.4zM116.4 141.4h1.4v1.4h-1.4zM85.9 142.6h1.4v1.4h-1.4zM93.8 155.7h1.4v1.4h-1.4zM104.3 151.8h1.4v1.4h-1.4zM141.0 150.5h1.4v1.4h-1.4zM101.1 151.8h1.4v1.4h-1.4zM101.9 153.8h1.4v1.4h-1.4zM97.4 128.4h1.4v1.4h-1.4zM115.7 154.0h1.4v1.4h-1.4zM107.0 143.6h1.4v1.4h-1.4zM96.1 157.0h1.4v1.4h-1.4zM122.0 153.3h1.4v1.4h-1.4zM84.4 159.1h1.4v1.4h-1.4zM128.6 156.4h1.4v1.4h-1.4zM152.6 151.9h1.4v1.4h-1.4zM166.1 155.7h1.4v1.4h-1.4zM147.0 155.7h1.4v1.4h-1.4zM128.8 122.4h1.4v1.4h-1.4zM94.6 112.7h1.4v1.4h-1.4zM93.8 108.2h1.4v1.4h-1.4zM140.6 116.8h1.4v1.4h-1.4zM144.4 127.8h1.4v1.4h-1.4zM89.5 102.5h1.4v1.4h-1.4zM158.3 124.1h1.4v1.4h-1.4zM103.9 120.4h1.4v1.4h-1.4zM136.0 111.0h1.4v1.4h-1.4zM139.6 123.3h1.4v1.4h-1.4zM93.5 121.1h1.4v1.4h-1.4zM136.1 98.9h1.4v1.4h-1.4zM124.6 130.0h1.4v1.4h-1.4zM103.5 125.4h1.4v1.4h-1.4zM139.5 49.1h1.4v1.4h-1.4zM75.1 60.2h1.4v1.4h-1.4zM157.0 69.1h1.4v1.4h-1.4zM61.6 73.1h1.4v1.4h-1.4zM61.6 74.7h1.4v1.4h-1.4zM84.7 72.5h1.4v1.4h-1.4zM78.8 76.2h1.4v1.4h-1.4zM68.1 80.8h1.4v1.4h-1.4zM137.3 81.8h1.4v1.4h-1.4zM79.5 87.0h1.4v1.4h-1.4zM153.3 87.9h1.4v1.4h-1.4zM165.0 90.1h1.4v1.4h-1.4zM72.7 92.2h1.4v1.4h-1.4zM134.2 91.6h1.4v1.4h-1.4zM76.3 96.3h1.4v1.4h-1.4zM85.0 95.6h1.4v1.4h-1.4zM89.3 95.6h1.4v1.4h-1.4zM167.5 96.5h1.4v1.4h-1.4zM54.8 102.3h1.4v1.4h-1.4zM97.9 94.1h1.4v1.4h-1.4zM64.7 107.0h1.4v1.4h-1.4zM79.5 103.9h1.4v1.4h-1.4zM177.3 121.8h1.4v1.4h-1.4zM37.6 129.5h1.4v1.4h-1.4zM184.1 139.3h1.4v1.4h-1.4zM182.5 148.5h1.4v1.4h-1.4zM50.5 133.1h1.4v1.4h-1.4zM44.1 152.5h1.4v1.4h-1.4zM48.7 153.1h1.4v1.4h-1.4z"/>
<text x="82.6" y="127.8" font-size="8.2" textLength="22.5" lengthAdjust="spacingAndGlyphs" fill="#c85a80" stroke="#f0c0d0" stroke-width="0.6" paint-order="stroke" font-style="italic">H2-Eb1</text>
<text x="68.5" y="137.1" font-size="8.2" textLength="21.5" lengthAdjust="spacingAndGlyphs" fill="#c85a80" stroke="#f0c0d0" stroke-width="0.6" paint-order="stroke" font-style="italic">H2-Aa</text>
<text x="68.5" y="143.3" font-size="8.2" textLength="23.5" lengthAdjust="spacingAndGlyphs" fill="#c85a80" stroke="#f0c0d0" stroke-width="0.6" paint-order="stroke" font-style="italic">H2-Ab1</text>
<text x="70.8" y="151.0" font-size="8.2" textLength="24.0" lengthAdjust="spacingAndGlyphs" fill="#c85a80" stroke="#f0c0d0" stroke-width="0.6" paint-order="stroke" font-style="italic">H2-DMb2</text>
<text x="73.0" y="160.2" font-size="8.2" textLength="28.5" lengthAdjust="spacingAndGlyphs" fill="#c85a80" stroke="#f0c0d0" stroke-width="0.6" paint-order="stroke" font-style="italic">H2-Eb2</text>
<text x="99.0" y="147.1" font-size="8.2" textLength="29.5" lengthAdjust="spacingAndGlyphs" fill="#c85a80" stroke="#f0c0d0" stroke-width="0.6" paint-order="stroke" font-style="italic">H2-Ab1</text>
<text x="100.8" y="154.0" font-size="8.2" textLength="26.2" lengthAdjust="spacingAndGlyphs" fill="#c85a80" stroke="#f0c0d0" stroke-width="0.6" paint-order="stroke" font-style="italic">H2-Ob</text>
<path d="M34.0 45.6V164.2H194.2" fill="none" stroke="#231f20" stroke-width="1.1"/>
<text class="t" x="28.40" y="161.90" font-size="8.2" text-anchor="end" textLength="4.23" lengthAdjust="spacingAndGlyphs" fill="#333">0</text>
<text class="t" x="28.40" y="138.58" font-size="8.2" text-anchor="end" textLength="4.23" lengthAdjust="spacingAndGlyphs" fill="#333">5</text>
<text class="t" x="28.40" y="115.25" font-size="8.2" text-anchor="end" textLength="8.45" lengthAdjust="spacingAndGlyphs" fill="#333">10</text>
<text class="t" x="28.40" y="91.93" font-size="8.2" text-anchor="end" textLength="8.45" lengthAdjust="spacingAndGlyphs" fill="#333">15</text>
<text class="t" x="28.40" y="68.60" font-size="8.2" text-anchor="end" textLength="8.45" lengthAdjust="spacingAndGlyphs" fill="#333">20</text>
<text class="t" x="50.92" y="176.50" font-size="8.2" text-anchor="middle" textLength="8.66" lengthAdjust="spacingAndGlyphs" fill="#333">−6</text>
<text class="t" x="72.08" y="176.50" font-size="8.2" text-anchor="middle" textLength="8.66" lengthAdjust="spacingAndGlyphs" fill="#333">−4</text>
<text class="t" x="93.24" y="176.50" font-size="8.2" text-anchor="middle" textLength="8.66" lengthAdjust="spacingAndGlyphs" fill="#333">−2</text>
<text class="t" x="114.10" y="176.50" font-size="8.2" text-anchor="middle" textLength="4.23" lengthAdjust="spacingAndGlyphs" fill="#333">0</text>
<text class="t" x="135.26" y="176.50" font-size="8.2" text-anchor="middle" textLength="4.23" lengthAdjust="spacingAndGlyphs" fill="#333">2</text>
<text class="t" x="156.42" y="176.50" font-size="8.2" text-anchor="middle" textLength="4.23" lengthAdjust="spacingAndGlyphs" fill="#333">4</text>
<text class="t" x="177.58" y="176.50" font-size="8.2" text-anchor="middle" textLength="4.23" lengthAdjust="spacingAndGlyphs" fill="#333">6</text>
<path d="M31.4 159.50H34.0M31.4 136.18H34.0M31.4 112.85H34.0M31.4 89.53H34.0M31.4 66.20H34.0M50.62 164.2V166.8M71.78 164.2V166.8M92.94 164.2V166.8M114.10 164.2V166.8M135.26 164.2V166.8M156.42 164.2V166.8M177.58 164.2V166.8" stroke="#231f20" stroke-width="0.9"/>
<text class="t" x="114.00" y="188.80" font-size="8.2" text-anchor="middle" textLength="46.00" lengthAdjust="spacingAndGlyphs" fill="#333">log2 fold change</text>
<text class="t" x="0" y="0" font-size="8.4" text-anchor="middle" textLength="46" lengthAdjust="spacingAndGlyphs" fill="#333" transform="translate(14.5 104.3) rotate(-90)">−log10(<tspan font-style="italic">P</tspan>-value)</text>
<text class="t" x="252.90" y="24.00" font-size="8.6" textLength="115.10" lengthAdjust="spacingAndGlyphs" fill="#222">HALLMARK_INTERFERON_</text>
<text class="t" x="265.80" y="34.50" font-size="8.6" textLength="90.10" lengthAdjust="spacingAndGlyphs" fill="#222">GAMMA_RESPONSE</text>
<path d="M267.1 41.0V88.7M281.5 41.0V88.7M295.9 41.0V88.7M310.4 41.0V88.7M324.9 41.0V88.7M339.3 41.0V88.7M353.8 41.0V88.7M252.6 42.7H368.2M252.6 51.0H368.2M252.6 59.2H368.2M252.6 67.5H368.2M252.6 75.7H368.2M252.6 84.0H368.2" stroke="#f3f5f3" stroke-width="0.6" fill="none"/>
<path d="M252.6 42.70H368.2" stroke="#a8a8a8" stroke-width="0.7"/>
<rect x="254.45" y="89.2" width="0.90" height="15.7" fill="rgb(178,178,178)"/><rect x="256.75" y="89.2" width="0.90" height="15.7" fill="rgb(127,127,127)"/><rect x="258.45" y="89.2" width="0.90" height="15.7" fill="rgb(178,178,178)"/><rect x="260.25" y="89.2" width="1.40" height="15.7" fill="rgb(147,147,147)"/><rect x="263.05" y="89.2" width="0.90" height="15.7" fill="rgb(178,178,178)"/><rect x="265.35" y="89.2" width="1.50" height="15.7" fill="rgb(127,127,127)"/><rect x="268.25" y="89.2" width="0.90" height="15.7" fill="rgb(147,147,147)"/><rect x="270.05" y="89.2" width="1.40" height="15.7" fill="rgb(127,127,127)"/><rect x="272.85" y="89.2" width="0.90" height="15.7" fill="rgb(178,178,178)"/><rect x="274.55" y="89.2" width="2.10" height="15.7" fill="rgb(127,127,127)"/><rect x="278.05" y="89.2" width="1.50" height="15.7" fill="rgb(127,127,127)"/><rect x="279.85" y="89.2" width="2.00" height="15.7" fill="rgb(50,50,50)"/><rect x="282.75" y="89.2" width="0.90" height="15.7" fill="rgb(178,178,178)"/><rect x="285.55" y="89.2" width="2.10" height="15.7" fill="rgb(89,89,89)"/><rect x="288.45" y="89.2" width="0.90" height="15.7" fill="rgb(178,178,178)"/><rect x="291.35" y="89.2" width="2.60" height="15.7" fill="rgb(127,127,127)"/><rect x="294.85" y="89.2" width="2.00" height="15.7" fill="rgb(89,89,89)"/><rect x="298.25" y="89.2" width="0.90" height="15.7" fill="rgb(127,127,127)"/><rect x="302.35" y="89.2" width="0.90" height="15.7" fill="rgb(178,178,178)"/><rect x="305.25" y="89.2" width="2.60" height="15.7" fill="rgb(165,165,165)"/><rect x="309.25" y="89.2" width="2.00" height="15.7" fill="rgb(178,178,178)"/><rect x="313.05" y="89.2" width="0.90" height="15.7" fill="rgb(178,178,178)"/><rect x="315.85" y="89.2" width="0.90" height="15.7" fill="rgb(178,178,178)"/><rect x="319.35" y="89.2" width="2.60" height="15.7" fill="rgb(89,89,89)"/><rect x="322.25" y="89.2" width="2.00" height="15.7" fill="rgb(178,178,178)"/><rect x="325.15" y="89.2" width="0.90" height="15.7" fill="rgb(127,127,127)"/><rect x="328.05" y="89.2" width="2.00" height="15.7" fill="rgb(127,127,127)"/><rect x="332.05" y="89.2" width="2.10" height="15.7" fill="rgb(147,147,147)"/><rect x="334.95" y="89.2" width="0.90" height="15.7" fill="rgb(127,127,127)"/><rect x="337.85" y="89.2" width="3.20" height="15.7" fill="rgb(89,89,89)"/><rect x="342.45" y="89.2" width="2.60" height="15.7" fill="rgb(50,50,50)"/><rect x="345.35" y="89.2" width="0.90" height="15.7" fill="rgb(178,178,178)"/><rect x="347.05" y="89.2" width="2.10" height="15.7" fill="rgb(127,127,127)"/><rect x="349.95" y="89.2" width="0.90" height="15.7" fill="rgb(50,50,50)"/><rect x="351.65" y="89.2" width="3.20" height="15.7" fill="rgb(127,127,127)"/><rect x="355.15" y="89.2" width="2.60" height="15.7" fill="rgb(89,89,89)"/><rect x="357.45" y="89.2" width="4.90" height="15.7" fill="rgb(12,12,12)"/>
<defs><linearGradient id="gb0" x1="0" x2="1" y1="0" y2="0"><stop offset="0" stop-color="#c82a40"/><stop offset="0.26" stop-color="#d03a52"/><stop offset="0.37" stop-color="#dc6682"/><stop offset="0.44" stop-color="#f0b4c6"/><stop offset="0.52" stop-color="#f8eef4"/><stop offset="0.6" stop-color="#ececf8"/><stop offset="0.68" stop-color="#c4c4ea"/><stop offset="0.76" stop-color="#6868b8"/><stop offset="1" stop-color="#2e2e8e"/></linearGradient></defs>
<rect x="252.6" y="105.3" width="109.8" height="4.7" fill="url(#gb0)"/>
<polyline points="253.8,42.5 259.1,45.3 263.8,48.0 268.5,48.8 273.2,50.0 277.9,52.1 282.6,54.2 287.3,56.2 292.0,59.2 296.7,62.1 300.0,63.9 305.9,68.6 311.8,73.3 317.6,77.4 323.5,80.4 329.4,83.3 333.8,85.6 337.6,86.6 342.7,86.3 346.5,84.7 350.3,81.8 354.1,78.6 357.3,74.8 359.2,68.5 360.5,60.9 361.1,54.5 362.0,48.2 362.8,42.4" fill="none" stroke="#4ea64e" stroke-width="1.0" stroke-linejoin="round"/>
<text class="t" x="304.70" y="57.40" font-size="7.8" textLength="58.90" lengthAdjust="spacingAndGlyphs" fill="#222">NES -2.32 FDR 0</text>
<rect x="252.6" y="40.5" width="115.6" height="69.5" fill="none" stroke="#1a1a1a" stroke-width="1"/>
<path d="M252.6 89.2H368.2M252.6 105.1H368.2" stroke="#1a1a1a" stroke-width="0.8"/>
<text class="t" x="246.60" y="45.30" font-size="7.9" text-anchor="end" textLength="10.15" lengthAdjust="spacingAndGlyphs" fill="#222">0.0</text>
<text class="t" x="246.60" y="53.55" font-size="7.9" text-anchor="end" textLength="14.41" lengthAdjust="spacingAndGlyphs" fill="#222">−0.1</text>
<text class="t" x="246.60" y="61.80" font-size="7.9" text-anchor="end" textLength="14.41" lengthAdjust="spacingAndGlyphs" fill="#222">−0.2</text>
<text class="t" x="246.60" y="70.05" font-size="7.9" text-anchor="end" textLength="14.41" lengthAdjust="spacingAndGlyphs" fill="#222">−0.3</text>
<text class="t" x="246.60" y="78.30" font-size="7.9" text-anchor="end" textLength="14.41" lengthAdjust="spacingAndGlyphs" fill="#222">−0.4</text>
<text class="t" x="246.60" y="86.55" font-size="7.9" text-anchor="end" textLength="14.41" lengthAdjust="spacingAndGlyphs" fill="#222">−0.5</text>
<path d="M249.8 42.70H252.6M249.8 50.95H252.6M249.8 59.20H252.6M249.8 67.45H252.6M249.8 75.70H252.6M249.8 83.95H252.6" stroke="#1a1a1a" stroke-width="0.8"/>
<text class="t" x="0" y="0" font-size="8.8" text-anchor="middle" textLength="31.5" lengthAdjust="spacingAndGlyphs" fill="#222" transform="translate(216.6 64.7) rotate(-90)">Enrichment</text>
<text class="t" x="0" y="0" font-size="8.8" text-anchor="middle" textLength="29.5" lengthAdjust="spacingAndGlyphs" fill="#222" transform="translate(227.0 64.7) rotate(-90)">score (ES)</text>
<text class="t" x="272.00" y="119.10" font-size="7.4" text-anchor="middle" textLength="23.50" lengthAdjust="spacingAndGlyphs" fill="#222">Pbrm1-</text>
<text class="t" x="272.00" y="128.60" font-size="7.4" text-anchor="middle" textLength="37.60" lengthAdjust="spacingAndGlyphs" fill="#222">suppressed</text>
<text class="t" x="353.70" y="119.10" font-size="7.4" text-anchor="middle" textLength="23.50" lengthAdjust="spacingAndGlyphs" fill="#222">Pbrm1-</text>
<text class="t" x="353.70" y="128.60" font-size="7.4" text-anchor="middle" textLength="29.00" lengthAdjust="spacingAndGlyphs" fill="#222">activated</text>
<text class="t" x="398.10" y="24.00" font-size="8.6" textLength="115.50" lengthAdjust="spacingAndGlyphs" fill="#222">HALLMARK_INTERFERON_</text>
<text class="t" x="413.80" y="34.50" font-size="8.6" textLength="84.60" lengthAdjust="spacingAndGlyphs" fill="#222">ALPHA_RESPONSE</text>
<path d="M412.6 40.5V89.2M427.0 40.5V89.2M441.4 40.5V89.2M455.8 40.5V89.2M470.2 40.5V89.2M484.6 40.5V89.2M499.0 40.5V89.2M398.2 43.1H513.4M398.2 50.6H513.4M398.2 58.2H513.4M398.2 65.8H513.4M398.2 73.3H513.4M398.2 80.8H513.4M398.2 88.4H513.4" stroke="#f3f5f3" stroke-width="0.6" fill="none"/>
<path d="M398.2 43.10H513.4" stroke="#a8a8a8" stroke-width="0.7"/>
<rect x="408.55" y="89.7" width="0.90" height="15.1" fill="rgb(178,178,178)"/><rect x="410.85" y="89.7" width="2.00" height="15.1" fill="rgb(127,127,127)"/><rect x="416.55" y="89.7" width="2.10" height="15.1" fill="rgb(127,127,127)"/><rect x="419.45" y="89.7" width="2.10" height="15.1" fill="rgb(147,147,147)"/><rect x="425.85" y="89.7" width="2.60" height="15.1" fill="rgb(89,89,89)"/><rect x="429.85" y="89.7" width="0.90" height="15.1" fill="rgb(178,178,178)"/><rect x="432.15" y="89.7" width="2.10" height="15.1" fill="rgb(127,127,127)"/><rect x="435.65" y="89.7" width="0.90" height="15.1" fill="rgb(178,178,178)"/><rect x="437.35" y="89.7" width="2.60" height="15.1" fill="rgb(127,127,127)"/><rect x="441.35" y="89.7" width="2.10" height="15.1" fill="rgb(178,178,178)"/><rect x="444.85" y="89.7" width="2.10" height="15.1" fill="rgb(127,127,127)"/><rect x="448.35" y="89.7" width="0.90" height="15.1" fill="rgb(178,178,178)"/><rect x="450.65" y="89.7" width="2.00" height="15.1" fill="rgb(178,178,178)"/><rect x="454.05" y="89.7" width="2.10" height="15.1" fill="rgb(147,147,147)"/><rect x="456.75" y="89.7" width="2.00" height="15.1" fill="rgb(178,178,178)"/><rect x="460.75" y="89.7" width="0.90" height="15.1" fill="rgb(178,178,178)"/><rect x="464.25" y="89.7" width="3.20" height="15.1" fill="rgb(127,127,127)"/><rect x="468.25" y="89.7" width="0.90" height="15.1" fill="rgb(178,178,178)"/><rect x="470.55" y="89.7" width="1.50" height="15.1" fill="rgb(127,127,127)"/><rect x="472.85" y="89.7" width="2.10" height="15.1" fill="rgb(178,178,178)"/><rect x="476.85" y="89.7" width="1.50" height="15.1" fill="rgb(89,89,89)"/><rect x="479.75" y="89.7" width="0.90" height="15.1" fill="rgb(178,178,178)"/><rect x="483.25" y="89.7" width="2.60" height="15.1" fill="rgb(127,127,127)"/><rect x="487.25" y="89.7" width="3.80" height="15.1" fill="rgb(89,89,89)"/><rect x="491.85" y="89.7" width="2.70" height="15.1" fill="rgb(127,127,127)"/><rect x="495.35" y="89.7" width="2.60" height="15.1" fill="rgb(127,127,127)"/><rect x="499.35" y="89.7" width="0.90" height="15.1" fill="rgb(178,178,178)"/><rect x="501.15" y="89.7" width="0.90" height="15.1" fill="rgb(127,127,127)"/><rect x="502.85" y="89.7" width="3.20" height="15.1" fill="rgb(50,50,50)"/>
<defs><linearGradient id="gb1" x1="0" x2="1" y1="0" y2="0"><stop offset="0" stop-color="#c82a40"/><stop offset="0.26" stop-color="#d03a52"/><stop offset="0.37" stop-color="#dc6682"/><stop offset="0.44" stop-color="#f0b4c6"/><stop offset="0.52" stop-color="#f8eef4"/><stop offset="0.6" stop-color="#ececf8"/><stop offset="0.68" stop-color="#c4c4ea"/><stop offset="0.76" stop-color="#6868b8"/><stop offset="1" stop-color="#2e2e8e"/></linearGradient></defs>
<rect x="398.2" y="105.2" width="110.0" height="5.1" fill="url(#gb1)"/>
<polyline points="398.6,43.3 399.4,43.9 404.1,47.4 408.8,49.8 413.5,51.9 418.2,54.2 422.9,56.2 427.6,58.0 432.3,59.8 437.0,62.7 441.7,65.3 445.0,67.0 450.1,70.4 455.2,74.2 460.2,77.4 465.3,79.7 470.4,81.8 475.5,83.7 478.7,83.1 481.8,85.2 485.6,86.3 488.2,85.6 490.7,82.4 493.3,79.9 495.9,78.6 497.8,76.7 499.0,78.0 500.3,74.8 502.2,69.7 503.5,68.5 504.4,60.9 505.1,53.2 506.0,45.6 506.9,42.4" fill="none" stroke="#4ea64e" stroke-width="1.0" stroke-linejoin="round"/>
<text class="t" x="451.40" y="57.10" font-size="7.8" textLength="59.40" lengthAdjust="spacingAndGlyphs" fill="#222">NES -2.24 FDR 0</text>
<rect x="398.2" y="40.0" width="115.2" height="70.3" fill="none" stroke="#1a1a1a" stroke-width="1"/>
<path d="M398.2 89.7H513.4M398.2 105.0H513.4" stroke="#1a1a1a" stroke-width="0.8"/>
<text class="t" x="392.20" y="45.70" font-size="7.9" text-anchor="end" textLength="10.15" lengthAdjust="spacingAndGlyphs" fill="#222">0.0</text>
<text class="t" x="392.20" y="53.25" font-size="7.9" text-anchor="end" textLength="14.41" lengthAdjust="spacingAndGlyphs" fill="#222">−0.1</text>
<text class="t" x="392.20" y="60.80" font-size="7.9" text-anchor="end" textLength="14.41" lengthAdjust="spacingAndGlyphs" fill="#222">−0.2</text>
<text class="t" x="392.20" y="68.35" font-size="7.9" text-anchor="end" textLength="14.41" lengthAdjust="spacingAndGlyphs" fill="#222">−0.3</text>
<text class="t" x="392.20" y="75.90" font-size="7.9" text-anchor="end" textLength="14.41" lengthAdjust="spacingAndGlyphs" fill="#222">−0.4</text>
<text class="t" x="392.20" y="83.45" font-size="7.9" text-anchor="end" textLength="14.41" lengthAdjust="spacingAndGlyphs" fill="#222">−0.5</text>
<text class="t" x="392.20" y="91.00" font-size="7.9" text-anchor="end" textLength="14.41" lengthAdjust="spacingAndGlyphs" fill="#222">−0.6</text>
<path d="M395.4 43.10H398.2M395.4 50.65H398.2M395.4 58.20H398.2M395.4 65.75H398.2M395.4 73.30H398.2M395.4 80.85H398.2M395.4 88.40H398.2" stroke="#1a1a1a" stroke-width="0.8"/>
<text class="t" x="416.80" y="119.10" font-size="7.4" text-anchor="middle" textLength="23.50" lengthAdjust="spacingAndGlyphs" fill="#222">Pbrm1-</text>
<text class="t" x="416.80" y="128.60" font-size="7.4" text-anchor="middle" textLength="37.60" lengthAdjust="spacingAndGlyphs" fill="#222">suppressed</text>
<text class="t" x="498.60" y="119.10" font-size="7.4" text-anchor="middle" textLength="23.50" lengthAdjust="spacingAndGlyphs" fill="#222">Pbrm1-</text>
<text class="t" x="498.60" y="128.60" font-size="7.4" text-anchor="middle" textLength="29.00" lengthAdjust="spacingAndGlyphs" fill="#222">activated</text>
<text class="t" x="283.70" y="146.90" font-size="8.6" textLength="53.10" lengthAdjust="spacingAndGlyphs" fill="#222">HALLMARK_</text>
<text class="t" x="257.00" y="157.50" font-size="8.6" textLength="106.40" lengthAdjust="spacingAndGlyphs" fill="#222">ALLOGRAFT_REJECTION</text>
<path d="M267.0 164.1V214.5M281.4 164.1V214.5M295.9 164.1V214.5M310.3 164.1V214.5M324.7 164.1V214.5M339.1 164.1V214.5M353.6 164.1V214.5M252.6 165.5H368.0M252.6 174.7H368.0M252.6 183.9H368.0M252.6 193.0H368.0M252.6 202.2H368.0M252.6 211.4H368.0" stroke="#f3f5f3" stroke-width="0.6" fill="none"/>
<path d="M252.6 165.50H368.0" stroke="#a8a8a8" stroke-width="0.7"/>
<rect x="253.85" y="215.0" width="0.90" height="16.9" fill="rgb(178,178,178)"/><rect x="255.55" y="215.0" width="2.10" height="16.9" fill="rgb(178,178,178)"/><rect x="259.05" y="215.0" width="0.90" height="16.9" fill="rgb(127,127,127)"/><rect x="260.75" y="215.0" width="0.90" height="16.9" fill="rgb(178,178,178)"/><rect x="263.05" y="215.0" width="0.90" height="16.9" fill="rgb(127,127,127)"/><rect x="264.25" y="215.0" width="1.50" height="16.9" fill="rgb(178,178,178)"/><rect x="266.55" y="215.0" width="0.90" height="16.9" fill="rgb(147,147,147)"/><rect x="268.85" y="215.0" width="0.90" height="16.9" fill="rgb(127,127,127)"/><rect x="270.55" y="215.0" width="1.50" height="16.9" fill="rgb(12,12,12)"/><rect x="272.35" y="215.0" width="0.90" height="16.9" fill="rgb(178,178,178)"/><rect x="274.05" y="215.0" width="1.40" height="16.9" fill="rgb(165,165,165)"/><rect x="278.65" y="215.0" width="2.10" height="16.9" fill="rgb(127,127,127)"/><rect x="280.95" y="215.0" width="2.70" height="16.9" fill="rgb(50,50,50)"/><rect x="284.45" y="215.0" width="2.00" height="16.9" fill="rgb(127,127,127)"/><rect x="286.75" y="215.0" width="1.50" height="16.9" fill="rgb(178,178,178)"/><rect x="292.55" y="215.0" width="2.00" height="16.9" fill="rgb(12,12,12)"/><rect x="294.85" y="215.0" width="0.90" height="16.9" fill="rgb(178,178,178)"/><rect x="297.15" y="215.0" width="1.50" height="16.9" fill="rgb(178,178,178)"/><rect x="300.05" y="215.0" width="2.00" height="16.9" fill="rgb(127,127,127)"/><rect x="304.05" y="215.0" width="2.60" height="16.9" fill="rgb(147,147,147)"/><rect x="308.05" y="215.0" width="2.10" height="16.9" fill="rgb(165,165,165)"/><rect x="309.55" y="215.0" width="4.40" height="16.9" fill="rgb(89,89,89)"/><rect x="314.75" y="215.0" width="1.50" height="16.9" fill="rgb(50,50,50)"/><rect x="316.45" y="215.0" width="1.50" height="16.9" fill="rgb(178,178,178)"/><rect x="319.95" y="215.0" width="0.90" height="16.9" fill="rgb(178,178,178)"/><rect x="321.05" y="215.0" width="1.50" height="16.9" fill="rgb(12,12,12)"/><rect x="323.35" y="215.0" width="0.90" height="16.9" fill="rgb(178,178,178)"/><rect x="326.25" y="215.0" width="1.50" height="16.9" fill="rgb(127,127,127)"/><rect x="328.55" y="215.0" width="2.10" height="16.9" fill="rgb(127,127,127)"/><rect x="332.05" y="215.0" width="1.40" height="16.9" fill="rgb(178,178,178)"/><rect x="334.35" y="215.0" width="1.50" height="16.9" fill="rgb(127,127,127)"/><rect x="337.85" y="215.0" width="2.00" height="16.9" fill="rgb(89,89,89)"/><rect x="340.75" y="215.0" width="0.90" height="16.9" fill="rgb(178,178,178)"/><rect x="343.05" y="215.0" width="2.00" height="16.9" fill="rgb(12,12,12)"/><rect x="344.15" y="215.0" width="3.30" height="16.9" fill="rgb(114,114,114)"/><rect x="347.05" y="215.0" width="2.90" height="16.9" fill="rgb(50,50,50)"/><rect x="349.05" y="215.0" width="3.40" height="16.9" fill="rgb(114,114,114)"/><rect x="351.55" y="215.0" width="3.40" height="16.9" fill="rgb(50,50,50)"/><rect x="354.05" y="215.0" width="4.90" height="16.9" fill="rgb(76,76,76)"/><rect x="358.05" y="215.0" width="3.20" height="16.9" fill="rgb(102,102,102)"/><rect x="360.35" y="215.0" width="2.10" height="16.9" fill="rgb(140,140,140)"/>
<defs><linearGradient id="gb2" x1="0" x2="1" y1="0" y2="0"><stop offset="0" stop-color="#c82a40"/><stop offset="0.26" stop-color="#d03a52"/><stop offset="0.37" stop-color="#dc6682"/><stop offset="0.44" stop-color="#f0b4c6"/><stop offset="0.52" stop-color="#f8eef4"/><stop offset="0.6" stop-color="#ececf8"/><stop offset="0.68" stop-color="#c4c4ea"/><stop offset="0.76" stop-color="#6868b8"/><stop offset="1" stop-color="#2e2e8e"/></linearGradient></defs>
<rect x="252.6" y="232.3" width="108.4" height="4.7" fill="url(#gb2)"/>
<polyline points="253.8,166.1 257.3,166.5 260.2,168.5 263.8,170.5 267.3,171.4 270.8,171.6 272.6,170.2 275.5,172.6 279.1,174.7 283.8,176.4 287.3,178.2 292.0,181.4 296.7,184.6 300.0,186.8 305.1,191.5 310.2,195.7 315.2,199.5 320.3,202.9 325.4,205.8 330.5,208.3 335.0,209.7 338.8,211.0 343.3,212.3 345.2,210.1 347.7,206.5 350.9,201.5 354.1,198.3 356.6,193.8 358.5,187.5 359.8,178.5 361.1,170.9 362.4,165.8" fill="none" stroke="#4ea64e" stroke-width="1.0" stroke-linejoin="round"/>
<text class="t" x="304.50" y="183.30" font-size="7.8" textLength="58.80" lengthAdjust="spacingAndGlyphs" fill="#222">NES -2.20 FDR 0</text>
<rect x="252.6" y="163.6" width="115.4" height="73.4" fill="none" stroke="#1a1a1a" stroke-width="1"/>
<path d="M252.6 215.0H368.0M252.6 232.1H368.0" stroke="#1a1a1a" stroke-width="0.8"/>
<text class="t" x="246.60" y="168.10" font-size="7.9" text-anchor="end" textLength="10.15" lengthAdjust="spacingAndGlyphs" fill="#222">0.0</text>
<text class="t" x="246.60" y="177.28" font-size="7.9" text-anchor="end" textLength="14.41" lengthAdjust="spacingAndGlyphs" fill="#222">−0.1</text>
<text class="t" x="246.60" y="186.46" font-size="7.9" text-anchor="end" textLength="14.41" lengthAdjust="spacingAndGlyphs" fill="#222">−0.2</text>
<text class="t" x="246.60" y="195.64" font-size="7.9" text-anchor="end" textLength="14.41" lengthAdjust="spacingAndGlyphs" fill="#222">−0.3</text>
<text class="t" x="246.60" y="204.82" font-size="7.9" text-anchor="end" textLength="14.41" lengthAdjust="spacingAndGlyphs" fill="#222">−0.4</text>
<text class="t" x="246.60" y="214.00" font-size="7.9" text-anchor="end" textLength="14.41" lengthAdjust="spacingAndGlyphs" fill="#222">−0.5</text>
<path d="M249.8 165.50H252.6M249.8 174.68H252.6M249.8 183.86H252.6M249.8 193.04H252.6M249.8 202.22H252.6M249.8 211.40H252.6" stroke="#1a1a1a" stroke-width="0.8"/>
<text class="t" x="0" y="0" font-size="8.8" text-anchor="middle" textLength="31.5" lengthAdjust="spacingAndGlyphs" fill="#222" transform="translate(216.6 189.3) rotate(-90)">Enrichment</text>
<text class="t" x="0" y="0" font-size="8.8" text-anchor="middle" textLength="29.5" lengthAdjust="spacingAndGlyphs" fill="#222" transform="translate(227.0 189.3) rotate(-90)">score (ES)</text>
<text class="t" x="272.50" y="246.50" font-size="7.4" text-anchor="middle" textLength="23.50" lengthAdjust="spacingAndGlyphs" fill="#222">Pbrm1-</text>
<text class="t" x="272.50" y="255.60" font-size="7.4" text-anchor="middle" textLength="37.60" lengthAdjust="spacingAndGlyphs" fill="#222">suppressed</text>
<text class="t" x="353.70" y="246.50" font-size="7.4" text-anchor="middle" textLength="23.50" lengthAdjust="spacingAndGlyphs" fill="#222">Pbrm1-</text>
<text class="t" x="353.70" y="255.60" font-size="7.4" text-anchor="middle" textLength="29.00" lengthAdjust="spacingAndGlyphs" fill="#222">activated</text>
<text class="t" x="416.10" y="146.90" font-size="8.6" textLength="79.50" lengthAdjust="spacingAndGlyphs" fill="#222">HALLMARK_TNFA_</text>
<text class="t" x="407.00" y="157.50" font-size="8.6" textLength="97.40" lengthAdjust="spacingAndGlyphs" fill="#222">SIGNALING_VIA_NFKB</text>
<path d="M412.5 165.8V213.9M426.8 165.8V213.9M441.2 165.8V213.9M455.6 165.8V213.9M469.9 165.8V213.9M484.3 165.8V213.9M498.6 165.8V213.9M398.1 173.5H513.0M398.1 183.2H513.0M398.1 192.9H513.0M398.1 202.5H513.0M398.1 212.2H513.0" stroke="#f3f5f3" stroke-width="0.6" fill="none"/>
<path d="M398.1 173.50H513.0" stroke="#a8a8a8" stroke-width="0.7"/>
<rect x="399.85" y="214.4" width="2.10" height="15.9" fill="rgb(146,146,146)"/><rect x="403.35" y="214.4" width="0.90" height="15.9" fill="rgb(146,146,146)"/><rect x="405.05" y="214.4" width="2.10" height="15.9" fill="rgb(114,114,114)"/><rect x="407.95" y="214.4" width="2.00" height="15.9" fill="rgb(81,81,81)"/><rect x="410.85" y="214.4" width="0.90" height="15.9" fill="rgb(189,189,189)"/><rect x="412.55" y="214.4" width="3.20" height="15.9" fill="rgb(146,146,146)"/><rect x="416.55" y="214.4" width="0.90" height="15.9" fill="rgb(81,81,81)"/><rect x="419.45" y="214.4" width="2.10" height="15.9" fill="rgb(146,146,146)"/><rect x="421.75" y="214.4" width="0.90" height="15.9" fill="rgb(81,81,81)"/><rect x="425.85" y="214.4" width="3.20" height="15.9" fill="rgb(81,81,81)"/><rect x="430.45" y="214.4" width="2.00" height="15.9" fill="rgb(49,49,49)"/><rect x="432.75" y="214.4" width="2.60" height="15.9" fill="rgb(146,146,146)"/><rect x="436.75" y="214.4" width="0.90" height="15.9" fill="rgb(146,146,146)"/><rect x="439.05" y="214.4" width="0.90" height="15.9" fill="rgb(189,189,189)"/><rect x="441.35" y="214.4" width="3.30" height="15.9" fill="rgb(146,146,146)"/><rect x="444.85" y="214.4" width="2.10" height="15.9" fill="rgb(146,146,146)"/><rect x="448.35" y="214.4" width="2.00" height="15.9" fill="rgb(81,81,81)"/><rect x="451.75" y="214.4" width="0.90" height="15.9" fill="rgb(146,146,146)"/><rect x="454.65" y="214.4" width="2.60" height="15.9" fill="rgb(81,81,81)"/><rect x="456.35" y="214.4" width="2.40" height="15.9" fill="rgb(114,114,114)"/><rect x="459.55" y="214.4" width="2.10" height="15.9" fill="rgb(146,146,146)"/><rect x="462.45" y="214.4" width="2.10" height="15.9" fill="rgb(81,81,81)"/><rect x="466.55" y="214.4" width="4.90" height="15.9" fill="rgb(103,103,103)"/><rect x="472.25" y="214.4" width="2.70" height="15.9" fill="rgb(146,146,146)"/><rect x="475.75" y="214.4" width="2.00" height="15.9" fill="rgb(146,146,146)"/><rect x="479.25" y="214.4" width="2.00" height="15.9" fill="rgb(81,81,81)"/><rect x="482.05" y="214.4" width="2.70" height="15.9" fill="rgb(81,81,81)"/><rect x="484.95" y="214.4" width="3.20" height="15.9" fill="rgb(114,114,114)"/><rect x="490.15" y="214.4" width="3.20" height="15.9" fill="rgb(81,81,81)"/><rect x="493.65" y="214.4" width="2.60" height="15.9" fill="rgb(146,146,146)"/><rect x="497.05" y="214.4" width="2.10" height="15.9" fill="rgb(114,114,114)"/><rect x="499.35" y="214.4" width="7.90" height="15.9" fill="rgb(120,120,120)"/>
<defs><linearGradient id="gb3" x1="0" x2="1" y1="0" y2="0"><stop offset="0" stop-color="#c82a40"/><stop offset="0.26" stop-color="#d03a52"/><stop offset="0.37" stop-color="#dc6682"/><stop offset="0.44" stop-color="#f0b4c6"/><stop offset="0.52" stop-color="#f8eef4"/><stop offset="0.6" stop-color="#ececf8"/><stop offset="0.68" stop-color="#c4c4ea"/><stop offset="0.76" stop-color="#6868b8"/><stop offset="1" stop-color="#2e2e8e"/></linearGradient></defs>
<rect x="398.1" y="230.7" width="108.9" height="4.8" fill="url(#gb3)"/>
<polyline points="398.6,168.3 400.5,168.0 402.3,168.9 404.1,169.5 406.0,168.8 408.0,169.2 410.0,168.7 412.0,169.4 413.5,169.5 415.3,169.2 417.0,170.1 419.9,171.8 422.9,173.8 427.6,176.5 432.3,179.5 437.0,183.6 441.7,187.1 445.0,189.0 450.1,193.5 455.2,197.9 460.2,202.4 465.3,206.2 470.4,208.5 475.5,210.6 478.7,211.0 481.9,211.9 485.7,209.3 490.2,207.4 492.7,204.3 495.2,199.8 497.8,194.7 499.7,191.6 501.6,189.0 503.5,185.2 505.4,182.0 507.0,180.0 507.5,177.5 507.5,173.3" fill="none" stroke="#4ea64e" stroke-width="1.0" stroke-linejoin="round"/>
<text class="t" x="437.40" y="182.10" font-size="7.8" textLength="76.20" lengthAdjust="spacingAndGlyphs" fill="#222">NES -1.72&#160;&#160;FDR 0.004</text>
<rect x="398.1" y="165.3" width="114.9" height="70.2" fill="none" stroke="#1a1a1a" stroke-width="1"/>
<path d="M398.1 214.4H513.0M398.1 230.5H513.0" stroke="#1a1a1a" stroke-width="0.8"/>
<text class="t" x="392.10" y="176.10" font-size="7.9" text-anchor="end" textLength="10.15" lengthAdjust="spacingAndGlyphs" fill="#222">0.0</text>
<text class="t" x="392.10" y="185.78" font-size="7.9" text-anchor="end" textLength="14.41" lengthAdjust="spacingAndGlyphs" fill="#222">−0.1</text>
<text class="t" x="392.10" y="195.46" font-size="7.9" text-anchor="end" textLength="14.41" lengthAdjust="spacingAndGlyphs" fill="#222">−0.2</text>
<text class="t" x="392.10" y="205.14" font-size="7.9" text-anchor="end" textLength="14.41" lengthAdjust="spacingAndGlyphs" fill="#222">−0.3</text>
<text class="t" x="392.10" y="214.82" font-size="7.9" text-anchor="end" textLength="14.41" lengthAdjust="spacingAndGlyphs" fill="#222">−0.4</text>
<path d="M395.3 173.50H398.1M395.3 183.18H398.1M395.3 192.86H398.1M395.3 202.54H398.1M395.3 212.22H398.1" stroke="#1a1a1a" stroke-width="0.8"/>
<text class="t" x="416.80" y="246.00" font-size="7.4" text-anchor="middle" textLength="23.50" lengthAdjust="spacingAndGlyphs" fill="#222">Pbrm1-</text>
<text class="t" x="416.80" y="255.40" font-size="7.4" text-anchor="middle" textLength="37.60" lengthAdjust="spacingAndGlyphs" fill="#222">suppressed</text>
<text class="t" x="499.50" y="246.00" font-size="7.4" text-anchor="middle" textLength="23.50" lengthAdjust="spacingAndGlyphs" fill="#222">Pbrm1-</text>
<text class="t" x="499.50" y="255.40" font-size="7.4" text-anchor="middle" textLength="29.00" lengthAdjust="spacingAndGlyphs" fill="#222">activated</text>
<path d="M334.3 267H341.9" stroke="#5cb85c" stroke-width="0.9"/>
<text class="t" x="345.40" y="269.60" font-size="7.4" textLength="54.90" lengthAdjust="spacingAndGlyphs" fill="#222">Enrichment profile</text>
<path d="M408.8 267H417.4" stroke="#1a1a1a" stroke-width="0.9"/>
<text class="t" x="420.90" y="269.60" font-size="7.4" textLength="11.70" lengthAdjust="spacingAndGlyphs" fill="#222">Hits</text>
<defs>
<filter id="bl1" x="-30%" y="-30%" width="160%" height="160%"><feGaussianBlur stdDeviation="1.3"/></filter>
<filter id="bl2" x="-30%" y="-30%" width="160%" height="160%"><feGaussianBlur stdDeviation="0.8"/></filter>
<filter id="bl3" x="-50%" y="-50%" width="200%" height="200%"><feGaussianBlur stdDeviation="0.5"/></filter>
<radialGradient id="cellin" cx="0.45" cy="0.45" r="0.6"><stop offset="0" stop-color="#fde6c8"/><stop offset="1" stop-color="#f2bc84"/></radialGradient>
<radialGradient id="cellin2" cx="0.45" cy="0.45" r="0.6"><stop offset="0" stop-color="#fffbe8"/><stop offset="1" stop-color="#f0d8a0"/></radialGradient>
<radialGradient id="cellin3" cx="0.45" cy="0.45" r="0.6"><stop offset="0" stop-color="#fff8f0"/><stop offset="1" stop-color="#f4d0a8"/></radialGradient>
</defs>
<text class="t" x="32.90" y="324.10" font-size="7.5" textLength="53.60" lengthAdjust="spacingAndGlyphs" font-style="italic" fill="#222">Tet2/Tet3/Pbrm1</text>
<text class="t" x="46.20" y="333.90" font-size="7.5" textLength="27.60" lengthAdjust="spacingAndGlyphs" fill="#222">sgRNAs</text>
<text class="t" x="12.80" y="372.70" font-size="7.5" textLength="25.40" lengthAdjust="spacingAndGlyphs" fill="#222">HSPCs</text>
<text class="t" x="116.70" y="324.10" font-size="7.5" textLength="24.30" lengthAdjust="spacingAndGlyphs" fill="#222">Primary</text>
<text class="t" x="105.20" y="333.90" font-size="7.5" textLength="47.90" lengthAdjust="spacingAndGlyphs" fill="#222">transplantation</text>
<text class="t" x="145.00" y="372.50" font-size="7.5" textLength="25.30" lengthAdjust="spacingAndGlyphs" fill="#222">B6/129</text>
<text class="t" x="210.70" y="324.10" font-size="7.5" textLength="34.60" lengthAdjust="spacingAndGlyphs" fill="#222">Secondary</text>
<text class="t" x="204.10" y="333.90" font-size="7.5" textLength="47.80" lengthAdjust="spacingAndGlyphs" fill="#222">transplantation</text>
<text class="t" x="243.00" y="372.50" font-size="7.5" textLength="16.50" lengthAdjust="spacingAndGlyphs" fill="#222">NSG</text>
<path d="M42.3 352.0H66.8" stroke="#5a5a5a" stroke-width="1.1"/>
<path d="M66.3 349.8L71.39999999999999 352.0L66.3 354.2Z" fill="#111"/>
<path d="M121.0 352.0H136.0" stroke="#5a5a5a" stroke-width="1.1"/>
<path d="M135.5 349.8L140.6 352.0L135.5 354.2Z" fill="#111"/>
<path d="M169.1 352.0H178.0" stroke="#5a5a5a" stroke-width="1.1"/>
<path d="M177.5 349.8L182.6 352.0L177.5 354.2Z" fill="#111"/>
<path d="M217.3 352.0H227.0" stroke="#5a5a5a" stroke-width="1.1"/>
<path d="M226.5 349.8L231.6 352.0L226.5 354.2Z" fill="#111"/>
<circle cx="57.7" cy="342.8" r="4.2" fill="#f0f080" filter="url(#bl2)"/>
<circle cx="57.7" cy="342.8" r="2.7" fill="#c6d200"/>
<path d="M14 342 L22 338.5 L30 342 L37 344 L37.5 351 L36 358 L27 361 L22 364 L15 362.5 L9.5 356 L8.5 349 Z" fill="#f7cc48" filter="url(#bl1)" opacity="0.9"/>
<circle cx="21.2" cy="357.6" r="2.5" fill="url(#cellin)" stroke="#9c7428" stroke-width="1.15" opacity="0.6"/>
<circle cx="32.5" cy="354.5" r="2.7" fill="url(#cellin)" stroke="#9c7428" stroke-width="1.15" opacity="0.7"/>
<circle cx="21.5" cy="343.5" r="2.8000000000000003" fill="url(#cellin)" stroke="#9c7428" stroke-width="1.15" opacity="1"/>
<circle cx="33.4" cy="347.2" r="2.8000000000000003" fill="url(#cellin)" stroke="#9c7428" stroke-width="1.15" opacity="1"/>
<circle cx="12.3" cy="349.9" r="2.7" fill="url(#cellin)" stroke="#9c7428" stroke-width="1.15" opacity="0.9"/>
<circle cx="25.5" cy="348.4" r="2.7" fill="url(#cellin)" stroke="#9c7428" stroke-width="1.15" opacity="1"/>
<circle cx="17.2" cy="353" r="2.8000000000000003" fill="url(#cellin)" stroke="#9c7428" stroke-width="1.15" opacity="1"/>
<circle cx="25.1" cy="353.6" r="2.8000000000000003" fill="url(#cellin)" stroke="#9c7428" stroke-width="1.15" opacity="1"/>
<path d="M87 347 L92 344.5 L96 346 L96 362 L90 361 L86.5 356 Z" fill="#f8d870" filter="url(#bl1)"/>
<path d="M95 345 L101 341.5 L107 343 L113 343.5 L115.5 348 L113 354 L107 356 L106 361.5 L100 363.5 L95 361 L93 354 Z" fill="#cddc18" filter="url(#bl1)"/>
<circle cx="91.1" cy="349.2" r="2.7" fill="url(#cellin3)" stroke="#b08a3a" stroke-width="1.15"/>
<circle cx="90.8" cy="356.0" r="2.7" fill="url(#cellin3)" stroke="#b08a3a" stroke-width="1.15"/>
<circle cx="95.1" cy="354.2" r="2.6" fill="url(#cellin3)" stroke="#8a7a20" stroke-width="1.15"/>
<circle cx="100.6" cy="344.9" r="2.5" fill="url(#cellin2)" stroke="#7a7a18" stroke-width="1.15"/>
<circle cx="100.3" cy="351.1" r="3.0" fill="url(#cellin2)" stroke="#5e5e10" stroke-width="1.15"/>
<circle cx="110.5" cy="348.6" r="3.0" fill="url(#cellin2)" stroke="#5e5e10" stroke-width="1.15"/>
<circle cx="101.5" cy="357.2" r="2.8000000000000003" fill="url(#cellin2)" stroke="#5e5e10" stroke-width="1.15"/>
<g filter="url(#bl3)">
<circle cx="194.6" cy="349.8" r="4.6" fill="#b4d868" stroke="#8cbc48" stroke-width="0.6"/>
<circle cx="205.4" cy="345.2" r="4.6" fill="#b4d868" stroke="#8cbc48" stroke-width="0.6"/>
<circle cx="208.7" cy="352.5" r="4.6" fill="#b4d868" stroke="#8cbc48" stroke-width="0.6"/>
<circle cx="198.8" cy="359.1" r="4.6" fill="#b4d868" stroke="#8cbc48" stroke-width="0.6"/>
<circle cx="201.8" cy="353.1" r="4.2" fill="#b4d868" stroke="#8cbc48" stroke-width="0.6"/>
<circle cx="211.5" cy="356.5" r="3.0" fill="#b4d868" stroke="#8cbc48" stroke-width="0.6"/>
<circle cx="191.5" cy="346.5" r="2.5" fill="#b4d868" stroke="#8cbc48" stroke-width="0.6"/>
<circle cx="202" cy="341.5" r="3.0" fill="#b4d868" stroke="#8cbc48" stroke-width="0.6"/>
<circle cx="195.5" cy="363" r="2.5" fill="#b4d868" stroke="#8cbc48" stroke-width="0.6"/>
</g>
<circle cx="194.6" cy="349.8" r="2.4" fill="#fff6e6" stroke="#9a6a30" stroke-width="0.9"/>
<circle cx="194.29999999999998" cy="349.6" r="1.2" fill="#f8d0a8"/>
<circle cx="205.4" cy="345.2" r="2.4" fill="#fff6e6" stroke="#9a6a30" stroke-width="0.9"/>
<circle cx="205.1" cy="345.0" r="1.2" fill="#f8d0a8"/>
<circle cx="208.7" cy="352.5" r="2.4" fill="#fff6e6" stroke="#9a6a30" stroke-width="0.9"/>
<circle cx="208.39999999999998" cy="352.3" r="1.2" fill="#f8d0a8"/>
<circle cx="198.8" cy="359.1" r="2.4" fill="#fff6e6" stroke="#9a6a30" stroke-width="0.9"/>
<circle cx="198.5" cy="358.90000000000003" r="1.2" fill="#f8d0a8"/>
<path d="M154.2 346.6 C151.5 344 149.5 343.8 148.3 345.4 C147.4 346.6 146.5 347.4 145.6 347.8" fill="none" stroke="#151515" stroke-width="1.3"/>
<path d="M155.6 346.3 C159.6 346.3 162.6 349.5 162.6 353.6 C162.6 357 159 360.4 155.8 361.8 C152.6 360.4 149.2 357 149.2 353.6 C149.2 349.5 151.8 346.3 155.6 346.3 Z" fill="#3c3c3c"/>
<path d="M149.3 352.2 C150.6 351.8 152.4 352.8 152.8 355.4 C151.8 357 150.2 356.8 149.4 355.8 Z" fill="#7a7a7a"/>
<path d="M162.5 352.2 C161.2 351.8 159.4 352.8 159 355.4 C160 357 161.6 356.8 162.4 355.8 Z" fill="#7a7a7a"/>
<path d="M155.8 352 L155.8 360" stroke="#555" stroke-width="0.5"/>
<path d="M249 346.8 C247 344.6 245.4 344.6 244.2 346 C243.4 347 242.6 347.6 241.7 347.6" fill="none" stroke="#111" stroke-width="1.0"/>
<path d="M250.8 346.6 C254.6 346.6 257.4 349.6 257.4 353.4 C257.4 356.6 254.4 359.6 250.8 360.2 C247.2 359.6 244.2 356.6 244.2 353.4 C244.2 349.6 247 346.6 250.8 346.6 Z" fill="#fff" stroke="#111" stroke-width="1.0"/>
<path d="M245.6 352.4 C246.6 351 248 351.2 248.8 353.2 M256 352.4 C255 351 253.6 351.2 252.8 353.2" fill="none" stroke="#222" stroke-width="0.75"/>
<path d="M249.3 356.6 V358.2 M252.4 356.6 V358.2" stroke="#222" stroke-width="0.7"/>
<path d="M246 360.3 L248.5 359.4 M255.6 360.3 L253.1 359.4 M247.2 361 L250.8 360.4 L254.4 361" fill="none" stroke="#333" stroke-width="0.7"/>
<path d="M345.2 301.6V391.0H465.8" fill="none" stroke="#231f20" stroke-width="1.1"/>
<text class="t" x="339.50" y="393.50" font-size="8.4" text-anchor="end" textLength="4.39" lengthAdjust="spacingAndGlyphs" fill="#333">0</text>
<text class="t" x="339.50" y="352.70" font-size="8.4" text-anchor="end" textLength="8.78" lengthAdjust="spacingAndGlyphs" fill="#333">50</text>
<text class="t" x="339.50" y="311.90" font-size="8.4" text-anchor="end" textLength="13.18" lengthAdjust="spacingAndGlyphs" fill="#333">100</text>
<text class="t" x="345.30" y="403.60" font-size="8.4" text-anchor="middle" textLength="4.39" lengthAdjust="spacingAndGlyphs" fill="#333">0</text>
<text class="t" x="368.75" y="403.60" font-size="8.4" text-anchor="middle" textLength="8.78" lengthAdjust="spacingAndGlyphs" fill="#333">10</text>
<text class="t" x="392.20" y="403.60" font-size="8.4" text-anchor="middle" textLength="8.78" lengthAdjust="spacingAndGlyphs" fill="#333">20</text>
<text class="t" x="415.65" y="403.60" font-size="8.4" text-anchor="middle" textLength="8.78" lengthAdjust="spacingAndGlyphs" fill="#333">30</text>
<text class="t" x="439.10" y="403.60" font-size="8.4" text-anchor="middle" textLength="8.78" lengthAdjust="spacingAndGlyphs" fill="#333">40</text>
<text class="t" x="462.55" y="403.60" font-size="8.4" text-anchor="middle" textLength="8.78" lengthAdjust="spacingAndGlyphs" fill="#333">50</text>
<path d="M342.4 391.00H345.2M342.4 350.20H345.2M342.4 309.40H345.2M345.30 391V393.6M368.75 391V393.6M392.20 391V393.6M415.65 391V393.6M439.10 391V393.6M462.55 391V393.6" stroke="#231f20" stroke-width="0.9"/>
<text class="t" x="405.20" y="416.30" font-size="8.2" text-anchor="middle" textLength="12.90" lengthAdjust="spacingAndGlyphs" fill="#333">Days</text>
<text class="t" x="0" y="0" font-size="8.2" text-anchor="middle" textLength="54" lengthAdjust="spacingAndGlyphs" fill="#333" transform="translate(310.8 344.5) rotate(-90)">Percent of survival</text>
<text class="t" x="0" y="0" font-size="8.2" text-anchor="middle" textLength="87.5" lengthAdjust="spacingAndGlyphs" fill="#333" transform="translate(320.6 345.6) rotate(-90)">secondary transplantation NSG</text>
<polyline points="392.1,309.4 392.1,329.6 393.8,329.6 393.8,350.1 401.2,350.1 401.2,360.1 417.6,360.1 417.6,364.8 420.2,364.8 424.8,364.8 424.8,370.4 427.3,370.4 427.3,375.2 434.5,375.2 434.5,381.1 443.9,381.1 443.9,385.9 446.5,385.9 446.5,391.0" fill="none" stroke="#e0312f" stroke-width="1"/>
<polyline points="345.7,309.4 392.1,309.4 392.1,317.2 394.6,317.2 394.6,325.4 396.6,325.4 396.6,345.9 399.1,345.9 399.1,350.1 413.2,350.1 413.2,354.2 418.2,354.2 418.2,358.3 420.2,358.3 420.2,365.2 422.4,365.2 422.4,378.2 424.8,378.2 424.8,386.8 427.3,386.8 427.3,391.0" fill="none" stroke="#4a4aa8" stroke-width="1"/>
<path d="M451.5 341.1H461.2M456.3 339.6V341.1" stroke="#4a4aa8" stroke-width="0.9" fill="none"/>
<path d="M451.5 354.9H461.2M456.3 353.4V354.9" stroke="#e0312f" stroke-width="0.9" fill="none"/>
<text class="t" x="464.00" y="343.50" font-size="7.6" textLength="40.00" lengthAdjust="spacingAndGlyphs" fill="#333">AML - Pbrm1</text>
<text class="t" x="504.40" y="339.60" font-size="5.0" textLength="7.80" lengthAdjust="spacingAndGlyphs" fill="#333">+/+</text>
<text class="t" x="464.00" y="357.40" font-size="7.6" textLength="40.00" lengthAdjust="spacingAndGlyphs" fill="#333">AML - Pbrm1</text>
<text class="t" x="504.40" y="353.50" font-size="5.0" textLength="7.80" lengthAdjust="spacingAndGlyphs" fill="#333">−/−</text>
<text class="t" x="7.00" y="18.40" font-size="10.8" textLength="7.20" lengthAdjust="spacingAndGlyphs" font-weight="bold" fill="#000">A</text>
<text class="t" x="208.80" y="15.70" font-size="10.8" textLength="7.40" lengthAdjust="spacingAndGlyphs" font-weight="bold" fill="#000">B</text>
<text class="t" x="6.60" y="295.50" font-size="10.8" textLength="7.60" lengthAdjust="spacingAndGlyphs" font-weight="bold" fill="#000">C</text>
<text class="t" x="292.40" y="295.20" font-size="10.8" textLength="7.60" lengthAdjust="spacingAndGlyphs" font-weight="bold" fill="#000">D</text>
<rect x="0.5" y="0.5" width="519" height="424" fill="none" stroke="#5a5a5a" stroke-width="1"/>
</svg></body></html>
